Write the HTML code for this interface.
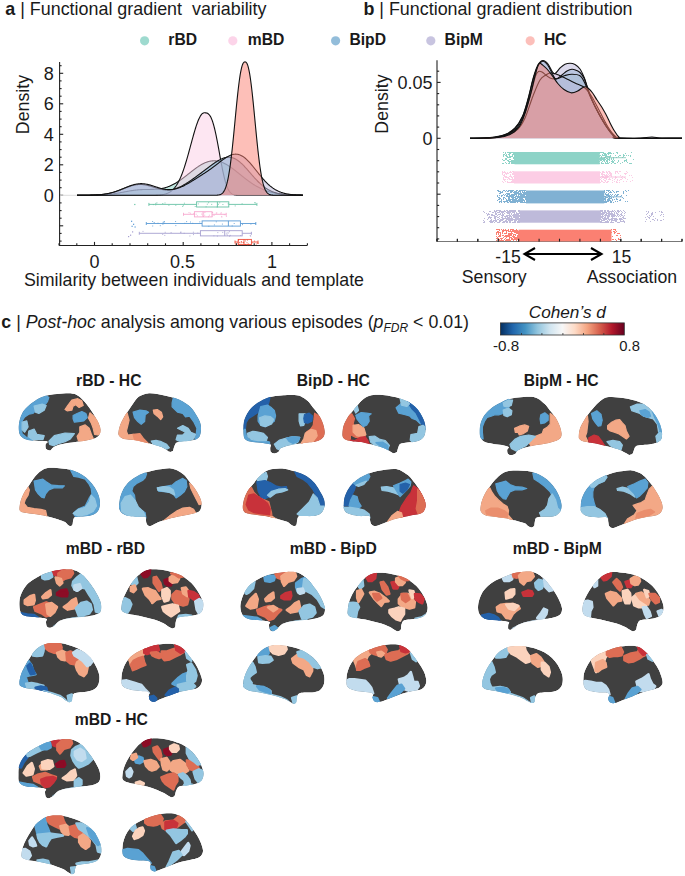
<!DOCTYPE html>
<html><head><meta charset="utf-8"><style>
html,body{margin:0;padding:0;background:#fff;}
body{width:685px;height:876px;overflow:hidden;}
svg{display:block;}
text{font-family:"Liberation Sans",sans-serif;}
</style></head><body>
<svg width="685" height="876" viewBox="0 0 685 876" font-family="Liberation Sans, sans-serif">
<rect width="685" height="876" fill="#fff"/>
<text x="5.3" y="15.3" font-size="17.9" fill="#1a1a1a"><tspan font-weight="bold">a</tspan> | Functional gradient&#160; variability</text>
<text x="363.4" y="15.3" font-size="17.9" fill="#1a1a1a"><tspan font-weight="bold">b</tspan> | Functional gradient distribution</text>
<circle cx="144.6" cy="40.8" r="4.6" fill="#8dd3c7" fill-opacity="0.85"/>
<text x="168.3" y="45.0" font-size="15.7" font-weight="bold" fill="#1a1a1a">rBD</text>
<circle cx="232.8" cy="40.8" r="4.6" fill="#fccde5" fill-opacity="0.85"/>
<text x="247.7" y="45.0" font-size="15.7" font-weight="bold" fill="#1a1a1a">mBD</text>
<circle cx="335.6" cy="40.8" r="4.6" fill="#80b1d3" fill-opacity="0.85"/>
<text x="349.4" y="45.0" font-size="15.7" font-weight="bold" fill="#1a1a1a">BipD</text>
<circle cx="430.8" cy="40.8" r="4.6" fill="#bebada" fill-opacity="0.85"/>
<text x="444.6" y="45.0" font-size="15.7" font-weight="bold" fill="#1a1a1a">BipM</text>
<circle cx="530.2" cy="40.8" r="4.6" fill="#fbb4ae" fill-opacity="0.85"/>
<text x="544.0" y="45.0" font-size="15.7" font-weight="bold" fill="#1a1a1a">HC</text>
<g stroke="#222" stroke-width="1.1" fill="none">
<path d="M59.6,62 V245.5 H307.2"/>
<path d="M59.6,241.1 h2.0"/>
<path d="M59.6,233.4 h2.0"/>
<path d="M59.6,225.8 h3.6"/>
<path d="M59.6,218.2 h2.0"/>
<path d="M59.6,210.6 h2.0"/>
<path d="M59.6,202.9 h2.0"/>
<path d="M59.6,195.3 h3.6"/>
<path d="M59.6,187.7 h2.0"/>
<path d="M59.6,180.1 h2.0"/>
<path d="M59.6,172.4 h2.0"/>
<path d="M59.6,164.8 h3.6"/>
<path d="M59.6,157.2 h2.0"/>
<path d="M59.6,149.6 h2.0"/>
<path d="M59.6,141.9 h2.0"/>
<path d="M59.6,134.3 h3.6"/>
<path d="M59.6,126.7 h2.0"/>
<path d="M59.6,119.1 h2.0"/>
<path d="M59.6,111.4 h2.0"/>
<path d="M59.6,103.8 h3.6"/>
<path d="M59.6,96.2 h2.0"/>
<path d="M59.6,88.6 h2.0"/>
<path d="M59.6,80.9 h2.0"/>
<path d="M59.6,73.3 h3.6"/>
<path d="M59.6,65.7 h2.0"/>
<path d="M59.0,245.5 v-2.2"/>
<path d="M76.8,245.5 v-2.2"/>
<path d="M94.5,245.5 v-3.6"/>
<path d="M112.2,245.5 v-2.2"/>
<path d="M130.0,245.5 v-2.2"/>
<path d="M147.7,245.5 v-2.2"/>
<path d="M165.5,245.5 v-2.2"/>
<path d="M183.2,245.5 v-3.6"/>
<path d="M200.9,245.5 v-2.2"/>
<path d="M218.7,245.5 v-2.2"/>
<path d="M236.4,245.5 v-2.2"/>
<path d="M254.2,245.5 v-2.2"/>
<path d="M271.9,245.5 v-3.6"/>
<path d="M289.6,245.5 v-2.2"/>
<path d="M307.4,245.5 v-2.2"/>
</g>
<text x="53.8" y="201.60000000000002" font-size="18" font-weight="normal" font-style="normal" text-anchor="end" fill="#1a1a1a" >0</text>
<text x="53.8" y="171.10000000000002" font-size="18" font-weight="normal" font-style="normal" text-anchor="end" fill="#1a1a1a" >2</text>
<text x="53.8" y="140.60000000000002" font-size="18" font-weight="normal" font-style="normal" text-anchor="end" fill="#1a1a1a" >4</text>
<text x="53.8" y="110.1" font-size="18" font-weight="normal" font-style="normal" text-anchor="end" fill="#1a1a1a" >6</text>
<text x="53.8" y="79.6" font-size="18" font-weight="normal" font-style="normal" text-anchor="end" fill="#1a1a1a" >8</text>
<text x="94.5" y="267.5" font-size="18" font-weight="normal" font-style="normal" text-anchor="middle" fill="#1a1a1a" >0</text>
<text x="182.6" y="267.5" font-size="18" font-weight="normal" font-style="normal" text-anchor="middle" fill="#1a1a1a" >0.5</text>
<text x="272" y="267.5" font-size="18" font-weight="normal" font-style="normal" text-anchor="middle" fill="#1a1a1a" >1</text>
<text x="194" y="285.6" font-size="17.8" font-weight="normal" font-style="normal" text-anchor="middle" fill="#1a1a1a" >Similarity between individuals and template</text>
<text transform="translate(28.9,104.5) rotate(-90)" font-size="17.8" text-anchor="middle" fill="#1a1a1a">Density</text>
<path d="M77.0,195.3 L77.0,195.29 L77.5,195.29 L78.0,195.29 L78.5,195.29 L79.0,195.29 L79.5,195.29 L80.0,195.29 L80.5,195.29 L81.0,195.29 L81.5,195.29 L82.0,195.29 L82.5,195.28 L83.0,195.28 L83.5,195.28 L84.0,195.28 L84.5,195.28 L85.0,195.27 L85.5,195.27 L86.0,195.27 L86.5,195.26 L87.0,195.26 L87.5,195.26 L88.0,195.25 L88.5,195.25 L89.0,195.24 L89.5,195.24 L90.0,195.23 L90.5,195.23 L91.0,195.22 L91.5,195.21 L92.0,195.21 L92.5,195.20 L93.0,195.19 L93.5,195.18 L94.0,195.17 L94.5,195.16 L95.0,195.15 L95.5,195.14 L96.0,195.12 L96.5,195.11 L97.0,195.09 L97.5,195.08 L98.0,195.06 L98.5,195.04 L99.0,195.03 L99.5,195.01 L100.0,194.98 L100.5,194.96 L101.0,194.94 L101.5,194.91 L102.0,194.89 L102.5,194.86 L103.0,194.83 L103.5,194.80 L104.0,194.76 L104.5,194.73 L105.0,194.69 L105.5,194.66 L106.0,194.62 L106.5,194.58 L107.0,194.53 L107.5,194.49 L108.0,194.44 L108.5,194.39 L109.0,194.34 L109.5,194.29 L110.0,194.23 L110.5,194.18 L111.0,194.12 L111.5,194.06 L112.0,194.00 L112.5,193.93 L113.0,193.87 L113.5,193.80 L114.0,193.73 L114.5,193.65 L115.0,193.58 L115.5,193.50 L116.0,193.43 L116.5,193.35 L117.0,193.27 L117.5,193.18 L118.0,193.10 L118.5,193.01 L119.0,192.93 L119.5,192.84 L120.0,192.75 L120.5,192.66 L121.0,192.57 L121.5,192.47 L122.0,192.38 L122.5,192.29 L123.0,192.19 L123.5,192.10 L124.0,192.00 L124.5,191.91 L125.0,191.81 L125.5,191.72 L126.0,191.63 L126.5,191.53 L127.0,191.44 L127.5,191.35 L128.0,191.26 L128.5,191.17 L129.0,191.08 L129.5,190.99 L130.0,190.91 L130.5,190.82 L131.0,190.74 L131.5,190.66 L132.0,190.59 L132.5,190.51 L133.0,190.44 L133.5,190.37 L134.0,190.30 L134.5,190.23 L135.0,190.17 L135.5,190.11 L136.0,190.05 L136.5,190.00 L137.0,189.95 L137.5,189.90 L138.0,189.85 L138.5,189.81 L139.0,189.77 L139.5,189.73 L140.0,189.70 L140.5,189.67 L141.0,189.64 L141.5,189.61 L142.0,189.59 L142.5,189.57 L143.0,189.55 L143.5,189.53 L144.0,189.52 L144.5,189.50 L145.0,189.49 L145.5,189.48 L146.0,189.47 L146.5,189.47 L147.0,189.46 L147.5,189.45 L148.0,189.45 L148.5,189.44 L149.0,189.44 L149.5,189.43 L150.0,189.43 L150.5,189.42 L151.0,189.41 L151.5,189.40 L152.0,189.39 L152.5,189.38 L153.0,189.37 L153.5,189.35 L154.0,189.33 L154.5,189.31 L155.0,189.28 L155.5,189.26 L156.0,189.22 L156.5,189.19 L157.0,189.15 L157.5,189.10 L158.0,189.05 L158.5,189.00 L159.0,188.94 L159.5,188.88 L160.0,188.81 L160.5,188.73 L161.0,188.65 L161.5,188.56 L162.0,188.47 L162.5,188.37 L163.0,188.26 L163.5,188.15 L164.0,188.02 L164.5,187.90 L165.0,187.76 L165.5,187.62 L166.0,187.47 L166.5,187.31 L167.0,187.15 L167.5,186.98 L168.0,186.80 L168.5,186.61 L169.0,186.42 L169.5,186.22 L170.0,186.01 L170.5,185.79 L171.0,185.56 L171.5,185.33 L172.0,185.09 L172.5,184.84 L173.0,184.59 L173.5,184.33 L174.0,184.06 L174.5,183.78 L175.0,183.50 L175.5,183.21 L176.0,182.91 L176.5,182.61 L177.0,182.30 L177.5,181.98 L178.0,181.66 L178.5,181.33 L179.0,181.00 L179.5,180.66 L180.0,180.31 L180.5,179.96 L181.0,179.61 L181.5,179.25 L182.0,178.89 L182.5,178.52 L183.0,178.15 L183.5,177.77 L184.0,177.39 L184.5,177.01 L185.0,176.63 L185.5,176.24 L186.0,175.85 L186.5,175.46 L187.0,175.07 L187.5,174.68 L188.0,174.28 L188.5,173.89 L189.0,173.49 L189.5,173.10 L190.0,172.70 L190.5,172.31 L191.0,171.92 L191.5,171.52 L192.0,171.14 L192.5,170.75 L193.0,170.36 L193.5,169.98 L194.0,169.60 L194.5,169.23 L195.0,168.86 L195.5,168.49 L196.0,168.13 L196.5,167.77 L197.0,167.42 L197.5,167.08 L198.0,166.74 L198.5,166.40 L199.0,166.08 L199.5,165.76 L200.0,165.45 L200.5,165.14 L201.0,164.85 L201.5,164.56 L202.0,164.28 L202.5,164.01 L203.0,163.75 L203.5,163.50 L204.0,163.26 L204.5,163.02 L205.0,162.80 L205.5,162.59 L206.0,162.39 L206.5,162.20 L207.0,162.03 L207.5,161.86 L208.0,161.70 L208.5,161.56 L209.0,161.43 L209.5,161.31 L210.0,161.20 L210.5,161.11 L211.0,161.03 L211.5,160.96 L212.0,160.90 L212.5,160.86 L213.0,160.83 L213.5,160.81 L214.0,160.80 L214.5,160.81 L215.0,160.83 L215.5,160.86 L216.0,160.90 L216.5,160.96 L217.0,161.03 L217.5,161.11 L218.0,161.21 L218.5,161.31 L219.0,161.43 L219.5,161.56 L220.0,161.71 L220.5,161.86 L221.0,162.03 L221.5,162.21 L222.0,162.40 L222.5,162.60 L223.0,162.81 L223.5,163.03 L224.0,163.26 L224.5,163.50 L225.0,163.75 L225.5,164.01 L226.0,164.29 L226.5,164.57 L227.0,164.85 L227.5,165.15 L228.0,165.46 L228.5,165.77 L229.0,166.09 L229.5,166.42 L230.0,166.75 L230.5,167.09 L231.0,167.44 L231.5,167.79 L232.0,168.15 L232.5,168.52 L233.0,168.88 L233.5,169.26 L234.0,169.64 L234.5,170.02 L235.0,170.40 L235.5,170.79 L236.0,171.18 L236.5,171.58 L237.0,171.97 L237.5,172.37 L238.0,172.77 L238.5,173.17 L239.0,173.57 L239.5,173.97 L240.0,174.37 L240.5,174.78 L241.0,175.18 L241.5,175.58 L242.0,175.98 L242.5,176.38 L243.0,176.78 L243.5,177.18 L244.0,177.57 L244.5,177.96 L245.0,178.35 L245.5,178.74 L246.0,179.12 L246.5,179.50 L247.0,179.88 L247.5,180.26 L248.0,180.63 L248.5,181.00 L249.0,181.36 L249.5,181.72 L250.0,182.07 L250.5,182.42 L251.0,182.77 L251.5,183.11 L252.0,183.44 L252.5,183.77 L253.0,184.10 L253.5,184.42 L254.0,184.74 L254.5,185.05 L255.0,185.35 L255.5,185.65 L256.0,185.94 L256.5,186.23 L257.0,186.51 L257.5,186.79 L258.0,187.06 L258.5,187.33 L259.0,187.59 L259.5,187.84 L260.0,188.09 L260.5,188.33 L261.0,188.57 L261.5,188.80 L262.0,189.02 L262.5,189.24 L263.0,189.46 L263.5,189.67 L264.0,189.87 L264.5,190.07 L265.0,190.26 L265.5,190.45 L266.0,190.63 L266.5,190.81 L267.0,190.98 L267.5,191.15 L268.0,191.31 L268.5,191.47 L269.0,191.62 L269.5,191.77 L270.0,191.91 L270.5,192.05 L271.0,192.18 L271.5,192.31 L272.0,192.43 L272.5,192.56 L273.0,192.67 L273.5,192.78 L274.0,192.89 L274.5,193.00 L275.0,193.10 L275.5,193.20 L276.0,193.29 L276.5,193.38 L277.0,193.47 L277.5,193.55 L278.0,193.63 L278.5,193.71 L279.0,193.78 L279.5,193.86 L280.0,193.92 L280.5,193.99 L281.0,194.05 L281.5,194.11 L282.0,194.17 L282.5,194.23 L283.0,194.28 L283.5,194.33 L284.0,194.38 L284.5,194.43 L285.0,194.47 L285.5,194.51 L286.0,194.55 L286.5,194.59 L287.0,194.63 L287.5,194.67 L288.0,194.70 L288.5,194.73 L289.0,194.76 L289.5,194.79 L290.0,194.82 L290.5,194.85 L291.0,194.87 L291.5,194.89 L292.0,194.92 L292.5,194.94 L293.0,194.96 L293.5,194.98 L294.0,195.00 L294.5,195.01 L295.0,195.03 L295.5,195.05 L296.0,195.06 L296.5,195.08 L297.0,195.09 L297.5,195.10 L298.0,195.11 L298.5,195.12 L299.0,195.14 L299.5,195.15 L300.0,195.15 L300.5,195.16 L301.0,195.17 L301.5,195.18 L302.0,195.19 L302.5,195.19 L303.0,195.20 L303.0,195.3Z" fill="#8dd3c7" fill-opacity="0.55" stroke="none"/>
<path d="M77.0,195.29 L77.5,195.29 L78.0,195.29 L78.5,195.29 L79.0,195.29 L79.5,195.29 L80.0,195.29 L80.5,195.29 L81.0,195.29 L81.5,195.29 L82.0,195.29 L82.5,195.28 L83.0,195.28 L83.5,195.28 L84.0,195.28 L84.5,195.28 L85.0,195.27 L85.5,195.27 L86.0,195.27 L86.5,195.26 L87.0,195.26 L87.5,195.26 L88.0,195.25 L88.5,195.25 L89.0,195.24 L89.5,195.24 L90.0,195.23 L90.5,195.23 L91.0,195.22 L91.5,195.21 L92.0,195.21 L92.5,195.20 L93.0,195.19 L93.5,195.18 L94.0,195.17 L94.5,195.16 L95.0,195.15 L95.5,195.14 L96.0,195.12 L96.5,195.11 L97.0,195.09 L97.5,195.08 L98.0,195.06 L98.5,195.04 L99.0,195.03 L99.5,195.01 L100.0,194.98 L100.5,194.96 L101.0,194.94 L101.5,194.91 L102.0,194.89 L102.5,194.86 L103.0,194.83 L103.5,194.80 L104.0,194.76 L104.5,194.73 L105.0,194.69 L105.5,194.66 L106.0,194.62 L106.5,194.58 L107.0,194.53 L107.5,194.49 L108.0,194.44 L108.5,194.39 L109.0,194.34 L109.5,194.29 L110.0,194.23 L110.5,194.18 L111.0,194.12 L111.5,194.06 L112.0,194.00 L112.5,193.93 L113.0,193.87 L113.5,193.80 L114.0,193.73 L114.5,193.65 L115.0,193.58 L115.5,193.50 L116.0,193.43 L116.5,193.35 L117.0,193.27 L117.5,193.18 L118.0,193.10 L118.5,193.01 L119.0,192.93 L119.5,192.84 L120.0,192.75 L120.5,192.66 L121.0,192.57 L121.5,192.47 L122.0,192.38 L122.5,192.29 L123.0,192.19 L123.5,192.10 L124.0,192.00 L124.5,191.91 L125.0,191.81 L125.5,191.72 L126.0,191.63 L126.5,191.53 L127.0,191.44 L127.5,191.35 L128.0,191.26 L128.5,191.17 L129.0,191.08 L129.5,190.99 L130.0,190.91 L130.5,190.82 L131.0,190.74 L131.5,190.66 L132.0,190.59 L132.5,190.51 L133.0,190.44 L133.5,190.37 L134.0,190.30 L134.5,190.23 L135.0,190.17 L135.5,190.11 L136.0,190.05 L136.5,190.00 L137.0,189.95 L137.5,189.90 L138.0,189.85 L138.5,189.81 L139.0,189.77 L139.5,189.73 L140.0,189.70 L140.5,189.67 L141.0,189.64 L141.5,189.61 L142.0,189.59 L142.5,189.57 L143.0,189.55 L143.5,189.53 L144.0,189.52 L144.5,189.50 L145.0,189.49 L145.5,189.48 L146.0,189.47 L146.5,189.47 L147.0,189.46 L147.5,189.45 L148.0,189.45 L148.5,189.44 L149.0,189.44 L149.5,189.43 L150.0,189.43 L150.5,189.42 L151.0,189.41 L151.5,189.40 L152.0,189.39 L152.5,189.38 L153.0,189.37 L153.5,189.35 L154.0,189.33 L154.5,189.31 L155.0,189.28 L155.5,189.26 L156.0,189.22 L156.5,189.19 L157.0,189.15 L157.5,189.10 L158.0,189.05 L158.5,189.00 L159.0,188.94 L159.5,188.88 L160.0,188.81 L160.5,188.73 L161.0,188.65 L161.5,188.56 L162.0,188.47 L162.5,188.37 L163.0,188.26 L163.5,188.15 L164.0,188.02 L164.5,187.90 L165.0,187.76 L165.5,187.62 L166.0,187.47 L166.5,187.31 L167.0,187.15 L167.5,186.98 L168.0,186.80 L168.5,186.61 L169.0,186.42 L169.5,186.22 L170.0,186.01 L170.5,185.79 L171.0,185.56 L171.5,185.33 L172.0,185.09 L172.5,184.84 L173.0,184.59 L173.5,184.33 L174.0,184.06 L174.5,183.78 L175.0,183.50 L175.5,183.21 L176.0,182.91 L176.5,182.61 L177.0,182.30 L177.5,181.98 L178.0,181.66 L178.5,181.33 L179.0,181.00 L179.5,180.66 L180.0,180.31 L180.5,179.96 L181.0,179.61 L181.5,179.25 L182.0,178.89 L182.5,178.52 L183.0,178.15 L183.5,177.77 L184.0,177.39 L184.5,177.01 L185.0,176.63 L185.5,176.24 L186.0,175.85 L186.5,175.46 L187.0,175.07 L187.5,174.68 L188.0,174.28 L188.5,173.89 L189.0,173.49 L189.5,173.10 L190.0,172.70 L190.5,172.31 L191.0,171.92 L191.5,171.52 L192.0,171.14 L192.5,170.75 L193.0,170.36 L193.5,169.98 L194.0,169.60 L194.5,169.23 L195.0,168.86 L195.5,168.49 L196.0,168.13 L196.5,167.77 L197.0,167.42 L197.5,167.08 L198.0,166.74 L198.5,166.40 L199.0,166.08 L199.5,165.76 L200.0,165.45 L200.5,165.14 L201.0,164.85 L201.5,164.56 L202.0,164.28 L202.5,164.01 L203.0,163.75 L203.5,163.50 L204.0,163.26 L204.5,163.02 L205.0,162.80 L205.5,162.59 L206.0,162.39 L206.5,162.20 L207.0,162.03 L207.5,161.86 L208.0,161.70 L208.5,161.56 L209.0,161.43 L209.5,161.31 L210.0,161.20 L210.5,161.11 L211.0,161.03 L211.5,160.96 L212.0,160.90 L212.5,160.86 L213.0,160.83 L213.5,160.81 L214.0,160.80 L214.5,160.81 L215.0,160.83 L215.5,160.86 L216.0,160.90 L216.5,160.96 L217.0,161.03 L217.5,161.11 L218.0,161.21 L218.5,161.31 L219.0,161.43 L219.5,161.56 L220.0,161.71 L220.5,161.86 L221.0,162.03 L221.5,162.21 L222.0,162.40 L222.5,162.60 L223.0,162.81 L223.5,163.03 L224.0,163.26 L224.5,163.50 L225.0,163.75 L225.5,164.01 L226.0,164.29 L226.5,164.57 L227.0,164.85 L227.5,165.15 L228.0,165.46 L228.5,165.77 L229.0,166.09 L229.5,166.42 L230.0,166.75 L230.5,167.09 L231.0,167.44 L231.5,167.79 L232.0,168.15 L232.5,168.52 L233.0,168.88 L233.5,169.26 L234.0,169.64 L234.5,170.02 L235.0,170.40 L235.5,170.79 L236.0,171.18 L236.5,171.58 L237.0,171.97 L237.5,172.37 L238.0,172.77 L238.5,173.17 L239.0,173.57 L239.5,173.97 L240.0,174.37 L240.5,174.78 L241.0,175.18 L241.5,175.58 L242.0,175.98 L242.5,176.38 L243.0,176.78 L243.5,177.18 L244.0,177.57 L244.5,177.96 L245.0,178.35 L245.5,178.74 L246.0,179.12 L246.5,179.50 L247.0,179.88 L247.5,180.26 L248.0,180.63 L248.5,181.00 L249.0,181.36 L249.5,181.72 L250.0,182.07 L250.5,182.42 L251.0,182.77 L251.5,183.11 L252.0,183.44 L252.5,183.77 L253.0,184.10 L253.5,184.42 L254.0,184.74 L254.5,185.05 L255.0,185.35 L255.5,185.65 L256.0,185.94 L256.5,186.23 L257.0,186.51 L257.5,186.79 L258.0,187.06 L258.5,187.33 L259.0,187.59 L259.5,187.84 L260.0,188.09 L260.5,188.33 L261.0,188.57 L261.5,188.80 L262.0,189.02 L262.5,189.24 L263.0,189.46 L263.5,189.67 L264.0,189.87 L264.5,190.07 L265.0,190.26 L265.5,190.45 L266.0,190.63 L266.5,190.81 L267.0,190.98 L267.5,191.15 L268.0,191.31 L268.5,191.47 L269.0,191.62 L269.5,191.77 L270.0,191.91 L270.5,192.05 L271.0,192.18 L271.5,192.31 L272.0,192.43 L272.5,192.56 L273.0,192.67 L273.5,192.78 L274.0,192.89 L274.5,193.00 L275.0,193.10 L275.5,193.20 L276.0,193.29 L276.5,193.38 L277.0,193.47 L277.5,193.55 L278.0,193.63 L278.5,193.71 L279.0,193.78 L279.5,193.86 L280.0,193.92 L280.5,193.99 L281.0,194.05 L281.5,194.11 L282.0,194.17 L282.5,194.23 L283.0,194.28 L283.5,194.33 L284.0,194.38 L284.5,194.43 L285.0,194.47 L285.5,194.51 L286.0,194.55 L286.5,194.59 L287.0,194.63 L287.5,194.67 L288.0,194.70 L288.5,194.73 L289.0,194.76 L289.5,194.79 L290.0,194.82 L290.5,194.85 L291.0,194.87 L291.5,194.89 L292.0,194.92 L292.5,194.94 L293.0,194.96 L293.5,194.98 L294.0,195.00 L294.5,195.01 L295.0,195.03 L295.5,195.05 L296.0,195.06 L296.5,195.08 L297.0,195.09 L297.5,195.10 L298.0,195.11 L298.5,195.12 L299.0,195.14 L299.5,195.15 L300.0,195.15 L300.5,195.16 L301.0,195.17 L301.5,195.18 L302.0,195.19 L302.5,195.19 L303.0,195.20" fill="none" stroke="#111" stroke-width="1.1"/>
<path d="M77.0,195.3 L77.0,195.30 L77.5,195.30 L78.0,195.30 L78.5,195.30 L79.0,195.30 L79.5,195.30 L80.0,195.30 L80.5,195.30 L81.0,195.30 L81.5,195.30 L82.0,195.30 L82.5,195.30 L83.0,195.30 L83.5,195.30 L84.0,195.30 L84.5,195.30 L85.0,195.30 L85.5,195.30 L86.0,195.30 L86.5,195.30 L87.0,195.30 L87.5,195.30 L88.0,195.30 L88.5,195.30 L89.0,195.30 L89.5,195.30 L90.0,195.30 L90.5,195.30 L91.0,195.30 L91.5,195.30 L92.0,195.30 L92.5,195.30 L93.0,195.30 L93.5,195.30 L94.0,195.30 L94.5,195.30 L95.0,195.30 L95.5,195.30 L96.0,195.30 L96.5,195.30 L97.0,195.30 L97.5,195.30 L98.0,195.30 L98.5,195.30 L99.0,195.30 L99.5,195.30 L100.0,195.30 L100.5,195.30 L101.0,195.30 L101.5,195.30 L102.0,195.30 L102.5,195.30 L103.0,195.30 L103.5,195.30 L104.0,195.30 L104.5,195.30 L105.0,195.30 L105.5,195.30 L106.0,195.30 L106.5,195.30 L107.0,195.30 L107.5,195.30 L108.0,195.30 L108.5,195.30 L109.0,195.30 L109.5,195.30 L110.0,195.30 L110.5,195.30 L111.0,195.30 L111.5,195.30 L112.0,195.30 L112.5,195.30 L113.0,195.30 L113.5,195.30 L114.0,195.30 L114.5,195.30 L115.0,195.30 L115.5,195.30 L116.0,195.30 L116.5,195.30 L117.0,195.30 L117.5,195.30 L118.0,195.30 L118.5,195.30 L119.0,195.30 L119.5,195.30 L120.0,195.30 L120.5,195.30 L121.0,195.30 L121.5,195.30 L122.0,195.30 L122.5,195.30 L123.0,195.30 L123.5,195.30 L124.0,195.30 L124.5,195.30 L125.0,195.30 L125.5,195.30 L126.0,195.30 L126.5,195.30 L127.0,195.30 L127.5,195.30 L128.0,195.30 L128.5,195.30 L129.0,195.30 L129.5,195.30 L130.0,195.30 L130.5,195.30 L131.0,195.30 L131.5,195.30 L132.0,195.30 L132.5,195.30 L133.0,195.30 L133.5,195.30 L134.0,195.30 L134.5,195.30 L135.0,195.30 L135.5,195.30 L136.0,195.30 L136.5,195.30 L137.0,195.30 L137.5,195.30 L138.0,195.30 L138.5,195.30 L139.0,195.30 L139.5,195.30 L140.0,195.30 L140.5,195.30 L141.0,195.30 L141.5,195.30 L142.0,195.30 L142.5,195.30 L143.0,195.30 L143.5,195.30 L144.0,195.30 L144.5,195.30 L145.0,195.29 L145.5,195.29 L146.0,195.29 L146.5,195.29 L147.0,195.29 L147.5,195.29 L148.0,195.29 L148.5,195.28 L149.0,195.28 L149.5,195.28 L150.0,195.27 L150.5,195.27 L151.0,195.26 L151.5,195.26 L152.0,195.25 L152.5,195.25 L153.0,195.24 L153.5,195.23 L154.0,195.22 L154.5,195.21 L155.0,195.19 L155.5,195.18 L156.0,195.16 L156.5,195.14 L157.0,195.12 L157.5,195.09 L158.0,195.06 L158.5,195.03 L159.0,195.00 L159.5,194.96 L160.0,194.91 L160.5,194.86 L161.0,194.80 L161.5,194.74 L162.0,194.67 L162.5,194.60 L163.0,194.51 L163.5,194.42 L164.0,194.32 L164.5,194.20 L165.0,194.08 L165.5,193.94 L166.0,193.79 L166.5,193.62 L167.0,193.44 L167.5,193.24 L168.0,193.03 L168.5,192.79 L169.0,192.54 L169.5,192.26 L170.0,191.96 L170.5,191.63 L171.0,191.28 L171.5,190.90 L172.0,190.49 L172.5,190.05 L173.0,189.58 L173.5,189.07 L174.0,188.53 L174.5,187.95 L175.0,187.33 L175.5,186.67 L176.0,185.97 L176.5,185.23 L177.0,184.44 L177.5,183.61 L178.0,182.73 L178.5,181.81 L179.0,180.83 L179.5,179.81 L180.0,178.73 L180.5,177.61 L181.0,176.43 L181.5,175.21 L182.0,173.93 L182.5,172.61 L183.0,171.23 L183.5,169.81 L184.0,168.34 L184.5,166.83 L185.0,165.27 L185.5,163.67 L186.0,162.02 L186.5,160.35 L187.0,158.63 L187.5,156.89 L188.0,155.12 L188.5,153.32 L189.0,151.51 L189.5,149.67 L190.0,147.83 L190.5,145.98 L191.0,144.13 L191.5,142.28 L192.0,140.44 L192.5,138.61 L193.0,136.80 L193.5,135.02 L194.0,133.27 L194.5,131.56 L195.0,129.88 L195.5,128.26 L196.0,126.69 L196.5,125.18 L197.0,123.73 L197.5,122.35 L198.0,121.05 L198.5,119.83 L199.0,118.69 L199.5,117.65 L200.0,116.69 L200.5,115.84 L201.0,115.08 L201.5,114.43 L202.0,113.89 L202.5,113.45 L203.0,113.13 L203.5,112.91 L204.0,112.81 L204.5,112.80 L205.0,112.81 L205.5,112.83 L206.0,112.89 L206.5,112.99 L207.0,113.14 L207.5,113.36 L208.0,113.65 L208.5,114.04 L209.0,114.51 L209.5,115.10 L210.0,115.80 L210.5,116.62 L211.0,117.58 L211.5,118.67 L212.0,119.91 L212.5,121.29 L213.0,122.81 L213.5,124.48 L214.0,126.30 L214.5,128.25 L215.0,130.35 L215.5,132.57 L216.0,134.90 L216.5,137.35 L217.0,139.89 L217.5,142.52 L218.0,145.20 L218.5,147.94 L219.0,150.71 L219.5,153.50 L220.0,156.28 L220.5,159.04 L221.0,161.76 L221.5,164.43 L222.0,167.02 L222.5,169.52 L223.0,171.93 L223.5,174.22 L224.0,176.40 L224.5,178.44 L225.0,180.35 L225.5,182.12 L226.0,183.76 L226.5,185.25 L227.0,186.60 L227.5,187.82 L228.0,188.92 L228.5,189.89 L229.0,190.74 L229.5,191.49 L230.0,192.13 L230.5,192.69 L231.0,193.16 L231.5,193.57 L232.0,193.90 L232.5,194.18 L233.0,194.41 L233.5,194.60 L234.0,194.76 L234.5,194.88 L235.0,194.98 L235.5,195.06 L236.0,195.12 L236.5,195.16 L237.0,195.20 L237.5,195.23 L238.0,195.25 L238.5,195.26 L239.0,195.27 L239.5,195.28 L240.0,195.29 L240.5,195.29 L241.0,195.29 L241.5,195.30 L242.0,195.30 L242.5,195.30 L243.0,195.30 L243.5,195.30 L244.0,195.30 L244.5,195.30 L245.0,195.30 L245.5,195.30 L246.0,195.30 L246.5,195.30 L247.0,195.30 L247.5,195.30 L248.0,195.30 L248.5,195.30 L249.0,195.30 L249.5,195.30 L250.0,195.30 L250.5,195.30 L251.0,195.30 L251.5,195.30 L252.0,195.30 L252.5,195.30 L253.0,195.30 L253.5,195.30 L254.0,195.30 L254.5,195.30 L255.0,195.30 L255.5,195.30 L256.0,195.30 L256.5,195.30 L257.0,195.30 L257.5,195.30 L258.0,195.30 L258.5,195.30 L259.0,195.30 L259.5,195.30 L260.0,195.30 L260.5,195.30 L261.0,195.30 L261.5,195.30 L262.0,195.30 L262.5,195.30 L263.0,195.30 L263.5,195.30 L264.0,195.30 L264.5,195.30 L265.0,195.30 L265.5,195.30 L266.0,195.30 L266.5,195.30 L267.0,195.30 L267.5,195.30 L268.0,195.30 L268.5,195.30 L269.0,195.30 L269.5,195.30 L270.0,195.30 L270.5,195.30 L271.0,195.30 L271.5,195.30 L272.0,195.30 L272.5,195.30 L273.0,195.30 L273.5,195.30 L274.0,195.30 L274.5,195.30 L275.0,195.30 L275.5,195.30 L276.0,195.30 L276.5,195.30 L277.0,195.30 L277.5,195.30 L278.0,195.30 L278.5,195.30 L279.0,195.30 L279.5,195.30 L280.0,195.30 L280.5,195.30 L281.0,195.30 L281.5,195.30 L282.0,195.30 L282.5,195.30 L283.0,195.30 L283.5,195.30 L284.0,195.30 L284.5,195.30 L285.0,195.30 L285.5,195.30 L286.0,195.30 L286.5,195.30 L287.0,195.30 L287.5,195.30 L288.0,195.30 L288.5,195.30 L289.0,195.30 L289.5,195.30 L290.0,195.30 L290.5,195.30 L291.0,195.30 L291.5,195.30 L292.0,195.30 L292.5,195.30 L293.0,195.30 L293.5,195.30 L294.0,195.30 L294.5,195.30 L295.0,195.30 L295.5,195.30 L296.0,195.30 L296.5,195.30 L297.0,195.30 L297.5,195.30 L298.0,195.30 L298.5,195.30 L299.0,195.30 L299.5,195.30 L300.0,195.30 L300.5,195.30 L301.0,195.30 L301.5,195.30 L302.0,195.30 L302.5,195.30 L303.0,195.30 L303.0,195.3Z" fill="#fccde5" fill-opacity="0.5" stroke="none"/>
<path d="M77.0,195.30 L77.5,195.30 L78.0,195.30 L78.5,195.30 L79.0,195.30 L79.5,195.30 L80.0,195.30 L80.5,195.30 L81.0,195.30 L81.5,195.30 L82.0,195.30 L82.5,195.30 L83.0,195.30 L83.5,195.30 L84.0,195.30 L84.5,195.30 L85.0,195.30 L85.5,195.30 L86.0,195.30 L86.5,195.30 L87.0,195.30 L87.5,195.30 L88.0,195.30 L88.5,195.30 L89.0,195.30 L89.5,195.30 L90.0,195.30 L90.5,195.30 L91.0,195.30 L91.5,195.30 L92.0,195.30 L92.5,195.30 L93.0,195.30 L93.5,195.30 L94.0,195.30 L94.5,195.30 L95.0,195.30 L95.5,195.30 L96.0,195.30 L96.5,195.30 L97.0,195.30 L97.5,195.30 L98.0,195.30 L98.5,195.30 L99.0,195.30 L99.5,195.30 L100.0,195.30 L100.5,195.30 L101.0,195.30 L101.5,195.30 L102.0,195.30 L102.5,195.30 L103.0,195.30 L103.5,195.30 L104.0,195.30 L104.5,195.30 L105.0,195.30 L105.5,195.30 L106.0,195.30 L106.5,195.30 L107.0,195.30 L107.5,195.30 L108.0,195.30 L108.5,195.30 L109.0,195.30 L109.5,195.30 L110.0,195.30 L110.5,195.30 L111.0,195.30 L111.5,195.30 L112.0,195.30 L112.5,195.30 L113.0,195.30 L113.5,195.30 L114.0,195.30 L114.5,195.30 L115.0,195.30 L115.5,195.30 L116.0,195.30 L116.5,195.30 L117.0,195.30 L117.5,195.30 L118.0,195.30 L118.5,195.30 L119.0,195.30 L119.5,195.30 L120.0,195.30 L120.5,195.30 L121.0,195.30 L121.5,195.30 L122.0,195.30 L122.5,195.30 L123.0,195.30 L123.5,195.30 L124.0,195.30 L124.5,195.30 L125.0,195.30 L125.5,195.30 L126.0,195.30 L126.5,195.30 L127.0,195.30 L127.5,195.30 L128.0,195.30 L128.5,195.30 L129.0,195.30 L129.5,195.30 L130.0,195.30 L130.5,195.30 L131.0,195.30 L131.5,195.30 L132.0,195.30 L132.5,195.30 L133.0,195.30 L133.5,195.30 L134.0,195.30 L134.5,195.30 L135.0,195.30 L135.5,195.30 L136.0,195.30 L136.5,195.30 L137.0,195.30 L137.5,195.30 L138.0,195.30 L138.5,195.30 L139.0,195.30 L139.5,195.30 L140.0,195.30 L140.5,195.30 L141.0,195.30 L141.5,195.30 L142.0,195.30 L142.5,195.30 L143.0,195.30 L143.5,195.30 L144.0,195.30 L144.5,195.30 L145.0,195.29 L145.5,195.29 L146.0,195.29 L146.5,195.29 L147.0,195.29 L147.5,195.29 L148.0,195.29 L148.5,195.28 L149.0,195.28 L149.5,195.28 L150.0,195.27 L150.5,195.27 L151.0,195.26 L151.5,195.26 L152.0,195.25 L152.5,195.25 L153.0,195.24 L153.5,195.23 L154.0,195.22 L154.5,195.21 L155.0,195.19 L155.5,195.18 L156.0,195.16 L156.5,195.14 L157.0,195.12 L157.5,195.09 L158.0,195.06 L158.5,195.03 L159.0,195.00 L159.5,194.96 L160.0,194.91 L160.5,194.86 L161.0,194.80 L161.5,194.74 L162.0,194.67 L162.5,194.60 L163.0,194.51 L163.5,194.42 L164.0,194.32 L164.5,194.20 L165.0,194.08 L165.5,193.94 L166.0,193.79 L166.5,193.62 L167.0,193.44 L167.5,193.24 L168.0,193.03 L168.5,192.79 L169.0,192.54 L169.5,192.26 L170.0,191.96 L170.5,191.63 L171.0,191.28 L171.5,190.90 L172.0,190.49 L172.5,190.05 L173.0,189.58 L173.5,189.07 L174.0,188.53 L174.5,187.95 L175.0,187.33 L175.5,186.67 L176.0,185.97 L176.5,185.23 L177.0,184.44 L177.5,183.61 L178.0,182.73 L178.5,181.81 L179.0,180.83 L179.5,179.81 L180.0,178.73 L180.5,177.61 L181.0,176.43 L181.5,175.21 L182.0,173.93 L182.5,172.61 L183.0,171.23 L183.5,169.81 L184.0,168.34 L184.5,166.83 L185.0,165.27 L185.5,163.67 L186.0,162.02 L186.5,160.35 L187.0,158.63 L187.5,156.89 L188.0,155.12 L188.5,153.32 L189.0,151.51 L189.5,149.67 L190.0,147.83 L190.5,145.98 L191.0,144.13 L191.5,142.28 L192.0,140.44 L192.5,138.61 L193.0,136.80 L193.5,135.02 L194.0,133.27 L194.5,131.56 L195.0,129.88 L195.5,128.26 L196.0,126.69 L196.5,125.18 L197.0,123.73 L197.5,122.35 L198.0,121.05 L198.5,119.83 L199.0,118.69 L199.5,117.65 L200.0,116.69 L200.5,115.84 L201.0,115.08 L201.5,114.43 L202.0,113.89 L202.5,113.45 L203.0,113.13 L203.5,112.91 L204.0,112.81 L204.5,112.80 L205.0,112.81 L205.5,112.83 L206.0,112.89 L206.5,112.99 L207.0,113.14 L207.5,113.36 L208.0,113.65 L208.5,114.04 L209.0,114.51 L209.5,115.10 L210.0,115.80 L210.5,116.62 L211.0,117.58 L211.5,118.67 L212.0,119.91 L212.5,121.29 L213.0,122.81 L213.5,124.48 L214.0,126.30 L214.5,128.25 L215.0,130.35 L215.5,132.57 L216.0,134.90 L216.5,137.35 L217.0,139.89 L217.5,142.52 L218.0,145.20 L218.5,147.94 L219.0,150.71 L219.5,153.50 L220.0,156.28 L220.5,159.04 L221.0,161.76 L221.5,164.43 L222.0,167.02 L222.5,169.52 L223.0,171.93 L223.5,174.22 L224.0,176.40 L224.5,178.44 L225.0,180.35 L225.5,182.12 L226.0,183.76 L226.5,185.25 L227.0,186.60 L227.5,187.82 L228.0,188.92 L228.5,189.89 L229.0,190.74 L229.5,191.49 L230.0,192.13 L230.5,192.69 L231.0,193.16 L231.5,193.57 L232.0,193.90 L232.5,194.18 L233.0,194.41 L233.5,194.60 L234.0,194.76 L234.5,194.88 L235.0,194.98 L235.5,195.06 L236.0,195.12 L236.5,195.16 L237.0,195.20 L237.5,195.23 L238.0,195.25 L238.5,195.26 L239.0,195.27 L239.5,195.28 L240.0,195.29 L240.5,195.29 L241.0,195.29 L241.5,195.30 L242.0,195.30 L242.5,195.30 L243.0,195.30 L243.5,195.30 L244.0,195.30 L244.5,195.30 L245.0,195.30 L245.5,195.30 L246.0,195.30 L246.5,195.30 L247.0,195.30 L247.5,195.30 L248.0,195.30 L248.5,195.30 L249.0,195.30 L249.5,195.30 L250.0,195.30 L250.5,195.30 L251.0,195.30 L251.5,195.30 L252.0,195.30 L252.5,195.30 L253.0,195.30 L253.5,195.30 L254.0,195.30 L254.5,195.30 L255.0,195.30 L255.5,195.30 L256.0,195.30 L256.5,195.30 L257.0,195.30 L257.5,195.30 L258.0,195.30 L258.5,195.30 L259.0,195.30 L259.5,195.30 L260.0,195.30 L260.5,195.30 L261.0,195.30 L261.5,195.30 L262.0,195.30 L262.5,195.30 L263.0,195.30 L263.5,195.30 L264.0,195.30 L264.5,195.30 L265.0,195.30 L265.5,195.30 L266.0,195.30 L266.5,195.30 L267.0,195.30 L267.5,195.30 L268.0,195.30 L268.5,195.30 L269.0,195.30 L269.5,195.30 L270.0,195.30 L270.5,195.30 L271.0,195.30 L271.5,195.30 L272.0,195.30 L272.5,195.30 L273.0,195.30 L273.5,195.30 L274.0,195.30 L274.5,195.30 L275.0,195.30 L275.5,195.30 L276.0,195.30 L276.5,195.30 L277.0,195.30 L277.5,195.30 L278.0,195.30 L278.5,195.30 L279.0,195.30 L279.5,195.30 L280.0,195.30 L280.5,195.30 L281.0,195.30 L281.5,195.30 L282.0,195.30 L282.5,195.30 L283.0,195.30 L283.5,195.30 L284.0,195.30 L284.5,195.30 L285.0,195.30 L285.5,195.30 L286.0,195.30 L286.5,195.30 L287.0,195.30 L287.5,195.30 L288.0,195.30 L288.5,195.30 L289.0,195.30 L289.5,195.30 L290.0,195.30 L290.5,195.30 L291.0,195.30 L291.5,195.30 L292.0,195.30 L292.5,195.30 L293.0,195.30 L293.5,195.30 L294.0,195.30 L294.5,195.30 L295.0,195.30 L295.5,195.30 L296.0,195.30 L296.5,195.30 L297.0,195.30 L297.5,195.30 L298.0,195.30 L298.5,195.30 L299.0,195.30 L299.5,195.30 L300.0,195.30 L300.5,195.30 L301.0,195.30 L301.5,195.30 L302.0,195.30 L302.5,195.30 L303.0,195.30" fill="none" stroke="#111" stroke-width="1.1"/>
<path d="M77.0,195.3 L77.0,195.29 L77.5,195.29 L78.0,195.29 L78.5,195.29 L79.0,195.29 L79.5,195.29 L80.0,195.29 L80.5,195.28 L81.0,195.28 L81.5,195.28 L82.0,195.28 L82.5,195.28 L83.0,195.27 L83.5,195.27 L84.0,195.27 L84.5,195.26 L85.0,195.26 L85.5,195.25 L86.0,195.25 L86.5,195.24 L87.0,195.24 L87.5,195.23 L88.0,195.22 L88.5,195.22 L89.0,195.21 L89.5,195.20 L90.0,195.19 L90.5,195.18 L91.0,195.17 L91.5,195.16 L92.0,195.14 L92.5,195.13 L93.0,195.11 L93.5,195.10 L94.0,195.08 L94.5,195.06 L95.0,195.04 L95.5,195.02 L96.0,194.99 L96.5,194.97 L97.0,194.94 L97.5,194.91 L98.0,194.88 L98.5,194.84 L99.0,194.81 L99.5,194.77 L100.0,194.73 L100.5,194.68 L101.0,194.64 L101.5,194.59 L102.0,194.54 L102.5,194.48 L103.0,194.43 L103.5,194.37 L104.0,194.30 L104.5,194.23 L105.0,194.16 L105.5,194.09 L106.0,194.01 L106.5,193.92 L107.0,193.84 L107.5,193.75 L108.0,193.65 L108.5,193.55 L109.0,193.45 L109.5,193.34 L110.0,193.23 L110.5,193.12 L111.0,193.00 L111.5,192.87 L112.0,192.74 L112.5,192.61 L113.0,192.47 L113.5,192.33 L114.0,192.18 L114.5,192.03 L115.0,191.87 L115.5,191.71 L116.0,191.55 L116.5,191.38 L117.0,191.21 L117.5,191.04 L118.0,190.86 L118.5,190.68 L119.0,190.49 L119.5,190.31 L120.0,190.12 L120.5,189.93 L121.0,189.73 L121.5,189.54 L122.0,189.34 L122.5,189.14 L123.0,188.95 L123.5,188.75 L124.0,188.55 L124.5,188.35 L125.0,188.15 L125.5,187.96 L126.0,187.76 L126.5,187.57 L127.0,187.38 L127.5,187.19 L128.0,187.01 L128.5,186.82 L129.0,186.65 L129.5,186.47 L130.0,186.31 L130.5,186.14 L131.0,185.98 L131.5,185.83 L132.0,185.69 L132.5,185.55 L133.0,185.42 L133.5,185.29 L134.0,185.18 L134.5,185.07 L135.0,184.97 L135.5,184.87 L136.0,184.79 L136.5,184.71 L137.0,184.65 L137.5,184.59 L138.0,184.54 L138.5,184.51 L139.0,184.48 L139.5,184.46 L140.0,184.45 L140.5,184.45 L141.0,184.46 L141.5,184.48 L142.0,184.51 L142.5,184.54 L143.0,184.59 L143.5,184.65 L144.0,184.71 L144.5,184.78 L145.0,184.86 L145.5,184.95 L146.0,185.05 L146.5,185.15 L147.0,185.26 L147.5,185.37 L148.0,185.50 L148.5,185.62 L149.0,185.76 L149.5,185.89 L150.0,186.03 L150.5,186.18 L151.0,186.33 L151.5,186.48 L152.0,186.63 L152.5,186.79 L153.0,186.95 L153.5,187.10 L154.0,187.26 L154.5,187.42 L155.0,187.58 L155.5,187.73 L156.0,187.88 L156.5,188.04 L157.0,188.18 L157.5,188.33 L158.0,188.47 L158.5,188.61 L159.0,188.74 L159.5,188.87 L160.0,188.99 L160.5,189.11 L161.0,189.22 L161.5,189.32 L162.0,189.42 L162.5,189.51 L163.0,189.59 L163.5,189.67 L164.0,189.73 L164.5,189.79 L165.0,189.84 L165.5,189.88 L166.0,189.91 L166.5,189.93 L167.0,189.95 L167.5,189.95 L168.0,189.94 L168.5,189.93 L169.0,189.90 L169.5,189.87 L170.0,189.82 L170.5,189.76 L171.0,189.70 L171.5,189.62 L172.0,189.54 L172.5,189.44 L173.0,189.34 L173.5,189.22 L174.0,189.10 L174.5,188.96 L175.0,188.82 L175.5,188.66 L176.0,188.50 L176.5,188.33 L177.0,188.15 L177.5,187.96 L178.0,187.76 L178.5,187.56 L179.0,187.34 L179.5,187.12 L180.0,186.89 L180.5,186.65 L181.0,186.41 L181.5,186.15 L182.0,185.89 L182.5,185.63 L183.0,185.36 L183.5,185.08 L184.0,184.79 L184.5,184.51 L185.0,184.21 L185.5,183.91 L186.0,183.60 L186.5,183.29 L187.0,182.98 L187.5,182.66 L188.0,182.34 L188.5,182.01 L189.0,181.68 L189.5,181.35 L190.0,181.01 L190.5,180.67 L191.0,180.33 L191.5,179.98 L192.0,179.63 L192.5,179.28 L193.0,178.93 L193.5,178.57 L194.0,178.21 L194.5,177.86 L195.0,177.50 L195.5,177.13 L196.0,176.77 L196.5,176.40 L197.0,176.04 L197.5,175.67 L198.0,175.30 L198.5,174.93 L199.0,174.56 L199.5,174.18 L200.0,173.81 L200.5,173.44 L201.0,173.06 L201.5,172.69 L202.0,172.31 L202.5,171.93 L203.0,171.55 L203.5,171.17 L204.0,170.80 L204.5,170.42 L205.0,170.04 L205.5,169.66 L206.0,169.28 L206.5,168.90 L207.0,168.52 L207.5,168.14 L208.0,167.76 L208.5,167.38 L209.0,167.00 L209.5,166.63 L210.0,166.25 L210.5,165.88 L211.0,165.51 L211.5,165.14 L212.0,164.78 L212.5,164.41 L213.0,164.06 L213.5,163.70 L214.0,163.35 L214.5,163.00 L215.0,162.66 L215.5,162.32 L216.0,161.99 L216.5,161.67 L217.0,161.35 L217.5,161.04 L218.0,160.74 L218.5,160.44 L219.0,160.16 L219.5,159.88 L220.0,159.62 L220.5,159.36 L221.0,159.12 L221.5,158.89 L222.0,158.67 L222.5,158.46 L223.0,158.27 L223.5,158.09 L224.0,157.92 L224.5,157.78 L225.0,157.64 L225.5,157.52 L226.0,157.42 L226.5,157.34 L227.0,157.27 L227.5,157.22 L228.0,157.19 L228.5,157.18 L229.0,157.18 L229.5,157.21 L230.0,157.25 L230.5,157.32 L231.0,157.40 L231.5,157.50 L232.0,157.62 L232.5,157.77 L233.0,157.93 L233.5,158.11 L234.0,158.31 L234.5,158.53 L235.0,158.77 L235.5,159.03 L236.0,159.31 L236.5,159.60 L237.0,159.92 L237.5,160.25 L238.0,160.60 L238.5,160.97 L239.0,161.35 L239.5,161.75 L240.0,162.17 L240.5,162.60 L241.0,163.04 L241.5,163.50 L242.0,163.97 L242.5,164.46 L243.0,164.95 L243.5,165.46 L244.0,165.97 L244.5,166.50 L245.0,167.03 L245.5,167.58 L246.0,168.12 L246.5,168.68 L247.0,169.24 L247.5,169.81 L248.0,170.38 L248.5,170.95 L249.0,171.53 L249.5,172.10 L250.0,172.68 L250.5,173.26 L251.0,173.84 L251.5,174.41 L252.0,174.99 L252.5,175.56 L253.0,176.13 L253.5,176.69 L254.0,177.25 L254.5,177.81 L255.0,178.36 L255.5,178.90 L256.0,179.44 L256.5,179.97 L257.0,180.49 L257.5,181.00 L258.0,181.51 L258.5,182.00 L259.0,182.49 L259.5,182.97 L260.0,183.43 L260.5,183.89 L261.0,184.34 L261.5,184.78 L262.0,185.20 L262.5,185.62 L263.0,186.02 L263.5,186.42 L264.0,186.80 L264.5,187.17 L265.0,187.54 L265.5,187.89 L266.0,188.23 L266.5,188.55 L267.0,188.87 L267.5,189.18 L268.0,189.48 L268.5,189.76 L269.0,190.04 L269.5,190.30 L270.0,190.56 L270.5,190.80 L271.0,191.04 L271.5,191.26 L272.0,191.48 L272.5,191.69 L273.0,191.89 L273.5,192.08 L274.0,192.26 L274.5,192.43 L275.0,192.59 L275.5,192.75 L276.0,192.90 L276.5,193.04 L277.0,193.18 L277.5,193.31 L278.0,193.43 L278.5,193.55 L279.0,193.66 L279.5,193.76 L280.0,193.86 L280.5,193.95 L281.0,194.04 L281.5,194.12 L282.0,194.20 L282.5,194.28 L283.0,194.35 L283.5,194.41 L284.0,194.47 L284.5,194.53 L285.0,194.58 L285.5,194.64 L286.0,194.68 L286.5,194.73 L287.0,194.77 L287.5,194.81 L288.0,194.85 L288.5,194.88 L289.0,194.91 L289.5,194.94 L290.0,194.97 L290.5,194.99 L291.0,195.02 L291.5,195.04 L292.0,195.06 L292.5,195.08 L293.0,195.10 L293.5,195.11 L294.0,195.13 L294.5,195.14 L295.0,195.16 L295.5,195.17 L296.0,195.18 L296.5,195.19 L297.0,195.20 L297.5,195.21 L298.0,195.22 L298.5,195.22 L299.0,195.23 L299.5,195.24 L300.0,195.24 L300.5,195.25 L301.0,195.25 L301.5,195.26 L302.0,195.26 L302.5,195.26 L303.0,195.27 L303.0,195.3Z" fill="#80b1d3" fill-opacity="0.55" stroke="none"/>
<path d="M77.0,195.29 L77.5,195.29 L78.0,195.29 L78.5,195.29 L79.0,195.29 L79.5,195.29 L80.0,195.29 L80.5,195.28 L81.0,195.28 L81.5,195.28 L82.0,195.28 L82.5,195.28 L83.0,195.27 L83.5,195.27 L84.0,195.27 L84.5,195.26 L85.0,195.26 L85.5,195.25 L86.0,195.25 L86.5,195.24 L87.0,195.24 L87.5,195.23 L88.0,195.22 L88.5,195.22 L89.0,195.21 L89.5,195.20 L90.0,195.19 L90.5,195.18 L91.0,195.17 L91.5,195.16 L92.0,195.14 L92.5,195.13 L93.0,195.11 L93.5,195.10 L94.0,195.08 L94.5,195.06 L95.0,195.04 L95.5,195.02 L96.0,194.99 L96.5,194.97 L97.0,194.94 L97.5,194.91 L98.0,194.88 L98.5,194.84 L99.0,194.81 L99.5,194.77 L100.0,194.73 L100.5,194.68 L101.0,194.64 L101.5,194.59 L102.0,194.54 L102.5,194.48 L103.0,194.43 L103.5,194.37 L104.0,194.30 L104.5,194.23 L105.0,194.16 L105.5,194.09 L106.0,194.01 L106.5,193.92 L107.0,193.84 L107.5,193.75 L108.0,193.65 L108.5,193.55 L109.0,193.45 L109.5,193.34 L110.0,193.23 L110.5,193.12 L111.0,193.00 L111.5,192.87 L112.0,192.74 L112.5,192.61 L113.0,192.47 L113.5,192.33 L114.0,192.18 L114.5,192.03 L115.0,191.87 L115.5,191.71 L116.0,191.55 L116.5,191.38 L117.0,191.21 L117.5,191.04 L118.0,190.86 L118.5,190.68 L119.0,190.49 L119.5,190.31 L120.0,190.12 L120.5,189.93 L121.0,189.73 L121.5,189.54 L122.0,189.34 L122.5,189.14 L123.0,188.95 L123.5,188.75 L124.0,188.55 L124.5,188.35 L125.0,188.15 L125.5,187.96 L126.0,187.76 L126.5,187.57 L127.0,187.38 L127.5,187.19 L128.0,187.01 L128.5,186.82 L129.0,186.65 L129.5,186.47 L130.0,186.31 L130.5,186.14 L131.0,185.98 L131.5,185.83 L132.0,185.69 L132.5,185.55 L133.0,185.42 L133.5,185.29 L134.0,185.18 L134.5,185.07 L135.0,184.97 L135.5,184.87 L136.0,184.79 L136.5,184.71 L137.0,184.65 L137.5,184.59 L138.0,184.54 L138.5,184.51 L139.0,184.48 L139.5,184.46 L140.0,184.45 L140.5,184.45 L141.0,184.46 L141.5,184.48 L142.0,184.51 L142.5,184.54 L143.0,184.59 L143.5,184.65 L144.0,184.71 L144.5,184.78 L145.0,184.86 L145.5,184.95 L146.0,185.05 L146.5,185.15 L147.0,185.26 L147.5,185.37 L148.0,185.50 L148.5,185.62 L149.0,185.76 L149.5,185.89 L150.0,186.03 L150.5,186.18 L151.0,186.33 L151.5,186.48 L152.0,186.63 L152.5,186.79 L153.0,186.95 L153.5,187.10 L154.0,187.26 L154.5,187.42 L155.0,187.58 L155.5,187.73 L156.0,187.88 L156.5,188.04 L157.0,188.18 L157.5,188.33 L158.0,188.47 L158.5,188.61 L159.0,188.74 L159.5,188.87 L160.0,188.99 L160.5,189.11 L161.0,189.22 L161.5,189.32 L162.0,189.42 L162.5,189.51 L163.0,189.59 L163.5,189.67 L164.0,189.73 L164.5,189.79 L165.0,189.84 L165.5,189.88 L166.0,189.91 L166.5,189.93 L167.0,189.95 L167.5,189.95 L168.0,189.94 L168.5,189.93 L169.0,189.90 L169.5,189.87 L170.0,189.82 L170.5,189.76 L171.0,189.70 L171.5,189.62 L172.0,189.54 L172.5,189.44 L173.0,189.34 L173.5,189.22 L174.0,189.10 L174.5,188.96 L175.0,188.82 L175.5,188.66 L176.0,188.50 L176.5,188.33 L177.0,188.15 L177.5,187.96 L178.0,187.76 L178.5,187.56 L179.0,187.34 L179.5,187.12 L180.0,186.89 L180.5,186.65 L181.0,186.41 L181.5,186.15 L182.0,185.89 L182.5,185.63 L183.0,185.36 L183.5,185.08 L184.0,184.79 L184.5,184.51 L185.0,184.21 L185.5,183.91 L186.0,183.60 L186.5,183.29 L187.0,182.98 L187.5,182.66 L188.0,182.34 L188.5,182.01 L189.0,181.68 L189.5,181.35 L190.0,181.01 L190.5,180.67 L191.0,180.33 L191.5,179.98 L192.0,179.63 L192.5,179.28 L193.0,178.93 L193.5,178.57 L194.0,178.21 L194.5,177.86 L195.0,177.50 L195.5,177.13 L196.0,176.77 L196.5,176.40 L197.0,176.04 L197.5,175.67 L198.0,175.30 L198.5,174.93 L199.0,174.56 L199.5,174.18 L200.0,173.81 L200.5,173.44 L201.0,173.06 L201.5,172.69 L202.0,172.31 L202.5,171.93 L203.0,171.55 L203.5,171.17 L204.0,170.80 L204.5,170.42 L205.0,170.04 L205.5,169.66 L206.0,169.28 L206.5,168.90 L207.0,168.52 L207.5,168.14 L208.0,167.76 L208.5,167.38 L209.0,167.00 L209.5,166.63 L210.0,166.25 L210.5,165.88 L211.0,165.51 L211.5,165.14 L212.0,164.78 L212.5,164.41 L213.0,164.06 L213.5,163.70 L214.0,163.35 L214.5,163.00 L215.0,162.66 L215.5,162.32 L216.0,161.99 L216.5,161.67 L217.0,161.35 L217.5,161.04 L218.0,160.74 L218.5,160.44 L219.0,160.16 L219.5,159.88 L220.0,159.62 L220.5,159.36 L221.0,159.12 L221.5,158.89 L222.0,158.67 L222.5,158.46 L223.0,158.27 L223.5,158.09 L224.0,157.92 L224.5,157.78 L225.0,157.64 L225.5,157.52 L226.0,157.42 L226.5,157.34 L227.0,157.27 L227.5,157.22 L228.0,157.19 L228.5,157.18 L229.0,157.18 L229.5,157.21 L230.0,157.25 L230.5,157.32 L231.0,157.40 L231.5,157.50 L232.0,157.62 L232.5,157.77 L233.0,157.93 L233.5,158.11 L234.0,158.31 L234.5,158.53 L235.0,158.77 L235.5,159.03 L236.0,159.31 L236.5,159.60 L237.0,159.92 L237.5,160.25 L238.0,160.60 L238.5,160.97 L239.0,161.35 L239.5,161.75 L240.0,162.17 L240.5,162.60 L241.0,163.04 L241.5,163.50 L242.0,163.97 L242.5,164.46 L243.0,164.95 L243.5,165.46 L244.0,165.97 L244.5,166.50 L245.0,167.03 L245.5,167.58 L246.0,168.12 L246.5,168.68 L247.0,169.24 L247.5,169.81 L248.0,170.38 L248.5,170.95 L249.0,171.53 L249.5,172.10 L250.0,172.68 L250.5,173.26 L251.0,173.84 L251.5,174.41 L252.0,174.99 L252.5,175.56 L253.0,176.13 L253.5,176.69 L254.0,177.25 L254.5,177.81 L255.0,178.36 L255.5,178.90 L256.0,179.44 L256.5,179.97 L257.0,180.49 L257.5,181.00 L258.0,181.51 L258.5,182.00 L259.0,182.49 L259.5,182.97 L260.0,183.43 L260.5,183.89 L261.0,184.34 L261.5,184.78 L262.0,185.20 L262.5,185.62 L263.0,186.02 L263.5,186.42 L264.0,186.80 L264.5,187.17 L265.0,187.54 L265.5,187.89 L266.0,188.23 L266.5,188.55 L267.0,188.87 L267.5,189.18 L268.0,189.48 L268.5,189.76 L269.0,190.04 L269.5,190.30 L270.0,190.56 L270.5,190.80 L271.0,191.04 L271.5,191.26 L272.0,191.48 L272.5,191.69 L273.0,191.89 L273.5,192.08 L274.0,192.26 L274.5,192.43 L275.0,192.59 L275.5,192.75 L276.0,192.90 L276.5,193.04 L277.0,193.18 L277.5,193.31 L278.0,193.43 L278.5,193.55 L279.0,193.66 L279.5,193.76 L280.0,193.86 L280.5,193.95 L281.0,194.04 L281.5,194.12 L282.0,194.20 L282.5,194.28 L283.0,194.35 L283.5,194.41 L284.0,194.47 L284.5,194.53 L285.0,194.58 L285.5,194.64 L286.0,194.68 L286.5,194.73 L287.0,194.77 L287.5,194.81 L288.0,194.85 L288.5,194.88 L289.0,194.91 L289.5,194.94 L290.0,194.97 L290.5,194.99 L291.0,195.02 L291.5,195.04 L292.0,195.06 L292.5,195.08 L293.0,195.10 L293.5,195.11 L294.0,195.13 L294.5,195.14 L295.0,195.16 L295.5,195.17 L296.0,195.18 L296.5,195.19 L297.0,195.20 L297.5,195.21 L298.0,195.22 L298.5,195.22 L299.0,195.23 L299.5,195.24 L300.0,195.24 L300.5,195.25 L301.0,195.25 L301.5,195.26 L302.0,195.26 L302.5,195.26 L303.0,195.27" fill="none" stroke="#111" stroke-width="1.1"/>
<path d="M77.0,195.3 L77.0,195.29 L77.5,195.29 L78.0,195.29 L78.5,195.29 L79.0,195.28 L79.5,195.28 L80.0,195.28 L80.5,195.28 L81.0,195.28 L81.5,195.27 L82.0,195.27 L82.5,195.27 L83.0,195.27 L83.5,195.26 L84.0,195.26 L84.5,195.25 L85.0,195.25 L85.5,195.24 L86.0,195.24 L86.5,195.23 L87.0,195.23 L87.5,195.22 L88.0,195.21 L88.5,195.20 L89.0,195.19 L89.5,195.18 L90.0,195.17 L90.5,195.16 L91.0,195.15 L91.5,195.13 L92.0,195.12 L92.5,195.10 L93.0,195.08 L93.5,195.07 L94.0,195.05 L94.5,195.02 L95.0,195.00 L95.5,194.98 L96.0,194.95 L96.5,194.92 L97.0,194.89 L97.5,194.86 L98.0,194.83 L98.5,194.79 L99.0,194.75 L99.5,194.71 L100.0,194.67 L100.5,194.62 L101.0,194.57 L101.5,194.52 L102.0,194.47 L102.5,194.41 L103.0,194.35 L103.5,194.28 L104.0,194.21 L104.5,194.14 L105.0,194.07 L105.5,193.99 L106.0,193.91 L106.5,193.82 L107.0,193.73 L107.5,193.64 L108.0,193.54 L108.5,193.43 L109.0,193.33 L109.5,193.22 L110.0,193.10 L110.5,192.98 L111.0,192.86 L111.5,192.73 L112.0,192.59 L112.5,192.45 L113.0,192.31 L113.5,192.17 L114.0,192.01 L114.5,191.86 L115.0,191.70 L115.5,191.53 L116.0,191.37 L116.5,191.19 L117.0,191.02 L117.5,190.84 L118.0,190.65 L118.5,190.47 L119.0,190.28 L119.5,190.09 L120.0,189.89 L120.5,189.69 L121.0,189.49 L121.5,189.29 L122.0,189.09 L122.5,188.88 L123.0,188.68 L123.5,188.47 L124.0,188.26 L124.5,188.06 L125.0,187.85 L125.5,187.64 L126.0,187.44 L126.5,187.24 L127.0,187.03 L127.5,186.83 L128.0,186.64 L128.5,186.44 L129.0,186.25 L129.5,186.07 L130.0,185.89 L130.5,185.71 L131.0,185.54 L131.5,185.37 L132.0,185.21 L132.5,185.05 L133.0,184.91 L133.5,184.77 L134.0,184.63 L134.5,184.51 L135.0,184.39 L135.5,184.28 L136.0,184.17 L136.5,184.08 L137.0,184.00 L137.5,183.92 L138.0,183.85 L138.5,183.80 L139.0,183.75 L139.5,183.71 L140.0,183.68 L140.5,183.66 L141.0,183.66 L141.5,183.66 L142.0,183.67 L142.5,183.69 L143.0,183.71 L143.5,183.75 L144.0,183.80 L144.5,183.86 L145.0,183.92 L145.5,184.00 L146.0,184.08 L146.5,184.17 L147.0,184.27 L147.5,184.37 L148.0,184.49 L148.5,184.61 L149.0,184.73 L149.5,184.86 L150.0,185.00 L150.5,185.14 L151.0,185.29 L151.5,185.44 L152.0,185.59 L152.5,185.75 L153.0,185.91 L153.5,186.07 L154.0,186.24 L154.5,186.40 L155.0,186.57 L155.5,186.74 L156.0,186.90 L156.5,187.07 L157.0,187.23 L157.5,187.39 L158.0,187.55 L158.5,187.71 L159.0,187.86 L159.5,188.01 L160.0,188.16 L160.5,188.30 L161.0,188.44 L161.5,188.57 L162.0,188.69 L162.5,188.81 L163.0,188.92 L163.5,189.03 L164.0,189.13 L164.5,189.22 L165.0,189.30 L165.5,189.38 L166.0,189.44 L166.5,189.50 L167.0,189.55 L167.5,189.59 L168.0,189.62 L168.5,189.64 L169.0,189.65 L169.5,189.65 L170.0,189.65 L170.5,189.63 L171.0,189.60 L171.5,189.56 L172.0,189.52 L172.5,189.46 L173.0,189.39 L173.5,189.31 L174.0,189.23 L174.5,189.13 L175.0,189.03 L175.5,188.91 L176.0,188.78 L176.5,188.65 L177.0,188.51 L177.5,188.35 L178.0,188.19 L178.5,188.02 L179.0,187.84 L179.5,187.66 L180.0,187.46 L180.5,187.26 L181.0,187.05 L181.5,186.83 L182.0,186.61 L182.5,186.38 L183.0,186.14 L183.5,185.90 L184.0,185.65 L184.5,185.39 L185.0,185.13 L185.5,184.87 L186.0,184.60 L186.5,184.32 L187.0,184.05 L187.5,183.76 L188.0,183.48 L188.5,183.19 L189.0,182.90 L189.5,182.60 L190.0,182.30 L190.5,182.00 L191.0,181.70 L191.5,181.40 L192.0,181.09 L192.5,180.79 L193.0,180.48 L193.5,180.17 L194.0,179.86 L194.5,179.55 L195.0,179.23 L195.5,178.92 L196.0,178.61 L196.5,178.29 L197.0,177.98 L197.5,177.66 L198.0,177.35 L198.5,177.03 L199.0,176.71 L199.5,176.40 L200.0,176.08 L200.5,175.76 L201.0,175.44 L201.5,175.12 L202.0,174.80 L202.5,174.48 L203.0,174.16 L203.5,173.83 L204.0,173.51 L204.5,173.18 L205.0,172.85 L205.5,172.52 L206.0,172.19 L206.5,171.86 L207.0,171.52 L207.5,171.18 L208.0,170.84 L208.5,170.50 L209.0,170.15 L209.5,169.80 L210.0,169.45 L210.5,169.09 L211.0,168.73 L211.5,168.37 L212.0,168.01 L212.5,167.64 L213.0,167.27 L213.5,166.90 L214.0,166.53 L214.5,166.15 L215.0,165.77 L215.5,165.39 L216.0,165.00 L216.5,164.62 L217.0,164.23 L217.5,163.85 L218.0,163.46 L218.5,163.07 L219.0,162.68 L219.5,162.30 L220.0,161.91 L220.5,161.53 L221.0,161.14 L221.5,160.77 L222.0,160.39 L222.5,160.02 L223.0,159.65 L223.5,159.29 L224.0,158.94 L224.5,158.59 L225.0,158.25 L225.5,157.92 L226.0,157.60 L226.5,157.28 L227.0,156.98 L227.5,156.69 L228.0,156.41 L228.5,156.15 L229.0,155.89 L229.5,155.66 L230.0,155.43 L230.5,155.23 L231.0,155.04 L231.5,154.86 L232.0,154.71 L232.5,154.57 L233.0,154.45 L233.5,154.35 L234.0,154.27 L234.5,154.21 L235.0,154.18 L235.5,154.16 L236.0,154.16 L236.5,154.19 L237.0,154.24 L237.5,154.31 L238.0,154.41 L238.5,154.52 L239.0,154.66 L239.5,154.82 L240.0,155.01 L240.5,155.21 L241.0,155.44 L241.5,155.70 L242.0,155.97 L242.5,156.26 L243.0,156.58 L243.5,156.92 L244.0,157.28 L244.5,157.65 L245.0,158.05 L245.5,158.47 L246.0,158.90 L246.5,159.35 L247.0,159.82 L247.5,160.31 L248.0,160.81 L248.5,161.33 L249.0,161.85 L249.5,162.40 L250.0,162.95 L250.5,163.52 L251.0,164.09 L251.5,164.68 L252.0,165.28 L252.5,165.88 L253.0,166.49 L253.5,167.11 L254.0,167.73 L254.5,168.35 L255.0,168.98 L255.5,169.61 L256.0,170.25 L256.5,170.88 L257.0,171.51 L257.5,172.15 L258.0,172.78 L258.5,173.41 L259.0,174.03 L259.5,174.66 L260.0,175.27 L260.5,175.89 L261.0,176.49 L261.5,177.09 L262.0,177.68 L262.5,178.27 L263.0,178.85 L263.5,179.41 L264.0,179.97 L264.5,180.52 L265.0,181.06 L265.5,181.59 L266.0,182.11 L266.5,182.62 L267.0,183.11 L267.5,183.60 L268.0,184.07 L268.5,184.53 L269.0,184.98 L269.5,185.42 L270.0,185.85 L270.5,186.26 L271.0,186.66 L271.5,187.05 L272.0,187.43 L272.5,187.79 L273.0,188.15 L273.5,188.49 L274.0,188.82 L274.5,189.13 L275.0,189.44 L275.5,189.74 L276.0,190.02 L276.5,190.29 L277.0,190.55 L277.5,190.80 L278.0,191.05 L278.5,191.28 L279.0,191.50 L279.5,191.71 L280.0,191.91 L280.5,192.10 L281.0,192.29 L281.5,192.46 L282.0,192.63 L282.5,192.79 L283.0,192.94 L283.5,193.08 L284.0,193.22 L284.5,193.35 L285.0,193.47 L285.5,193.59 L286.0,193.70 L286.5,193.80 L287.0,193.90 L287.5,193.99 L288.0,194.08 L288.5,194.16 L289.0,194.24 L289.5,194.31 L290.0,194.38 L290.5,194.44 L291.0,194.50 L291.5,194.56 L292.0,194.61 L292.5,194.66 L293.0,194.71 L293.5,194.75 L294.0,194.79 L294.5,194.83 L295.0,194.87 L295.5,194.90 L296.0,194.93 L296.5,194.96 L297.0,194.99 L297.5,195.01 L298.0,195.03 L298.5,195.05 L299.0,195.07 L299.5,195.09 L300.0,195.11 L300.5,195.13 L301.0,195.14 L301.5,195.15 L302.0,195.17 L302.5,195.18 L303.0,195.19 L303.0,195.3Z" fill="#bebada" fill-opacity="0.55" stroke="none"/>
<path d="M77.0,195.29 L77.5,195.29 L78.0,195.29 L78.5,195.29 L79.0,195.28 L79.5,195.28 L80.0,195.28 L80.5,195.28 L81.0,195.28 L81.5,195.27 L82.0,195.27 L82.5,195.27 L83.0,195.27 L83.5,195.26 L84.0,195.26 L84.5,195.25 L85.0,195.25 L85.5,195.24 L86.0,195.24 L86.5,195.23 L87.0,195.23 L87.5,195.22 L88.0,195.21 L88.5,195.20 L89.0,195.19 L89.5,195.18 L90.0,195.17 L90.5,195.16 L91.0,195.15 L91.5,195.13 L92.0,195.12 L92.5,195.10 L93.0,195.08 L93.5,195.07 L94.0,195.05 L94.5,195.02 L95.0,195.00 L95.5,194.98 L96.0,194.95 L96.5,194.92 L97.0,194.89 L97.5,194.86 L98.0,194.83 L98.5,194.79 L99.0,194.75 L99.5,194.71 L100.0,194.67 L100.5,194.62 L101.0,194.57 L101.5,194.52 L102.0,194.47 L102.5,194.41 L103.0,194.35 L103.5,194.28 L104.0,194.21 L104.5,194.14 L105.0,194.07 L105.5,193.99 L106.0,193.91 L106.5,193.82 L107.0,193.73 L107.5,193.64 L108.0,193.54 L108.5,193.43 L109.0,193.33 L109.5,193.22 L110.0,193.10 L110.5,192.98 L111.0,192.86 L111.5,192.73 L112.0,192.59 L112.5,192.45 L113.0,192.31 L113.5,192.17 L114.0,192.01 L114.5,191.86 L115.0,191.70 L115.5,191.53 L116.0,191.37 L116.5,191.19 L117.0,191.02 L117.5,190.84 L118.0,190.65 L118.5,190.47 L119.0,190.28 L119.5,190.09 L120.0,189.89 L120.5,189.69 L121.0,189.49 L121.5,189.29 L122.0,189.09 L122.5,188.88 L123.0,188.68 L123.5,188.47 L124.0,188.26 L124.5,188.06 L125.0,187.85 L125.5,187.64 L126.0,187.44 L126.5,187.24 L127.0,187.03 L127.5,186.83 L128.0,186.64 L128.5,186.44 L129.0,186.25 L129.5,186.07 L130.0,185.89 L130.5,185.71 L131.0,185.54 L131.5,185.37 L132.0,185.21 L132.5,185.05 L133.0,184.91 L133.5,184.77 L134.0,184.63 L134.5,184.51 L135.0,184.39 L135.5,184.28 L136.0,184.17 L136.5,184.08 L137.0,184.00 L137.5,183.92 L138.0,183.85 L138.5,183.80 L139.0,183.75 L139.5,183.71 L140.0,183.68 L140.5,183.66 L141.0,183.66 L141.5,183.66 L142.0,183.67 L142.5,183.69 L143.0,183.71 L143.5,183.75 L144.0,183.80 L144.5,183.86 L145.0,183.92 L145.5,184.00 L146.0,184.08 L146.5,184.17 L147.0,184.27 L147.5,184.37 L148.0,184.49 L148.5,184.61 L149.0,184.73 L149.5,184.86 L150.0,185.00 L150.5,185.14 L151.0,185.29 L151.5,185.44 L152.0,185.59 L152.5,185.75 L153.0,185.91 L153.5,186.07 L154.0,186.24 L154.5,186.40 L155.0,186.57 L155.5,186.74 L156.0,186.90 L156.5,187.07 L157.0,187.23 L157.5,187.39 L158.0,187.55 L158.5,187.71 L159.0,187.86 L159.5,188.01 L160.0,188.16 L160.5,188.30 L161.0,188.44 L161.5,188.57 L162.0,188.69 L162.5,188.81 L163.0,188.92 L163.5,189.03 L164.0,189.13 L164.5,189.22 L165.0,189.30 L165.5,189.38 L166.0,189.44 L166.5,189.50 L167.0,189.55 L167.5,189.59 L168.0,189.62 L168.5,189.64 L169.0,189.65 L169.5,189.65 L170.0,189.65 L170.5,189.63 L171.0,189.60 L171.5,189.56 L172.0,189.52 L172.5,189.46 L173.0,189.39 L173.5,189.31 L174.0,189.23 L174.5,189.13 L175.0,189.03 L175.5,188.91 L176.0,188.78 L176.5,188.65 L177.0,188.51 L177.5,188.35 L178.0,188.19 L178.5,188.02 L179.0,187.84 L179.5,187.66 L180.0,187.46 L180.5,187.26 L181.0,187.05 L181.5,186.83 L182.0,186.61 L182.5,186.38 L183.0,186.14 L183.5,185.90 L184.0,185.65 L184.5,185.39 L185.0,185.13 L185.5,184.87 L186.0,184.60 L186.5,184.32 L187.0,184.05 L187.5,183.76 L188.0,183.48 L188.5,183.19 L189.0,182.90 L189.5,182.60 L190.0,182.30 L190.5,182.00 L191.0,181.70 L191.5,181.40 L192.0,181.09 L192.5,180.79 L193.0,180.48 L193.5,180.17 L194.0,179.86 L194.5,179.55 L195.0,179.23 L195.5,178.92 L196.0,178.61 L196.5,178.29 L197.0,177.98 L197.5,177.66 L198.0,177.35 L198.5,177.03 L199.0,176.71 L199.5,176.40 L200.0,176.08 L200.5,175.76 L201.0,175.44 L201.5,175.12 L202.0,174.80 L202.5,174.48 L203.0,174.16 L203.5,173.83 L204.0,173.51 L204.5,173.18 L205.0,172.85 L205.5,172.52 L206.0,172.19 L206.5,171.86 L207.0,171.52 L207.5,171.18 L208.0,170.84 L208.5,170.50 L209.0,170.15 L209.5,169.80 L210.0,169.45 L210.5,169.09 L211.0,168.73 L211.5,168.37 L212.0,168.01 L212.5,167.64 L213.0,167.27 L213.5,166.90 L214.0,166.53 L214.5,166.15 L215.0,165.77 L215.5,165.39 L216.0,165.00 L216.5,164.62 L217.0,164.23 L217.5,163.85 L218.0,163.46 L218.5,163.07 L219.0,162.68 L219.5,162.30 L220.0,161.91 L220.5,161.53 L221.0,161.14 L221.5,160.77 L222.0,160.39 L222.5,160.02 L223.0,159.65 L223.5,159.29 L224.0,158.94 L224.5,158.59 L225.0,158.25 L225.5,157.92 L226.0,157.60 L226.5,157.28 L227.0,156.98 L227.5,156.69 L228.0,156.41 L228.5,156.15 L229.0,155.89 L229.5,155.66 L230.0,155.43 L230.5,155.23 L231.0,155.04 L231.5,154.86 L232.0,154.71 L232.5,154.57 L233.0,154.45 L233.5,154.35 L234.0,154.27 L234.5,154.21 L235.0,154.18 L235.5,154.16 L236.0,154.16 L236.5,154.19 L237.0,154.24 L237.5,154.31 L238.0,154.41 L238.5,154.52 L239.0,154.66 L239.5,154.82 L240.0,155.01 L240.5,155.21 L241.0,155.44 L241.5,155.70 L242.0,155.97 L242.5,156.26 L243.0,156.58 L243.5,156.92 L244.0,157.28 L244.5,157.65 L245.0,158.05 L245.5,158.47 L246.0,158.90 L246.5,159.35 L247.0,159.82 L247.5,160.31 L248.0,160.81 L248.5,161.33 L249.0,161.85 L249.5,162.40 L250.0,162.95 L250.5,163.52 L251.0,164.09 L251.5,164.68 L252.0,165.28 L252.5,165.88 L253.0,166.49 L253.5,167.11 L254.0,167.73 L254.5,168.35 L255.0,168.98 L255.5,169.61 L256.0,170.25 L256.5,170.88 L257.0,171.51 L257.5,172.15 L258.0,172.78 L258.5,173.41 L259.0,174.03 L259.5,174.66 L260.0,175.27 L260.5,175.89 L261.0,176.49 L261.5,177.09 L262.0,177.68 L262.5,178.27 L263.0,178.85 L263.5,179.41 L264.0,179.97 L264.5,180.52 L265.0,181.06 L265.5,181.59 L266.0,182.11 L266.5,182.62 L267.0,183.11 L267.5,183.60 L268.0,184.07 L268.5,184.53 L269.0,184.98 L269.5,185.42 L270.0,185.85 L270.5,186.26 L271.0,186.66 L271.5,187.05 L272.0,187.43 L272.5,187.79 L273.0,188.15 L273.5,188.49 L274.0,188.82 L274.5,189.13 L275.0,189.44 L275.5,189.74 L276.0,190.02 L276.5,190.29 L277.0,190.55 L277.5,190.80 L278.0,191.05 L278.5,191.28 L279.0,191.50 L279.5,191.71 L280.0,191.91 L280.5,192.10 L281.0,192.29 L281.5,192.46 L282.0,192.63 L282.5,192.79 L283.0,192.94 L283.5,193.08 L284.0,193.22 L284.5,193.35 L285.0,193.47 L285.5,193.59 L286.0,193.70 L286.5,193.80 L287.0,193.90 L287.5,193.99 L288.0,194.08 L288.5,194.16 L289.0,194.24 L289.5,194.31 L290.0,194.38 L290.5,194.44 L291.0,194.50 L291.5,194.56 L292.0,194.61 L292.5,194.66 L293.0,194.71 L293.5,194.75 L294.0,194.79 L294.5,194.83 L295.0,194.87 L295.5,194.90 L296.0,194.93 L296.5,194.96 L297.0,194.99 L297.5,195.01 L298.0,195.03 L298.5,195.05 L299.0,195.07 L299.5,195.09 L300.0,195.11 L300.5,195.13 L301.0,195.14 L301.5,195.15 L302.0,195.17 L302.5,195.18 L303.0,195.19" fill="none" stroke="#111" stroke-width="1.1"/>
<path d="M77.0,195.3 L77.0,195.30 L77.5,195.30 L78.0,195.30 L78.5,195.30 L79.0,195.30 L79.5,195.30 L80.0,195.30 L80.5,195.30 L81.0,195.30 L81.5,195.30 L82.0,195.30 L82.5,195.30 L83.0,195.30 L83.5,195.30 L84.0,195.30 L84.5,195.30 L85.0,195.30 L85.5,195.30 L86.0,195.30 L86.5,195.30 L87.0,195.30 L87.5,195.30 L88.0,195.30 L88.5,195.30 L89.0,195.30 L89.5,195.30 L90.0,195.30 L90.5,195.30 L91.0,195.30 L91.5,195.30 L92.0,195.30 L92.5,195.30 L93.0,195.30 L93.5,195.30 L94.0,195.30 L94.5,195.30 L95.0,195.30 L95.5,195.30 L96.0,195.30 L96.5,195.30 L97.0,195.30 L97.5,195.30 L98.0,195.30 L98.5,195.30 L99.0,195.30 L99.5,195.30 L100.0,195.30 L100.5,195.30 L101.0,195.30 L101.5,195.30 L102.0,195.30 L102.5,195.30 L103.0,195.30 L103.5,195.30 L104.0,195.30 L104.5,195.30 L105.0,195.30 L105.5,195.30 L106.0,195.30 L106.5,195.30 L107.0,195.30 L107.5,195.30 L108.0,195.30 L108.5,195.30 L109.0,195.30 L109.5,195.30 L110.0,195.30 L110.5,195.30 L111.0,195.30 L111.5,195.30 L112.0,195.30 L112.5,195.30 L113.0,195.30 L113.5,195.30 L114.0,195.30 L114.5,195.30 L115.0,195.30 L115.5,195.30 L116.0,195.30 L116.5,195.30 L117.0,195.30 L117.5,195.30 L118.0,195.30 L118.5,195.30 L119.0,195.30 L119.5,195.30 L120.0,195.30 L120.5,195.30 L121.0,195.30 L121.5,195.30 L122.0,195.30 L122.5,195.30 L123.0,195.30 L123.5,195.30 L124.0,195.30 L124.5,195.30 L125.0,195.30 L125.5,195.30 L126.0,195.30 L126.5,195.30 L127.0,195.30 L127.5,195.30 L128.0,195.30 L128.5,195.30 L129.0,195.30 L129.5,195.30 L130.0,195.30 L130.5,195.30 L131.0,195.30 L131.5,195.30 L132.0,195.30 L132.5,195.30 L133.0,195.30 L133.5,195.30 L134.0,195.30 L134.5,195.30 L135.0,195.30 L135.5,195.30 L136.0,195.30 L136.5,195.30 L137.0,195.30 L137.5,195.30 L138.0,195.30 L138.5,195.30 L139.0,195.30 L139.5,195.30 L140.0,195.30 L140.5,195.30 L141.0,195.30 L141.5,195.30 L142.0,195.30 L142.5,195.30 L143.0,195.30 L143.5,195.30 L144.0,195.30 L144.5,195.30 L145.0,195.30 L145.5,195.30 L146.0,195.30 L146.5,195.30 L147.0,195.30 L147.5,195.30 L148.0,195.30 L148.5,195.30 L149.0,195.30 L149.5,195.30 L150.0,195.30 L150.5,195.30 L151.0,195.30 L151.5,195.30 L152.0,195.30 L152.5,195.30 L153.0,195.30 L153.5,195.30 L154.0,195.30 L154.5,195.30 L155.0,195.30 L155.5,195.30 L156.0,195.30 L156.5,195.30 L157.0,195.30 L157.5,195.30 L158.0,195.30 L158.5,195.30 L159.0,195.30 L159.5,195.30 L160.0,195.30 L160.5,195.30 L161.0,195.30 L161.5,195.30 L162.0,195.30 L162.5,195.30 L163.0,195.30 L163.5,195.30 L164.0,195.30 L164.5,195.30 L165.0,195.30 L165.5,195.30 L166.0,195.30 L166.5,195.30 L167.0,195.30 L167.5,195.30 L168.0,195.30 L168.5,195.30 L169.0,195.30 L169.5,195.30 L170.0,195.30 L170.5,195.30 L171.0,195.30 L171.5,195.30 L172.0,195.30 L172.5,195.30 L173.0,195.30 L173.5,195.30 L174.0,195.30 L174.5,195.30 L175.0,195.30 L175.5,195.30 L176.0,195.30 L176.5,195.30 L177.0,195.30 L177.5,195.30 L178.0,195.30 L178.5,195.30 L179.0,195.30 L179.5,195.30 L180.0,195.30 L180.5,195.30 L181.0,195.30 L181.5,195.30 L182.0,195.30 L182.5,195.30 L183.0,195.30 L183.5,195.30 L184.0,195.30 L184.5,195.30 L185.0,195.30 L185.5,195.30 L186.0,195.30 L186.5,195.30 L187.0,195.30 L187.5,195.30 L188.0,195.30 L188.5,195.30 L189.0,195.30 L189.5,195.30 L190.0,195.30 L190.5,195.30 L191.0,195.30 L191.5,195.30 L192.0,195.30 L192.5,195.30 L193.0,195.30 L193.5,195.30 L194.0,195.30 L194.5,195.30 L195.0,195.30 L195.5,195.30 L196.0,195.30 L196.5,195.30 L197.0,195.30 L197.5,195.30 L198.0,195.30 L198.5,195.30 L199.0,195.30 L199.5,195.30 L200.0,195.30 L200.5,195.30 L201.0,195.30 L201.5,195.30 L202.0,195.30 L202.5,195.30 L203.0,195.30 L203.5,195.30 L204.0,195.30 L204.5,195.30 L205.0,195.30 L205.5,195.30 L206.0,195.30 L206.5,195.30 L207.0,195.30 L207.5,195.30 L208.0,195.30 L208.5,195.30 L209.0,195.30 L209.5,195.30 L210.0,195.30 L210.5,195.30 L211.0,195.30 L211.5,195.30 L212.0,195.30 L212.5,195.29 L213.0,195.29 L213.5,195.29 L214.0,195.28 L214.5,195.27 L215.0,195.26 L215.5,195.25 L216.0,195.23 L216.5,195.20 L217.0,195.17 L217.5,195.12 L218.0,195.07 L218.5,194.99 L219.0,194.90 L219.5,194.77 L220.0,194.62 L220.5,194.43 L221.0,194.19 L221.5,193.89 L222.0,193.53 L222.5,193.09 L223.0,192.55 L223.5,191.92 L224.0,191.16 L224.5,190.27 L225.0,189.23 L225.5,188.01 L226.0,186.61 L226.5,185.01 L227.0,183.19 L227.5,181.13 L228.0,178.83 L228.5,176.26 L229.0,173.43 L229.5,170.33 L230.0,166.96 L230.5,163.31 L231.0,159.40 L231.5,155.24 L232.0,150.84 L232.5,146.22 L233.0,141.42 L233.5,136.47 L234.0,131.38 L234.5,126.22 L235.0,121.01 L235.5,115.80 L236.0,110.63 L236.5,105.55 L237.0,100.60 L237.5,95.83 L238.0,91.27 L238.5,86.97 L239.0,82.96 L239.5,79.26 L240.0,75.90 L240.5,72.91 L241.0,70.28 L241.5,68.04 L242.0,66.17 L242.5,64.67 L243.0,63.53 L243.5,62.72 L244.0,62.21 L244.5,61.96 L245.0,61.90 L245.5,61.96 L246.0,62.21 L246.5,62.72 L247.0,63.53 L247.5,64.67 L248.0,66.17 L248.5,68.04 L249.0,70.28 L249.5,72.91 L250.0,75.90 L250.5,79.26 L251.0,82.96 L251.5,86.97 L252.0,91.27 L252.5,95.83 L253.0,100.60 L253.5,105.55 L254.0,110.63 L254.5,115.80 L255.0,121.01 L255.5,126.22 L256.0,131.38 L256.5,136.47 L257.0,141.42 L257.5,146.22 L258.0,150.84 L258.5,155.24 L259.0,159.40 L259.5,163.31 L260.0,166.96 L260.5,170.33 L261.0,173.43 L261.5,176.26 L262.0,178.83 L262.5,181.13 L263.0,183.19 L263.5,185.01 L264.0,186.61 L264.5,188.01 L265.0,189.23 L265.5,190.27 L266.0,191.16 L266.5,191.92 L267.0,192.55 L267.5,193.09 L268.0,193.53 L268.5,193.89 L269.0,194.19 L269.5,194.43 L270.0,194.62 L270.5,194.77 L271.0,194.90 L271.5,194.99 L272.0,195.07 L272.5,195.12 L273.0,195.17 L273.5,195.20 L274.0,195.23 L274.5,195.25 L275.0,195.26 L275.5,195.27 L276.0,195.28 L276.5,195.29 L277.0,195.29 L277.5,195.29 L278.0,195.30 L278.5,195.30 L279.0,195.30 L279.5,195.30 L280.0,195.30 L280.5,195.30 L281.0,195.30 L281.5,195.30 L282.0,195.30 L282.5,195.30 L283.0,195.30 L283.5,195.30 L284.0,195.30 L284.5,195.30 L285.0,195.30 L285.5,195.30 L286.0,195.30 L286.5,195.30 L287.0,195.30 L287.5,195.30 L288.0,195.30 L288.5,195.30 L289.0,195.30 L289.5,195.30 L290.0,195.30 L290.5,195.30 L291.0,195.30 L291.5,195.30 L292.0,195.30 L292.5,195.30 L293.0,195.30 L293.5,195.30 L294.0,195.30 L294.5,195.30 L295.0,195.30 L295.5,195.30 L296.0,195.30 L296.5,195.30 L297.0,195.30 L297.5,195.30 L298.0,195.30 L298.5,195.30 L299.0,195.30 L299.5,195.30 L300.0,195.30 L300.5,195.30 L301.0,195.30 L301.5,195.30 L302.0,195.30 L302.5,195.30 L303.0,195.30 L303.0,195.3Z" fill="#fb8072" fill-opacity="0.5" stroke="none"/>
<path d="M77.0,195.30 L77.5,195.30 L78.0,195.30 L78.5,195.30 L79.0,195.30 L79.5,195.30 L80.0,195.30 L80.5,195.30 L81.0,195.30 L81.5,195.30 L82.0,195.30 L82.5,195.30 L83.0,195.30 L83.5,195.30 L84.0,195.30 L84.5,195.30 L85.0,195.30 L85.5,195.30 L86.0,195.30 L86.5,195.30 L87.0,195.30 L87.5,195.30 L88.0,195.30 L88.5,195.30 L89.0,195.30 L89.5,195.30 L90.0,195.30 L90.5,195.30 L91.0,195.30 L91.5,195.30 L92.0,195.30 L92.5,195.30 L93.0,195.30 L93.5,195.30 L94.0,195.30 L94.5,195.30 L95.0,195.30 L95.5,195.30 L96.0,195.30 L96.5,195.30 L97.0,195.30 L97.5,195.30 L98.0,195.30 L98.5,195.30 L99.0,195.30 L99.5,195.30 L100.0,195.30 L100.5,195.30 L101.0,195.30 L101.5,195.30 L102.0,195.30 L102.5,195.30 L103.0,195.30 L103.5,195.30 L104.0,195.30 L104.5,195.30 L105.0,195.30 L105.5,195.30 L106.0,195.30 L106.5,195.30 L107.0,195.30 L107.5,195.30 L108.0,195.30 L108.5,195.30 L109.0,195.30 L109.5,195.30 L110.0,195.30 L110.5,195.30 L111.0,195.30 L111.5,195.30 L112.0,195.30 L112.5,195.30 L113.0,195.30 L113.5,195.30 L114.0,195.30 L114.5,195.30 L115.0,195.30 L115.5,195.30 L116.0,195.30 L116.5,195.30 L117.0,195.30 L117.5,195.30 L118.0,195.30 L118.5,195.30 L119.0,195.30 L119.5,195.30 L120.0,195.30 L120.5,195.30 L121.0,195.30 L121.5,195.30 L122.0,195.30 L122.5,195.30 L123.0,195.30 L123.5,195.30 L124.0,195.30 L124.5,195.30 L125.0,195.30 L125.5,195.30 L126.0,195.30 L126.5,195.30 L127.0,195.30 L127.5,195.30 L128.0,195.30 L128.5,195.30 L129.0,195.30 L129.5,195.30 L130.0,195.30 L130.5,195.30 L131.0,195.30 L131.5,195.30 L132.0,195.30 L132.5,195.30 L133.0,195.30 L133.5,195.30 L134.0,195.30 L134.5,195.30 L135.0,195.30 L135.5,195.30 L136.0,195.30 L136.5,195.30 L137.0,195.30 L137.5,195.30 L138.0,195.30 L138.5,195.30 L139.0,195.30 L139.5,195.30 L140.0,195.30 L140.5,195.30 L141.0,195.30 L141.5,195.30 L142.0,195.30 L142.5,195.30 L143.0,195.30 L143.5,195.30 L144.0,195.30 L144.5,195.30 L145.0,195.30 L145.5,195.30 L146.0,195.30 L146.5,195.30 L147.0,195.30 L147.5,195.30 L148.0,195.30 L148.5,195.30 L149.0,195.30 L149.5,195.30 L150.0,195.30 L150.5,195.30 L151.0,195.30 L151.5,195.30 L152.0,195.30 L152.5,195.30 L153.0,195.30 L153.5,195.30 L154.0,195.30 L154.5,195.30 L155.0,195.30 L155.5,195.30 L156.0,195.30 L156.5,195.30 L157.0,195.30 L157.5,195.30 L158.0,195.30 L158.5,195.30 L159.0,195.30 L159.5,195.30 L160.0,195.30 L160.5,195.30 L161.0,195.30 L161.5,195.30 L162.0,195.30 L162.5,195.30 L163.0,195.30 L163.5,195.30 L164.0,195.30 L164.5,195.30 L165.0,195.30 L165.5,195.30 L166.0,195.30 L166.5,195.30 L167.0,195.30 L167.5,195.30 L168.0,195.30 L168.5,195.30 L169.0,195.30 L169.5,195.30 L170.0,195.30 L170.5,195.30 L171.0,195.30 L171.5,195.30 L172.0,195.30 L172.5,195.30 L173.0,195.30 L173.5,195.30 L174.0,195.30 L174.5,195.30 L175.0,195.30 L175.5,195.30 L176.0,195.30 L176.5,195.30 L177.0,195.30 L177.5,195.30 L178.0,195.30 L178.5,195.30 L179.0,195.30 L179.5,195.30 L180.0,195.30 L180.5,195.30 L181.0,195.30 L181.5,195.30 L182.0,195.30 L182.5,195.30 L183.0,195.30 L183.5,195.30 L184.0,195.30 L184.5,195.30 L185.0,195.30 L185.5,195.30 L186.0,195.30 L186.5,195.30 L187.0,195.30 L187.5,195.30 L188.0,195.30 L188.5,195.30 L189.0,195.30 L189.5,195.30 L190.0,195.30 L190.5,195.30 L191.0,195.30 L191.5,195.30 L192.0,195.30 L192.5,195.30 L193.0,195.30 L193.5,195.30 L194.0,195.30 L194.5,195.30 L195.0,195.30 L195.5,195.30 L196.0,195.30 L196.5,195.30 L197.0,195.30 L197.5,195.30 L198.0,195.30 L198.5,195.30 L199.0,195.30 L199.5,195.30 L200.0,195.30 L200.5,195.30 L201.0,195.30 L201.5,195.30 L202.0,195.30 L202.5,195.30 L203.0,195.30 L203.5,195.30 L204.0,195.30 L204.5,195.30 L205.0,195.30 L205.5,195.30 L206.0,195.30 L206.5,195.30 L207.0,195.30 L207.5,195.30 L208.0,195.30 L208.5,195.30 L209.0,195.30 L209.5,195.30 L210.0,195.30 L210.5,195.30 L211.0,195.30 L211.5,195.30 L212.0,195.30 L212.5,195.29 L213.0,195.29 L213.5,195.29 L214.0,195.28 L214.5,195.27 L215.0,195.26 L215.5,195.25 L216.0,195.23 L216.5,195.20 L217.0,195.17 L217.5,195.12 L218.0,195.07 L218.5,194.99 L219.0,194.90 L219.5,194.77 L220.0,194.62 L220.5,194.43 L221.0,194.19 L221.5,193.89 L222.0,193.53 L222.5,193.09 L223.0,192.55 L223.5,191.92 L224.0,191.16 L224.5,190.27 L225.0,189.23 L225.5,188.01 L226.0,186.61 L226.5,185.01 L227.0,183.19 L227.5,181.13 L228.0,178.83 L228.5,176.26 L229.0,173.43 L229.5,170.33 L230.0,166.96 L230.5,163.31 L231.0,159.40 L231.5,155.24 L232.0,150.84 L232.5,146.22 L233.0,141.42 L233.5,136.47 L234.0,131.38 L234.5,126.22 L235.0,121.01 L235.5,115.80 L236.0,110.63 L236.5,105.55 L237.0,100.60 L237.5,95.83 L238.0,91.27 L238.5,86.97 L239.0,82.96 L239.5,79.26 L240.0,75.90 L240.5,72.91 L241.0,70.28 L241.5,68.04 L242.0,66.17 L242.5,64.67 L243.0,63.53 L243.5,62.72 L244.0,62.21 L244.5,61.96 L245.0,61.90 L245.5,61.96 L246.0,62.21 L246.5,62.72 L247.0,63.53 L247.5,64.67 L248.0,66.17 L248.5,68.04 L249.0,70.28 L249.5,72.91 L250.0,75.90 L250.5,79.26 L251.0,82.96 L251.5,86.97 L252.0,91.27 L252.5,95.83 L253.0,100.60 L253.5,105.55 L254.0,110.63 L254.5,115.80 L255.0,121.01 L255.5,126.22 L256.0,131.38 L256.5,136.47 L257.0,141.42 L257.5,146.22 L258.0,150.84 L258.5,155.24 L259.0,159.40 L259.5,163.31 L260.0,166.96 L260.5,170.33 L261.0,173.43 L261.5,176.26 L262.0,178.83 L262.5,181.13 L263.0,183.19 L263.5,185.01 L264.0,186.61 L264.5,188.01 L265.0,189.23 L265.5,190.27 L266.0,191.16 L266.5,191.92 L267.0,192.55 L267.5,193.09 L268.0,193.53 L268.5,193.89 L269.0,194.19 L269.5,194.43 L270.0,194.62 L270.5,194.77 L271.0,194.90 L271.5,194.99 L272.0,195.07 L272.5,195.12 L273.0,195.17 L273.5,195.20 L274.0,195.23 L274.5,195.25 L275.0,195.26 L275.5,195.27 L276.0,195.28 L276.5,195.29 L277.0,195.29 L277.5,195.29 L278.0,195.30 L278.5,195.30 L279.0,195.30 L279.5,195.30 L280.0,195.30 L280.5,195.30 L281.0,195.30 L281.5,195.30 L282.0,195.30 L282.5,195.30 L283.0,195.30 L283.5,195.30 L284.0,195.30 L284.5,195.30 L285.0,195.30 L285.5,195.30 L286.0,195.30 L286.5,195.30 L287.0,195.30 L287.5,195.30 L288.0,195.30 L288.5,195.30 L289.0,195.30 L289.5,195.30 L290.0,195.30 L290.5,195.30 L291.0,195.30 L291.5,195.30 L292.0,195.30 L292.5,195.30 L293.0,195.30 L293.5,195.30 L294.0,195.30 L294.5,195.30 L295.0,195.30 L295.5,195.30 L296.0,195.30 L296.5,195.30 L297.0,195.30 L297.5,195.30 L298.0,195.30 L298.5,195.30 L299.0,195.30 L299.5,195.30 L300.0,195.30 L300.5,195.30 L301.0,195.30 L301.5,195.30 L302.0,195.30 L302.5,195.30 L303.0,195.30" fill="none" stroke="#111" stroke-width="1.1"/>
<path d="M60,195.3 H77" stroke="#ddd" stroke-width="1"/>
<g stroke="#66c2a5" stroke-width="0.9" fill="none">
<path d="M148.9,204.4 H196.6 M228.8,204.4 H256.9 M148.9,202.9 v3 M256.9,202.9 v3"/>
<rect x="196.6" y="201.8" width="32.20000000000002" height="5.2" fill="#fff" fill-opacity="0.6"/>
<path d="M217.4,201.8 v5.2"/>
</g>
<rect x="183.9" y="202.7" width="1" height="1" fill="#66c2a5" opacity="0.8"/>
<rect x="219.2" y="202.3" width="1" height="1" fill="#66c2a5" opacity="0.8"/>
<rect x="206.8" y="203.7" width="1" height="1" fill="#66c2a5" opacity="0.8"/>
<rect x="155.2" y="204.4" width="1" height="1" fill="#66c2a5" opacity="0.8"/>
<rect x="152.9" y="204.1" width="1" height="1" fill="#66c2a5" opacity="0.8"/>
<rect x="156.4" y="202.4" width="1" height="1" fill="#66c2a5" opacity="0.8"/>
<rect x="194.7" y="206.0" width="1" height="1" fill="#66c2a5" opacity="0.8"/>
<rect x="162.3" y="203.0" width="1" height="1" fill="#66c2a5" opacity="0.8"/>
<rect x="216.7" y="206.6" width="1" height="1" fill="#66c2a5" opacity="0.8"/>
<rect x="211.2" y="203.9" width="1" height="1" fill="#66c2a5" opacity="0.8"/>
<rect x="254.3" y="202.1" width="1" height="1" fill="#66c2a5" opacity="0.8"/>
<rect x="241.6" y="203.3" width="1" height="1" fill="#66c2a5" opacity="0.8"/>
<rect x="164.5" y="202.5" width="1" height="1" fill="#66c2a5" opacity="0.8"/>
<rect x="182.2" y="206.0" width="1" height="1" fill="#66c2a5" opacity="0.8"/>
<rect x="168.4" y="204.8" width="1" height="1" fill="#66c2a5" opacity="0.8"/>
<rect x="217.9" y="203.8" width="1" height="1" fill="#66c2a5" opacity="0.8"/>
<rect x="208.1" y="202.2" width="1" height="1" fill="#66c2a5" opacity="0.8"/>
<rect x="155.3" y="202.9" width="1" height="1" fill="#66c2a5" opacity="0.8"/>
<rect x="222.4" y="204.0" width="1" height="1" fill="#66c2a5" opacity="0.8"/>
<rect x="182.8" y="204.8" width="1" height="1" fill="#66c2a5" opacity="0.8"/>
<rect x="197.8" y="203.4" width="1" height="1" fill="#66c2a5" opacity="0.8"/>
<rect x="234.7" y="205.4" width="1" height="1" fill="#66c2a5" opacity="0.8"/>
<rect x="175.3" y="204.8" width="1" height="1" fill="#66c2a5" opacity="0.8"/>
<rect x="205.6" y="206.3" width="1" height="1" fill="#66c2a5" opacity="0.8"/>
<rect x="227.7" y="203.3" width="1" height="1" fill="#66c2a5" opacity="0.8"/>
<rect x="254.8" y="202.5" width="1" height="1" fill="#66c2a5" opacity="0.8"/>
<rect x="134.2" y="203.9" width="1.2" height="1.2" fill="#66c2a5"/>
<g stroke="#f7a8cf" stroke-width="0.9" fill="none">
<path d="M183.5,214.3 H194.4 M212,214.3 H226.2 M183.5,212.8 v3 M226.2,212.8 v3"/>
<rect x="194.4" y="211.70000000000002" width="17.599999999999994" height="5.2" fill="#fff" fill-opacity="0.6"/>
<path d="M203,211.70000000000002 v5.2"/>
</g>
<rect x="215.8" y="212.6" width="1" height="1" fill="#f7a8cf" opacity="0.8"/>
<rect x="204.4" y="212.0" width="1" height="1" fill="#f7a8cf" opacity="0.8"/>
<rect x="212.0" y="215.6" width="1" height="1" fill="#f7a8cf" opacity="0.8"/>
<rect x="208.0" y="216.2" width="1" height="1" fill="#f7a8cf" opacity="0.8"/>
<rect x="196.9" y="215.3" width="1" height="1" fill="#f7a8cf" opacity="0.8"/>
<rect x="208.9" y="214.7" width="1" height="1" fill="#f7a8cf" opacity="0.8"/>
<rect x="203.0" y="216.0" width="1" height="1" fill="#f7a8cf" opacity="0.8"/>
<rect x="223.8" y="214.2" width="1" height="1" fill="#f7a8cf" opacity="0.8"/>
<rect x="211.9" y="212.1" width="1" height="1" fill="#f7a8cf" opacity="0.8"/>
<rect x="213.5" y="215.0" width="1" height="1" fill="#f7a8cf" opacity="0.8"/>
<rect x="225.9" y="215.9" width="1" height="1" fill="#f7a8cf" opacity="0.8"/>
<rect x="195.7" y="213.7" width="1" height="1" fill="#f7a8cf" opacity="0.8"/>
<rect x="212.1" y="211.9" width="1" height="1" fill="#f7a8cf" opacity="0.8"/>
<rect x="203.2" y="212.6" width="1" height="1" fill="#f7a8cf" opacity="0.8"/>
<rect x="188.5" y="212.1" width="1" height="1" fill="#f7a8cf" opacity="0.8"/>
<rect x="216.3" y="212.4" width="1" height="1" fill="#f7a8cf" opacity="0.8"/>
<rect x="194.1" y="213.8" width="1" height="1" fill="#f7a8cf" opacity="0.8"/>
<rect x="220.7" y="212.2" width="1" height="1" fill="#f7a8cf" opacity="0.8"/>
<rect x="202.7" y="214.5" width="1" height="1" fill="#f7a8cf" opacity="0.8"/>
<rect x="221.2" y="215.9" width="1" height="1" fill="#f7a8cf" opacity="0.8"/>
<rect x="220.4" y="213.2" width="1" height="1" fill="#f7a8cf" opacity="0.8"/>
<rect x="201.2" y="213.6" width="1" height="1" fill="#f7a8cf" opacity="0.8"/>
<rect x="221.3" y="216.6" width="1" height="1" fill="#f7a8cf" opacity="0.8"/>
<rect x="189.9" y="212.7" width="1" height="1" fill="#f7a8cf" opacity="0.8"/>
<rect x="193.4" y="213.0" width="1" height="1" fill="#f7a8cf" opacity="0.8"/>
<rect x="204.2" y="214.7" width="1" height="1" fill="#f7a8cf" opacity="0.8"/>
<g stroke="#5b9bd5" stroke-width="0.9" fill="none">
<path d="M146.3,223.5 H202.1 M240.4,223.5 H255.8 M146.3,222.0 v3 M255.8,222.0 v3"/>
<rect x="202.1" y="220.9" width="38.30000000000001" height="5.2" fill="#fff" fill-opacity="0.6"/>
<path d="M228.4,220.9 v5.2"/>
</g>
<rect x="175.1" y="221.0" width="1" height="1" fill="#5b9bd5" opacity="0.8"/>
<rect x="192.2" y="222.8" width="1" height="1" fill="#5b9bd5" opacity="0.8"/>
<rect x="208.3" y="225.8" width="1" height="1" fill="#5b9bd5" opacity="0.8"/>
<rect x="221.9" y="223.6" width="1" height="1" fill="#5b9bd5" opacity="0.8"/>
<rect x="213.9" y="224.4" width="1" height="1" fill="#5b9bd5" opacity="0.8"/>
<rect x="152.2" y="225.5" width="1" height="1" fill="#5b9bd5" opacity="0.8"/>
<rect x="231.7" y="225.4" width="1" height="1" fill="#5b9bd5" opacity="0.8"/>
<rect x="233.7" y="223.0" width="1" height="1" fill="#5b9bd5" opacity="0.8"/>
<rect x="190.0" y="221.5" width="1" height="1" fill="#5b9bd5" opacity="0.8"/>
<rect x="215.8" y="221.3" width="1" height="1" fill="#5b9bd5" opacity="0.8"/>
<rect x="153.7" y="222.0" width="1" height="1" fill="#5b9bd5" opacity="0.8"/>
<rect x="164.1" y="222.7" width="1" height="1" fill="#5b9bd5" opacity="0.8"/>
<rect x="152.1" y="221.0" width="1" height="1" fill="#5b9bd5" opacity="0.8"/>
<rect x="162.9" y="221.5" width="1" height="1" fill="#5b9bd5" opacity="0.8"/>
<rect x="186.1" y="221.1" width="1" height="1" fill="#5b9bd5" opacity="0.8"/>
<rect x="242.0" y="224.1" width="1" height="1" fill="#5b9bd5" opacity="0.8"/>
<rect x="162.6" y="222.3" width="1" height="1" fill="#5b9bd5" opacity="0.8"/>
<rect x="184.3" y="222.8" width="1" height="1" fill="#5b9bd5" opacity="0.8"/>
<rect x="159.8" y="225.2" width="1" height="1" fill="#5b9bd5" opacity="0.8"/>
<rect x="255.0" y="223.3" width="1" height="1" fill="#5b9bd5" opacity="0.8"/>
<rect x="199.3" y="221.4" width="1" height="1" fill="#5b9bd5" opacity="0.8"/>
<rect x="157.5" y="222.7" width="1" height="1" fill="#5b9bd5" opacity="0.8"/>
<rect x="175.3" y="225.1" width="1" height="1" fill="#5b9bd5" opacity="0.8"/>
<rect x="164.0" y="221.1" width="1" height="1" fill="#5b9bd5" opacity="0.8"/>
<rect x="250.4" y="223.6" width="1" height="1" fill="#5b9bd5" opacity="0.8"/>
<rect x="162.4" y="223.7" width="1" height="1" fill="#5b9bd5" opacity="0.8"/>
<rect x="131.0" y="220.7" width="1.2" height="1.2" fill="#5b9bd5"/>
<rect x="133.0" y="223.7" width="1.2" height="1.2" fill="#5b9bd5"/>
<rect x="134.5" y="226.4" width="1.2" height="1.2" fill="#5b9bd5"/>
<rect x="131.5" y="225.7" width="1.2" height="1.2" fill="#5b9bd5"/>
<g stroke="#a59fd0" stroke-width="0.9" fill="none">
<path d="M139.3,233.3 H200.4 M242.2,233.3 H251.4 M139.3,231.8 v3 M251.4,231.8 v3"/>
<rect x="200.4" y="230.70000000000002" width="41.79999999999998" height="5.2" fill="#fff" fill-opacity="0.6"/>
<path d="M224.7,230.70000000000002 v5.2"/>
</g>
<rect x="217.3" y="232.1" width="1" height="1" fill="#a59fd0" opacity="0.8"/>
<rect x="180.4" y="231.6" width="1" height="1" fill="#a59fd0" opacity="0.8"/>
<rect x="225.8" y="233.5" width="1" height="1" fill="#a59fd0" opacity="0.8"/>
<rect x="226.6" y="232.4" width="1" height="1" fill="#a59fd0" opacity="0.8"/>
<rect x="164.3" y="234.9" width="1" height="1" fill="#a59fd0" opacity="0.8"/>
<rect x="249.7" y="235.1" width="1" height="1" fill="#a59fd0" opacity="0.8"/>
<rect x="229.7" y="234.9" width="1" height="1" fill="#a59fd0" opacity="0.8"/>
<rect x="222.2" y="231.9" width="1" height="1" fill="#a59fd0" opacity="0.8"/>
<rect x="197.3" y="232.6" width="1" height="1" fill="#a59fd0" opacity="0.8"/>
<rect x="142.5" y="230.9" width="1" height="1" fill="#a59fd0" opacity="0.8"/>
<rect x="170.6" y="232.1" width="1" height="1" fill="#a59fd0" opacity="0.8"/>
<rect x="216.9" y="235.6" width="1" height="1" fill="#a59fd0" opacity="0.8"/>
<rect x="189.4" y="235.5" width="1" height="1" fill="#a59fd0" opacity="0.8"/>
<rect x="250.1" y="235.6" width="1" height="1" fill="#a59fd0" opacity="0.8"/>
<rect x="180.2" y="231.9" width="1" height="1" fill="#a59fd0" opacity="0.8"/>
<rect x="164.7" y="231.8" width="1" height="1" fill="#a59fd0" opacity="0.8"/>
<rect x="162.2" y="233.9" width="1" height="1" fill="#a59fd0" opacity="0.8"/>
<rect x="240.2" y="235.0" width="1" height="1" fill="#a59fd0" opacity="0.8"/>
<rect x="193.0" y="234.1" width="1" height="1" fill="#a59fd0" opacity="0.8"/>
<rect x="228.9" y="231.2" width="1" height="1" fill="#a59fd0" opacity="0.8"/>
<rect x="213.4" y="235.3" width="1" height="1" fill="#a59fd0" opacity="0.8"/>
<rect x="227.0" y="234.6" width="1" height="1" fill="#a59fd0" opacity="0.8"/>
<rect x="192.9" y="231.7" width="1" height="1" fill="#a59fd0" opacity="0.8"/>
<rect x="227.8" y="232.5" width="1" height="1" fill="#a59fd0" opacity="0.8"/>
<rect x="229.1" y="235.7" width="1" height="1" fill="#a59fd0" opacity="0.8"/>
<rect x="183.7" y="232.8" width="1" height="1" fill="#a59fd0" opacity="0.8"/>
<rect x="128.0" y="236.0" width="1.2" height="1.2" fill="#a59fd0"/>
<rect x="130.0" y="234.6" width="1.2" height="1.2" fill="#a59fd0"/>
<rect x="132.0" y="231.3" width="1.2" height="1.2" fill="#a59fd0"/>
<g stroke="#f0503c" stroke-width="0.9" fill="none">
<path d="M235,242.0 H238.2 M251.4,242.0 H258 M235,240.5 v3 M258,240.5 v3"/>
<rect x="238.2" y="239.4" width="13.200000000000017" height="5.2" fill="#fff" fill-opacity="0.6"/>
<path d="M244,239.4 v5.2"/>
</g>
<rect x="237.9" y="240.3" width="1" height="1" fill="#f0503c" opacity="0.8"/>
<rect x="255.8" y="243.5" width="1" height="1" fill="#f0503c" opacity="0.8"/>
<rect x="238.4" y="243.6" width="1" height="1" fill="#f0503c" opacity="0.8"/>
<rect x="257.5" y="242.8" width="1" height="1" fill="#f0503c" opacity="0.8"/>
<rect x="243.1" y="242.2" width="1" height="1" fill="#f0503c" opacity="0.8"/>
<rect x="238.0" y="239.6" width="1" height="1" fill="#f0503c" opacity="0.8"/>
<rect x="257.3" y="242.7" width="1" height="1" fill="#f0503c" opacity="0.8"/>
<rect x="247.1" y="244.2" width="1" height="1" fill="#f0503c" opacity="0.8"/>
<rect x="245.0" y="243.9" width="1" height="1" fill="#f0503c" opacity="0.8"/>
<rect x="254.0" y="240.6" width="1" height="1" fill="#f0503c" opacity="0.8"/>
<rect x="240.8" y="241.0" width="1" height="1" fill="#f0503c" opacity="0.8"/>
<rect x="240.5" y="242.4" width="1" height="1" fill="#f0503c" opacity="0.8"/>
<rect x="241.0" y="241.6" width="1" height="1" fill="#f0503c" opacity="0.8"/>
<rect x="238.0" y="244.1" width="1" height="1" fill="#f0503c" opacity="0.8"/>
<rect x="243.1" y="241.8" width="1" height="1" fill="#f0503c" opacity="0.8"/>
<rect x="248.4" y="244.0" width="1" height="1" fill="#f0503c" opacity="0.8"/>
<rect x="244.7" y="244.1" width="1" height="1" fill="#f0503c" opacity="0.8"/>
<rect x="246.5" y="242.2" width="1" height="1" fill="#f0503c" opacity="0.8"/>
<rect x="247.0" y="239.6" width="1" height="1" fill="#f0503c" opacity="0.8"/>
<rect x="245.1" y="240.4" width="1" height="1" fill="#f0503c" opacity="0.8"/>
<rect x="235.1" y="243.5" width="1" height="1" fill="#f0503c" opacity="0.8"/>
<rect x="239.0" y="241.9" width="1" height="1" fill="#f0503c" opacity="0.8"/>
<rect x="251.7" y="242.3" width="1" height="1" fill="#f0503c" opacity="0.8"/>
<rect x="242.5" y="242.1" width="1" height="1" fill="#f0503c" opacity="0.8"/>
<rect x="247.8" y="243.4" width="1" height="1" fill="#f0503c" opacity="0.8"/>
<rect x="237.4" y="242.3" width="1" height="1" fill="#f0503c" opacity="0.8"/>
<g stroke="#222" stroke-width="1.1" fill="none">
<path d="M437,60.2 V241.5"/>
</g>
<path d="M437,241.5 H682" stroke="#777" stroke-width="1.1"/>
<g stroke="#222" stroke-width="1.1" fill="none">
<path d="M437,238.9 h2.2"/>
<path d="M437,227.7 h2.2"/>
<path d="M437,216.6 h2.2"/>
<path d="M437,205.4 h2.2"/>
<path d="M437,194.2 h3.6"/>
<path d="M437,183.0 h2.2"/>
<path d="M437,171.8 h2.2"/>
<path d="M437,160.7 h2.2"/>
<path d="M437,149.5 h2.2"/>
<path d="M437,138.3 h3.6"/>
<path d="M437,127.1 h2.2"/>
<path d="M437,115.9 h2.2"/>
<path d="M437,104.8 h2.2"/>
<path d="M437,93.6 h2.2"/>
<path d="M437,82.4 h3.6"/>
<path d="M437,71.2 h2.2"/>
<path d="M437.0,241.5 v-2.6"/>
<path d="M457.4,241.5 v-2.6"/>
<path d="M477.8,241.5 v-2.6"/>
<path d="M498.3,241.5 v-2.6"/>
<path d="M518.7,241.5 v-2.6"/>
<path d="M539.1,241.5 v-2.6"/>
<path d="M559.5,241.5 v-2.6"/>
<path d="M579.9,241.5 v-2.6"/>
<path d="M600.4,241.5 v-2.6"/>
<path d="M620.8,241.5 v-2.6"/>
<path d="M641.2,241.5 v-2.6"/>
<path d="M661.6,241.5 v-2.6"/>
<path d="M682.0,241.5 v-2.6"/>
</g>
<text x="432.6" y="88.7" font-size="18" font-weight="normal" font-style="normal" text-anchor="end" fill="#1a1a1a" >0.05</text>
<text x="432.6" y="144.6" font-size="18" font-weight="normal" font-style="normal" text-anchor="end" fill="#1a1a1a" >0</text>
<text transform="translate(387.7,104) rotate(-90)" font-size="17.8" text-anchor="middle" fill="#1a1a1a">Density</text>
<path d="M470.0,138.3 C473.7,138.2 486.0,138.4 492.0,137.8 C498.0,137.2 502.0,136.5 506.0,135.0 C510.0,133.5 513.2,131.8 516.0,129.0 C518.8,126.2 520.5,124.0 523.0,118.0 C525.5,112.0 528.9,100.0 531.0,93.0 C533.1,86.0 534.2,79.6 535.5,76.0 C536.8,72.4 537.4,72.2 538.5,71.5 C539.6,70.8 540.1,70.9 542.0,72.0 C543.9,73.1 547.5,76.9 550.0,78.0 C552.5,79.1 554.5,79.1 557.0,78.7 C559.5,78.3 562.5,76.2 565.0,75.5 C567.5,74.8 569.5,74.2 572.0,74.2 C574.5,74.2 577.8,74.2 580.0,75.8 C582.2,77.3 583.3,80.1 585.0,83.5 C586.7,86.9 587.8,91.2 590.0,96.0 C592.2,100.8 595.3,107.0 598.0,112.0 C600.7,117.0 603.5,122.1 606.0,126.0 C608.5,129.9 610.7,133.4 613.0,135.5 C615.3,137.6 608.5,137.8 620.0,138.3 C631.5,138.8 671.7,138.3 682.0,138.3 L682,138.3 L470,138.3Z" fill="#8dd3c7" fill-opacity="0.5" stroke="none"/>
<path d="M470.0,138.3 C474.2,138.2 488.7,138.2 495.0,137.6 C501.3,137.0 504.2,136.4 508.0,135.0 C511.8,133.6 515.2,131.8 518.0,129.0 C520.8,126.2 522.5,123.5 525.0,118.0 C527.5,112.5 530.5,102.3 533.0,96.0 C535.5,89.7 537.8,83.5 540.0,80.0 C542.2,76.5 544.3,76.2 546.0,75.0 C547.7,73.8 548.3,73.2 550.0,73.0 C551.7,72.8 553.5,73.2 556.0,74.0 C558.5,74.8 561.8,76.5 565.0,78.0 C568.2,79.5 571.7,81.3 575.0,83.0 C578.3,84.7 582.2,85.7 585.0,88.0 C587.8,90.3 589.5,93.0 592.0,97.0 C594.5,101.0 597.3,107.0 600.0,112.0 C602.7,117.0 605.5,123.0 608.0,127.0 C610.5,131.0 612.8,134.1 615.0,136.0 C617.2,137.9 609.8,137.9 621.0,138.3 C632.2,138.7 671.8,138.3 682.0,138.3 L682,138.3 L470,138.3Z" fill="#fccde5" fill-opacity="0.5" stroke="none"/>
<path d="M470.0,138.3 C473.3,138.2 484.2,138.4 490.0,137.8 C495.8,137.2 500.8,136.4 505.0,134.8 C509.2,133.2 512.1,131.5 515.0,128.5 C517.9,125.5 520.3,121.8 522.5,117.0 C524.7,112.2 526.2,106.5 528.0,100.0 C529.8,93.5 531.8,83.7 533.5,78.0 C535.2,72.3 536.4,68.8 538.0,66.0 C539.6,63.2 541.3,61.4 543.0,61.3 C544.7,61.2 546.5,63.5 548.0,65.5 C549.5,67.5 550.7,70.8 552.0,73.0 C553.3,75.2 554.3,78.7 556.0,79.0 C557.7,79.3 560.2,76.3 562.0,75.0 C563.8,73.7 565.3,72.0 567.0,71.0 C568.7,70.0 570.5,69.3 572.0,69.2 C573.5,69.1 574.7,69.7 576.0,70.2 C577.3,70.8 578.7,71.2 580.0,72.5 C581.3,73.8 582.8,75.7 584.0,78.0 C585.2,80.3 585.8,83.0 587.0,86.5 C588.2,90.0 589.5,94.4 591.5,99.0 C593.5,103.6 596.4,109.5 599.0,114.3 C601.6,119.0 604.4,123.8 607.0,127.5 C609.6,131.2 612.2,134.4 614.5,136.2 C616.8,138.0 609.8,138.0 621.0,138.3 C632.2,138.7 671.8,138.3 682.0,138.3 L682,138.3 L470,138.3Z" fill="#80b1d3" fill-opacity="0.55" stroke="none"/>
<path d="M470.0,138.3 C473.3,138.2 484.2,138.2 490.0,137.6 C495.8,137.0 500.8,136.1 505.0,134.5 C509.2,132.9 512.1,131.0 515.0,128.0 C517.9,125.0 520.3,121.1 522.5,116.3 C524.7,111.5 526.2,105.5 528.0,99.0 C529.8,92.5 531.8,82.7 533.5,77.0 C535.2,71.3 536.4,67.5 538.0,64.8 C539.6,62.0 541.3,60.6 543.0,60.5 C544.7,60.4 546.2,61.8 548.0,64.0 C549.8,66.2 552.0,72.9 554.0,73.6 C556.0,74.3 558.2,69.6 560.0,68.0 C561.8,66.4 563.3,65.0 565.0,64.2 C566.7,63.4 568.3,63.2 570.0,63.2 C571.7,63.2 573.3,63.5 575.0,64.5 C576.7,65.5 578.5,66.9 580.0,69.0 C581.5,71.1 582.8,74.2 584.0,77.0 C585.2,79.8 585.8,82.4 587.0,86.0 C588.2,89.6 589.5,94.1 591.5,98.8 C593.5,103.5 596.4,109.2 599.0,114.0 C601.6,118.8 604.4,123.6 607.0,127.3 C609.6,131.0 612.2,134.2 614.5,136.0 C616.8,137.8 616.8,138.0 621.0,138.3 C625.2,138.6 634.8,138.2 640.0,138.0 C645.2,137.8 648.3,137.0 652.0,137.0 C655.7,137.0 657.0,138.0 662.0,138.2 C667.0,138.4 678.7,138.3 682.0,138.3 L682,138.3 L470,138.3Z" fill="#bebada" fill-opacity="0.55" stroke="none"/>
<path d="M470.0,138.3 C473.7,138.2 486.0,138.4 492.0,137.8 C498.0,137.2 502.0,136.5 506.0,135.0 C510.0,133.5 513.2,131.8 516.0,129.0 C518.8,126.2 520.5,124.0 523.0,118.0 C525.5,112.0 528.9,100.0 531.0,93.0 C533.1,86.0 534.2,79.6 535.5,76.0 C536.8,72.4 537.4,72.2 538.5,71.5 C539.6,70.8 540.1,70.9 542.0,72.0 C543.9,73.1 547.5,76.9 550.0,78.0 C552.5,79.1 554.5,79.1 557.0,78.7 C559.5,78.3 562.5,76.2 565.0,75.5 C567.5,74.8 569.5,74.2 572.0,74.2 C574.5,74.2 577.8,74.2 580.0,75.8 C582.2,77.3 583.3,80.1 585.0,83.5 C586.7,86.9 587.8,91.2 590.0,96.0 C592.2,100.8 595.3,107.0 598.0,112.0 C600.7,117.0 603.5,122.1 606.0,126.0 C608.5,129.9 610.7,133.4 613.0,135.5 C615.3,137.6 608.5,137.8 620.0,138.3 C631.5,138.8 671.7,138.3 682.0,138.3" fill="none" stroke="#111" stroke-width="1.1"/>
<path d="M470.0,138.3 C474.2,138.2 488.7,138.2 495.0,137.6 C501.3,137.0 504.2,136.4 508.0,135.0 C511.8,133.6 515.2,131.8 518.0,129.0 C520.8,126.2 522.5,123.5 525.0,118.0 C527.5,112.5 530.5,102.3 533.0,96.0 C535.5,89.7 537.8,83.5 540.0,80.0 C542.2,76.5 544.3,76.2 546.0,75.0 C547.7,73.8 548.3,73.2 550.0,73.0 C551.7,72.8 553.5,73.2 556.0,74.0 C558.5,74.8 561.8,76.5 565.0,78.0 C568.2,79.5 571.7,81.3 575.0,83.0 C578.3,84.7 582.2,85.7 585.0,88.0 C587.8,90.3 589.5,93.0 592.0,97.0 C594.5,101.0 597.3,107.0 600.0,112.0 C602.7,117.0 605.5,123.0 608.0,127.0 C610.5,131.0 612.8,134.1 615.0,136.0 C617.2,137.9 609.8,137.9 621.0,138.3 C632.2,138.7 671.8,138.3 682.0,138.3" fill="none" stroke="#111" stroke-width="1.1"/>
<path d="M470.0,138.3 C473.3,138.2 484.2,138.4 490.0,137.8 C495.8,137.2 500.8,136.4 505.0,134.8 C509.2,133.2 512.1,131.5 515.0,128.5 C517.9,125.5 520.3,121.8 522.5,117.0 C524.7,112.2 526.2,106.5 528.0,100.0 C529.8,93.5 531.8,83.7 533.5,78.0 C535.2,72.3 536.4,68.8 538.0,66.0 C539.6,63.2 541.3,61.4 543.0,61.3 C544.7,61.2 546.5,63.5 548.0,65.5 C549.5,67.5 550.7,70.8 552.0,73.0 C553.3,75.2 554.3,78.7 556.0,79.0 C557.7,79.3 560.2,76.3 562.0,75.0 C563.8,73.7 565.3,72.0 567.0,71.0 C568.7,70.0 570.5,69.3 572.0,69.2 C573.5,69.1 574.7,69.7 576.0,70.2 C577.3,70.8 578.7,71.2 580.0,72.5 C581.3,73.8 582.8,75.7 584.0,78.0 C585.2,80.3 585.8,83.0 587.0,86.5 C588.2,90.0 589.5,94.4 591.5,99.0 C593.5,103.6 596.4,109.5 599.0,114.3 C601.6,119.0 604.4,123.8 607.0,127.5 C609.6,131.2 612.2,134.4 614.5,136.2 C616.8,138.0 609.8,138.0 621.0,138.3 C632.2,138.7 671.8,138.3 682.0,138.3" fill="none" stroke="#111" stroke-width="1.1"/>
<path d="M470.0,138.3 C473.3,138.2 484.2,138.2 490.0,137.6 C495.8,137.0 500.8,136.1 505.0,134.5 C509.2,132.9 512.1,131.0 515.0,128.0 C517.9,125.0 520.3,121.1 522.5,116.3 C524.7,111.5 526.2,105.5 528.0,99.0 C529.8,92.5 531.8,82.7 533.5,77.0 C535.2,71.3 536.4,67.5 538.0,64.8 C539.6,62.0 541.3,60.6 543.0,60.5 C544.7,60.4 546.2,61.8 548.0,64.0 C549.8,66.2 552.0,72.9 554.0,73.6 C556.0,74.3 558.2,69.6 560.0,68.0 C561.8,66.4 563.3,65.0 565.0,64.2 C566.7,63.4 568.3,63.2 570.0,63.2 C571.7,63.2 573.3,63.5 575.0,64.5 C576.7,65.5 578.5,66.9 580.0,69.0 C581.5,71.1 582.8,74.2 584.0,77.0 C585.2,79.8 585.8,82.4 587.0,86.0 C588.2,89.6 589.5,94.1 591.5,98.8 C593.5,103.5 596.4,109.2 599.0,114.0 C601.6,118.8 604.4,123.6 607.0,127.3 C609.6,131.0 612.2,134.2 614.5,136.0 C616.8,137.8 616.8,138.0 621.0,138.3 C625.2,138.6 634.8,138.2 640.0,138.0 C645.2,137.8 648.3,137.0 652.0,137.0 C655.7,137.0 657.0,138.0 662.0,138.2 C667.0,138.4 678.7,138.3 682.0,138.3" fill="none" stroke="#111" stroke-width="1.1"/>
<path d="M470.0,138.3 C474.7,138.2 491.3,138.1 498.0,137.5 C504.7,136.9 506.5,136.2 510.0,134.5 C513.5,132.8 516.5,130.5 519.0,127.0 C521.5,123.5 523.2,118.6 525.0,113.5 C526.8,108.4 528.4,102.4 530.0,96.5 C531.6,90.6 533.2,82.9 534.5,78.0 C535.8,73.1 536.7,69.5 537.5,67.0 C538.3,64.5 538.8,63.7 539.5,63.3 C540.2,62.9 540.8,63.5 542.0,64.5 C543.2,65.5 545.3,67.1 547.0,69.0 C548.7,70.9 550.6,73.4 552.4,75.8 C554.2,78.2 555.9,81.2 557.8,83.5 C559.7,85.8 561.8,88.0 564.0,89.5 C566.2,91.0 568.7,92.5 571.0,92.8 C573.3,93.1 575.8,91.9 577.6,91.1 C579.4,90.3 580.7,88.7 582.0,88.0 C583.3,87.3 584.2,86.8 585.2,86.8 C586.2,86.8 586.8,87.0 588.0,88.0 C589.2,89.0 591.1,91.0 592.6,93.0 C594.1,95.0 595.5,97.8 597.0,100.0 C598.5,102.2 599.9,104.1 601.4,106.5 C602.9,108.9 604.5,111.8 606.0,114.5 C607.5,117.2 608.7,120.2 610.1,122.9 C611.5,125.7 613.0,128.7 614.5,131.0 C616.0,133.3 617.1,135.8 618.9,137.0 C620.6,138.2 614.5,138.1 625.0,138.3 C635.5,138.5 672.5,138.3 682.0,138.3 L682,138.3 L470,138.3Z" fill="#fb8072" fill-opacity="0.5" stroke="none"/>
<path d="M470.0,138.3 C474.7,138.2 491.3,138.1 498.0,137.5 C504.7,136.9 506.5,136.2 510.0,134.5 C513.5,132.8 516.5,130.5 519.0,127.0 C521.5,123.5 523.2,118.6 525.0,113.5 C526.8,108.4 528.4,102.4 530.0,96.5 C531.6,90.6 533.2,82.9 534.5,78.0 C535.8,73.1 536.7,69.5 537.5,67.0 C538.3,64.5 538.8,63.7 539.5,63.3 C540.2,62.9 540.8,63.5 542.0,64.5 C543.2,65.5 545.3,67.1 547.0,69.0 C548.7,70.9 550.6,73.4 552.4,75.8 C554.2,78.2 555.9,81.2 557.8,83.5 C559.7,85.8 561.8,88.0 564.0,89.5 C566.2,91.0 568.7,92.5 571.0,92.8 C573.3,93.1 575.8,91.9 577.6,91.1 C579.4,90.3 580.7,88.7 582.0,88.0 C583.3,87.3 584.2,86.8 585.2,86.8 C586.2,86.8 586.8,87.0 588.0,88.0 C589.2,89.0 591.1,91.0 592.6,93.0 C594.1,95.0 595.5,97.8 597.0,100.0 C598.5,102.2 599.9,104.1 601.4,106.5 C602.9,108.9 604.5,111.8 606.0,114.5 C607.5,117.2 608.7,120.2 610.1,122.9 C611.5,125.7 613.0,128.7 614.5,131.0 C616.0,133.3 617.1,135.8 618.9,137.0 C620.6,138.2 614.5,138.1 625.0,138.3 C635.5,138.5 672.5,138.3 682.0,138.3" fill="none" stroke="#111" stroke-width="1.1"/>
<rect x="514.5" y="152" width="85.20000000000005" height="12.300000000000011" fill="#8dd3c7"/>
<path d="M502 159h1v1h-1zM502 163h1v1h-1zM503 152h1v1h-1zM503 154h1v1h-1zM503 155h1v1h-1zM503 156h1v1h-1zM503 160h1v1h-1zM503 163h1v1h-1zM504 154h1v1h-1zM504 160h1v1h-1zM505 152h1v1h-1zM505 153h1v1h-1zM505 155h1v1h-1zM505 158h1v1h-1zM505 159h1v1h-1zM505 162h1v1h-1zM506 154h1v1h-1zM506 155h1v1h-1zM506 156h1v1h-1zM506 158h1v1h-1zM506 159h1v1h-1zM506 163h1v1h-1zM507 152h1v1h-1zM507 156h1v1h-1zM507 157h1v1h-1zM507 160h1v1h-1zM508 152h1v1h-1zM508 154h1v1h-1zM508 157h1v1h-1zM508 160h1v1h-1zM508 161h1v1h-1zM508 163h1v1h-1zM509 152h1v1h-1zM509 153h1v1h-1zM509 154h1v1h-1zM509 155h1v1h-1zM509 156h1v1h-1zM509 157h1v1h-1zM509 159h1v1h-1zM509 161h1v1h-1zM509 162h1v1h-1zM509 163h1v1h-1zM510 152h1v1h-1zM510 153h1v1h-1zM510 156h1v1h-1zM510 157h1v1h-1zM510 159h1v1h-1zM510 161h1v1h-1zM511 152h1v1h-1zM511 156h1v1h-1zM511 160h1v1h-1zM511 161h1v1h-1zM511 162h1v1h-1zM511 163h1v1h-1zM512 152h1v1h-1zM512 154h1v1h-1zM512 155h1v1h-1zM512 156h1v1h-1zM512 160h1v1h-1zM512 161h1v1h-1zM512 162h1v1h-1zM512 163h1v1h-1zM513 152h1v1h-1zM513 153h1v1h-1zM513 154h1v1h-1zM513 157h1v1h-1zM513 158h1v1h-1zM513 160h1v1h-1zM513 161h1v1h-1zM513 162h1v1h-1zM513 163h1v1h-1zM514 152h1v1h-1zM514 153h1v1h-1zM514 154h1v1h-1zM514 155h1v1h-1zM514 156h1v1h-1zM514 157h1v1h-1zM514 158h1v1h-1zM514 159h1v1h-1zM514 160h1v1h-1zM514 161h1v1h-1zM514 162h1v1h-1zM514 163h1v1h-1zM599 152h1v1h-1zM599 153h1v1h-1zM599 155h1v1h-1zM599 156h1v1h-1zM599 158h1v1h-1zM599 159h1v1h-1zM599 161h1v1h-1zM599 163h1v1h-1zM600 152h1v1h-1zM600 155h1v1h-1zM600 158h1v1h-1zM600 159h1v1h-1zM600 160h1v1h-1zM601 152h1v1h-1zM601 156h1v1h-1zM601 157h1v1h-1zM601 158h1v1h-1zM601 159h1v1h-1zM601 160h1v1h-1zM601 162h1v1h-1zM601 163h1v1h-1zM602 152h1v1h-1zM602 154h1v1h-1zM602 155h1v1h-1zM602 158h1v1h-1zM602 159h1v1h-1zM602 161h1v1h-1zM602 163h1v1h-1zM603 152h1v1h-1zM603 153h1v1h-1zM603 155h1v1h-1zM603 158h1v1h-1zM603 159h1v1h-1zM603 160h1v1h-1zM603 163h1v1h-1zM604 153h1v1h-1zM604 154h1v1h-1zM604 155h1v1h-1zM604 157h1v1h-1zM604 158h1v1h-1zM604 159h1v1h-1zM604 160h1v1h-1zM604 161h1v1h-1zM605 153h1v1h-1zM605 154h1v1h-1zM605 155h1v1h-1zM605 156h1v1h-1zM605 157h1v1h-1zM605 159h1v1h-1zM605 162h1v1h-1zM605 163h1v1h-1zM606 154h1v1h-1zM606 155h1v1h-1zM606 156h1v1h-1zM606 158h1v1h-1zM606 160h1v1h-1zM606 161h1v1h-1zM606 163h1v1h-1zM607 153h1v1h-1zM607 156h1v1h-1zM607 158h1v1h-1zM607 159h1v1h-1zM607 160h1v1h-1zM607 161h1v1h-1zM607 162h1v1h-1zM607 163h1v1h-1zM608 152h1v1h-1zM608 153h1v1h-1zM608 154h1v1h-1zM608 156h1v1h-1zM608 159h1v1h-1zM608 163h1v1h-1zM609 152h1v1h-1zM609 153h1v1h-1zM609 156h1v1h-1zM609 157h1v1h-1zM609 158h1v1h-1zM609 159h1v1h-1zM609 160h1v1h-1zM609 162h1v1h-1zM610 152h1v1h-1zM610 153h1v1h-1zM610 155h1v1h-1zM610 156h1v1h-1zM611 153h1v1h-1zM611 158h1v1h-1zM611 159h1v1h-1zM611 161h1v1h-1zM611 163h1v1h-1zM612 160h1v1h-1zM612 161h1v1h-1zM612 162h1v1h-1zM613 153h1v1h-1zM613 157h1v1h-1zM613 158h1v1h-1zM613 159h1v1h-1zM613 161h1v1h-1zM613 162h1v1h-1zM614 160h1v1h-1zM614 163h1v1h-1zM615 155h1v1h-1zM615 163h1v1h-1zM616 152h1v1h-1zM616 157h1v1h-1zM617 152h1v1h-1zM617 153h1v1h-1zM617 162h1v1h-1zM618 156h1v1h-1zM618 160h1v1h-1zM618 161h1v1h-1zM619 155h1v1h-1zM620 155h1v1h-1zM620 163h1v1h-1zM622 157h1v1h-1zM622 162h1v1h-1zM623 154h1v1h-1zM623 155h1v1h-1zM623 156h1v1h-1zM624 155h1v1h-1zM624 160h1v1h-1zM624 161h1v1h-1zM625 153h1v1h-1zM625 160h1v1h-1zM626 155h1v1h-1zM626 159h1v1h-1zM626 160h1v1h-1zM626 161h1v1h-1zM627 162h1v1h-1zM628 155h1v1h-1zM629 163h1v1h-1zM630 155h1v1h-1zM630 156h1v1h-1zM630 163h1v1h-1zM631 152h1v1h-1zM631 163h1v1h-1zM633 159h1v1h-1z" fill="#8dd3c7"/>
<rect x="514" y="171.3" width="86" height="12.199999999999989" fill="#fccde5"/>
<path d="M502 171h1v1h-1zM502 172h1v1h-1zM502 173h1v1h-1zM502 174h1v1h-1zM502 181h1v1h-1zM503 172h1v1h-1zM503 175h1v1h-1zM503 177h1v1h-1zM503 178h1v1h-1zM503 179h1v1h-1zM503 182h1v1h-1zM504 171h1v1h-1zM504 172h1v1h-1zM504 174h1v1h-1zM504 175h1v1h-1zM504 176h1v1h-1zM504 179h1v1h-1zM504 180h1v1h-1zM505 172h1v1h-1zM505 173h1v1h-1zM505 176h1v1h-1zM505 177h1v1h-1zM505 179h1v1h-1zM505 181h1v1h-1zM506 173h1v1h-1zM506 174h1v1h-1zM506 176h1v1h-1zM506 177h1v1h-1zM507 172h1v1h-1zM507 173h1v1h-1zM507 177h1v1h-1zM507 179h1v1h-1zM507 181h1v1h-1zM507 182h1v1h-1zM508 173h1v1h-1zM508 177h1v1h-1zM508 178h1v1h-1zM508 182h1v1h-1zM509 172h1v1h-1zM509 176h1v1h-1zM509 178h1v1h-1zM509 179h1v1h-1zM509 182h1v1h-1zM510 171h1v1h-1zM510 172h1v1h-1zM510 174h1v1h-1zM510 175h1v1h-1zM510 176h1v1h-1zM510 179h1v1h-1zM510 182h1v1h-1zM511 172h1v1h-1zM511 176h1v1h-1zM511 177h1v1h-1zM511 179h1v1h-1zM511 181h1v1h-1zM511 182h1v1h-1zM512 171h1v1h-1zM512 173h1v1h-1zM512 174h1v1h-1zM512 177h1v1h-1zM512 178h1v1h-1zM512 179h1v1h-1zM512 180h1v1h-1zM512 181h1v1h-1zM512 182h1v1h-1zM513 171h1v1h-1zM513 172h1v1h-1zM513 173h1v1h-1zM513 174h1v1h-1zM513 176h1v1h-1zM513 179h1v1h-1zM513 180h1v1h-1zM513 181h1v1h-1zM513 182h1v1h-1zM600 172h1v1h-1zM600 177h1v1h-1zM600 179h1v1h-1zM600 182h1v1h-1zM601 173h1v1h-1zM601 174h1v1h-1zM601 176h1v1h-1zM601 178h1v1h-1zM601 180h1v1h-1zM601 181h1v1h-1zM602 171h1v1h-1zM602 172h1v1h-1zM602 173h1v1h-1zM602 174h1v1h-1zM602 175h1v1h-1zM602 176h1v1h-1zM602 177h1v1h-1zM602 181h1v1h-1zM603 171h1v1h-1zM603 172h1v1h-1zM603 174h1v1h-1zM603 176h1v1h-1zM603 177h1v1h-1zM603 179h1v1h-1zM603 182h1v1h-1zM604 172h1v1h-1zM604 174h1v1h-1zM604 175h1v1h-1zM604 177h1v1h-1zM604 178h1v1h-1zM604 180h1v1h-1zM604 182h1v1h-1zM605 175h1v1h-1zM605 176h1v1h-1zM605 177h1v1h-1zM605 178h1v1h-1zM605 180h1v1h-1zM605 181h1v1h-1zM606 171h1v1h-1zM606 172h1v1h-1zM606 174h1v1h-1zM606 175h1v1h-1zM606 176h1v1h-1zM606 177h1v1h-1zM606 178h1v1h-1zM606 179h1v1h-1zM606 182h1v1h-1zM607 172h1v1h-1zM607 173h1v1h-1zM607 175h1v1h-1zM607 176h1v1h-1zM607 177h1v1h-1zM607 181h1v1h-1zM607 182h1v1h-1zM608 171h1v1h-1zM608 174h1v1h-1zM608 176h1v1h-1zM608 179h1v1h-1zM608 181h1v1h-1zM609 171h1v1h-1zM609 172h1v1h-1zM609 173h1v1h-1zM609 175h1v1h-1zM609 178h1v1h-1zM609 179h1v1h-1zM610 172h1v1h-1zM610 173h1v1h-1zM610 174h1v1h-1zM610 175h1v1h-1zM610 179h1v1h-1zM611 173h1v1h-1zM611 174h1v1h-1zM611 175h1v1h-1zM611 176h1v1h-1zM612 178h1v1h-1zM612 180h1v1h-1zM612 182h1v1h-1zM614 179h1v1h-1zM614 181h1v1h-1zM615 171h1v1h-1zM615 172h1v1h-1zM615 173h1v1h-1zM615 176h1v1h-1zM615 177h1v1h-1zM615 178h1v1h-1zM616 171h1v1h-1zM616 177h1v1h-1zM616 181h1v1h-1zM616 182h1v1h-1zM617 171h1v1h-1zM617 172h1v1h-1zM617 179h1v1h-1zM617 180h1v1h-1zM617 182h1v1h-1zM618 173h1v1h-1zM619 171h1v1h-1zM619 180h1v1h-1zM619 182h1v1h-1zM620 171h1v1h-1zM620 175h1v1h-1zM620 179h1v1h-1zM621 177h1v1h-1zM621 179h1v1h-1zM622 176h1v1h-1zM622 178h1v1h-1zM623 181h1v1h-1zM624 173h1v1h-1zM624 177h1v1h-1zM625 173h1v1h-1zM625 174h1v1h-1zM625 178h1v1h-1zM626 171h1v1h-1zM626 173h1v1h-1zM626 181h1v1h-1zM627 172h1v1h-1zM627 179h1v1h-1zM629 175h1v1h-1zM630 181h1v1h-1zM631 175h1v1h-1zM632 177h1v1h-1zM632 180h1v1h-1z" fill="#fccde5"/>
<rect x="526" y="190.5" width="78.29999999999995" height="12.900000000000006" fill="#80b1d3"/>
<path d="M497 190h1v1h-1zM497 195h1v1h-1zM497 196h1v1h-1zM497 200h1v1h-1zM498 190h1v1h-1zM498 191h1v1h-1zM498 197h1v1h-1zM498 199h1v1h-1zM499 191h1v1h-1zM499 193h1v1h-1zM499 195h1v1h-1zM499 197h1v1h-1zM499 198h1v1h-1zM499 199h1v1h-1zM499 201h1v1h-1zM499 202h1v1h-1zM500 191h1v1h-1zM500 192h1v1h-1zM500 193h1v1h-1zM500 198h1v1h-1zM500 201h1v1h-1zM501 192h1v1h-1zM501 195h1v1h-1zM501 196h1v1h-1zM501 199h1v1h-1zM501 200h1v1h-1zM501 201h1v1h-1zM501 202h1v1h-1zM502 191h1v1h-1zM502 192h1v1h-1zM502 195h1v1h-1zM503 190h1v1h-1zM503 194h1v1h-1zM503 197h1v1h-1zM503 198h1v1h-1zM503 199h1v1h-1zM503 201h1v1h-1zM504 190h1v1h-1zM504 195h1v1h-1zM504 197h1v1h-1zM504 201h1v1h-1zM504 202h1v1h-1zM505 191h1v1h-1zM505 194h1v1h-1zM505 198h1v1h-1zM505 201h1v1h-1zM506 190h1v1h-1zM506 193h1v1h-1zM506 195h1v1h-1zM506 196h1v1h-1zM506 199h1v1h-1zM506 200h1v1h-1zM506 201h1v1h-1zM507 191h1v1h-1zM507 193h1v1h-1zM507 194h1v1h-1zM507 195h1v1h-1zM507 196h1v1h-1zM507 200h1v1h-1zM507 201h1v1h-1zM507 202h1v1h-1zM508 190h1v1h-1zM508 191h1v1h-1zM508 193h1v1h-1zM508 194h1v1h-1zM508 196h1v1h-1zM508 197h1v1h-1zM508 198h1v1h-1zM508 199h1v1h-1zM508 200h1v1h-1zM508 202h1v1h-1zM509 190h1v1h-1zM509 193h1v1h-1zM509 194h1v1h-1zM509 195h1v1h-1zM509 196h1v1h-1zM509 197h1v1h-1zM509 198h1v1h-1zM509 199h1v1h-1zM509 200h1v1h-1zM509 201h1v1h-1zM510 190h1v1h-1zM510 191h1v1h-1zM510 192h1v1h-1zM510 195h1v1h-1zM510 196h1v1h-1zM510 199h1v1h-1zM510 200h1v1h-1zM510 201h1v1h-1zM510 202h1v1h-1zM511 190h1v1h-1zM511 191h1v1h-1zM511 192h1v1h-1zM511 194h1v1h-1zM511 195h1v1h-1zM511 196h1v1h-1zM511 197h1v1h-1zM511 199h1v1h-1zM511 201h1v1h-1zM511 202h1v1h-1zM512 190h1v1h-1zM512 191h1v1h-1zM512 194h1v1h-1zM512 195h1v1h-1zM512 196h1v1h-1zM512 197h1v1h-1zM512 198h1v1h-1zM512 199h1v1h-1zM512 200h1v1h-1zM512 201h1v1h-1zM512 202h1v1h-1zM513 190h1v1h-1zM513 192h1v1h-1zM513 194h1v1h-1zM513 195h1v1h-1zM513 196h1v1h-1zM513 197h1v1h-1zM513 198h1v1h-1zM513 199h1v1h-1zM513 200h1v1h-1zM513 201h1v1h-1zM513 202h1v1h-1zM514 191h1v1h-1zM514 192h1v1h-1zM514 193h1v1h-1zM514 194h1v1h-1zM514 195h1v1h-1zM514 197h1v1h-1zM514 199h1v1h-1zM514 200h1v1h-1zM514 201h1v1h-1zM514 202h1v1h-1zM515 191h1v1h-1zM515 192h1v1h-1zM515 193h1v1h-1zM515 194h1v1h-1zM515 196h1v1h-1zM515 197h1v1h-1zM515 198h1v1h-1zM515 199h1v1h-1zM515 200h1v1h-1zM515 201h1v1h-1zM515 202h1v1h-1zM516 190h1v1h-1zM516 191h1v1h-1zM516 192h1v1h-1zM516 193h1v1h-1zM516 194h1v1h-1zM516 195h1v1h-1zM516 196h1v1h-1zM516 198h1v1h-1zM516 199h1v1h-1zM516 200h1v1h-1zM516 201h1v1h-1zM517 190h1v1h-1zM517 192h1v1h-1zM517 193h1v1h-1zM517 196h1v1h-1zM517 197h1v1h-1zM517 198h1v1h-1zM517 200h1v1h-1zM517 201h1v1h-1zM517 202h1v1h-1zM518 191h1v1h-1zM518 192h1v1h-1zM518 193h1v1h-1zM518 194h1v1h-1zM518 195h1v1h-1zM518 196h1v1h-1zM518 197h1v1h-1zM518 199h1v1h-1zM518 200h1v1h-1zM518 201h1v1h-1zM519 190h1v1h-1zM519 191h1v1h-1zM519 193h1v1h-1zM519 194h1v1h-1zM519 196h1v1h-1zM519 197h1v1h-1zM519 198h1v1h-1zM519 199h1v1h-1zM519 200h1v1h-1zM519 201h1v1h-1zM520 190h1v1h-1zM520 191h1v1h-1zM520 192h1v1h-1zM520 193h1v1h-1zM520 194h1v1h-1zM520 195h1v1h-1zM520 196h1v1h-1zM520 197h1v1h-1zM520 198h1v1h-1zM520 199h1v1h-1zM520 200h1v1h-1zM520 201h1v1h-1zM520 202h1v1h-1zM521 190h1v1h-1zM521 193h1v1h-1zM521 194h1v1h-1zM521 195h1v1h-1zM521 196h1v1h-1zM521 197h1v1h-1zM521 198h1v1h-1zM521 199h1v1h-1zM521 200h1v1h-1zM521 201h1v1h-1zM521 202h1v1h-1zM522 190h1v1h-1zM522 191h1v1h-1zM522 192h1v1h-1zM522 194h1v1h-1zM522 195h1v1h-1zM522 196h1v1h-1zM522 197h1v1h-1zM522 198h1v1h-1zM522 199h1v1h-1zM522 200h1v1h-1zM522 201h1v1h-1zM522 202h1v1h-1zM523 190h1v1h-1zM523 192h1v1h-1zM523 193h1v1h-1zM523 194h1v1h-1zM523 195h1v1h-1zM523 196h1v1h-1zM523 197h1v1h-1zM523 199h1v1h-1zM523 200h1v1h-1zM523 202h1v1h-1zM524 190h1v1h-1zM524 191h1v1h-1zM524 192h1v1h-1zM524 193h1v1h-1zM524 194h1v1h-1zM524 195h1v1h-1zM524 196h1v1h-1zM524 197h1v1h-1zM524 200h1v1h-1zM524 201h1v1h-1zM524 202h1v1h-1zM525 190h1v1h-1zM525 192h1v1h-1zM525 193h1v1h-1zM525 194h1v1h-1zM525 196h1v1h-1zM525 197h1v1h-1zM525 198h1v1h-1zM525 199h1v1h-1zM525 202h1v1h-1zM604 190h1v1h-1zM604 191h1v1h-1zM604 192h1v1h-1zM604 196h1v1h-1zM604 198h1v1h-1zM604 199h1v1h-1zM604 201h1v1h-1zM604 202h1v1h-1zM605 193h1v1h-1zM605 194h1v1h-1zM605 196h1v1h-1zM605 197h1v1h-1zM605 198h1v1h-1zM605 199h1v1h-1zM605 200h1v1h-1zM605 201h1v1h-1zM605 202h1v1h-1zM606 190h1v1h-1zM606 192h1v1h-1zM606 194h1v1h-1zM606 195h1v1h-1zM606 197h1v1h-1zM606 201h1v1h-1zM606 202h1v1h-1zM607 190h1v1h-1zM607 194h1v1h-1zM607 195h1v1h-1zM607 197h1v1h-1zM607 199h1v1h-1zM607 200h1v1h-1zM607 201h1v1h-1zM608 190h1v1h-1zM608 191h1v1h-1zM608 193h1v1h-1zM608 194h1v1h-1zM608 195h1v1h-1zM608 196h1v1h-1zM608 198h1v1h-1zM608 199h1v1h-1zM608 200h1v1h-1zM608 201h1v1h-1zM609 190h1v1h-1zM609 192h1v1h-1zM609 195h1v1h-1zM609 196h1v1h-1zM609 197h1v1h-1zM609 198h1v1h-1zM609 199h1v1h-1zM609 200h1v1h-1zM610 191h1v1h-1zM610 192h1v1h-1zM610 194h1v1h-1zM610 196h1v1h-1zM610 198h1v1h-1zM610 200h1v1h-1zM610 201h1v1h-1zM610 202h1v1h-1zM611 192h1v1h-1zM611 195h1v1h-1zM611 197h1v1h-1zM611 198h1v1h-1zM611 201h1v1h-1zM611 202h1v1h-1zM612 190h1v1h-1zM612 194h1v1h-1zM612 199h1v1h-1zM612 200h1v1h-1zM613 191h1v1h-1zM613 197h1v1h-1zM613 202h1v1h-1zM614 192h1v1h-1zM614 195h1v1h-1zM614 199h1v1h-1zM615 194h1v1h-1zM615 201h1v1h-1zM616 191h1v1h-1zM616 192h1v1h-1zM616 195h1v1h-1zM616 196h1v1h-1zM616 198h1v1h-1zM616 199h1v1h-1zM617 191h1v1h-1zM617 194h1v1h-1zM617 195h1v1h-1zM617 199h1v1h-1zM617 201h1v1h-1zM618 191h1v1h-1zM618 194h1v1h-1zM619 200h1v1h-1zM620 196h1v1h-1zM620 199h1v1h-1zM620 200h1v1h-1zM621 195h1v1h-1zM622 197h1v1h-1zM623 191h1v1h-1zM623 192h1v1h-1zM623 193h1v1h-1zM623 198h1v1h-1zM625 190h1v1h-1zM625 201h1v1h-1zM626 191h1v1h-1zM626 195h1v1h-1zM627 201h1v1h-1zM628 190h1v1h-1z" fill="#80b1d3"/>
<rect x="520" y="210.4" width="80" height="12.299999999999983" fill="#bebada"/>
<path d="M483 211h1v1h-1zM483 220h1v1h-1zM483 222h1v1h-1zM484 212h1v1h-1zM484 218h1v1h-1zM484 221h1v1h-1zM484 222h1v1h-1zM486 213h1v1h-1zM487 214h1v1h-1zM487 215h1v1h-1zM487 219h1v1h-1zM488 213h1v1h-1zM488 214h1v1h-1zM488 217h1v1h-1zM488 218h1v1h-1zM489 211h1v1h-1zM489 214h1v1h-1zM489 216h1v1h-1zM489 217h1v1h-1zM489 221h1v1h-1zM490 211h1v1h-1zM490 217h1v1h-1zM490 218h1v1h-1zM490 220h1v1h-1zM490 221h1v1h-1zM490 222h1v1h-1zM491 214h1v1h-1zM491 215h1v1h-1zM491 217h1v1h-1zM491 219h1v1h-1zM491 220h1v1h-1zM491 221h1v1h-1zM491 222h1v1h-1zM492 212h1v1h-1zM492 214h1v1h-1zM492 215h1v1h-1zM492 221h1v1h-1zM492 222h1v1h-1zM493 212h1v1h-1zM493 215h1v1h-1zM493 220h1v1h-1zM493 221h1v1h-1zM494 210h1v1h-1zM494 211h1v1h-1zM494 215h1v1h-1zM494 216h1v1h-1zM494 217h1v1h-1zM494 218h1v1h-1zM494 220h1v1h-1zM494 222h1v1h-1zM495 211h1v1h-1zM495 212h1v1h-1zM495 213h1v1h-1zM495 214h1v1h-1zM495 216h1v1h-1zM495 217h1v1h-1zM495 218h1v1h-1zM495 219h1v1h-1zM495 220h1v1h-1zM495 221h1v1h-1zM496 210h1v1h-1zM496 211h1v1h-1zM496 213h1v1h-1zM496 214h1v1h-1zM496 216h1v1h-1zM496 220h1v1h-1zM496 221h1v1h-1zM497 210h1v1h-1zM497 212h1v1h-1zM497 215h1v1h-1zM497 217h1v1h-1zM497 219h1v1h-1zM497 222h1v1h-1zM498 210h1v1h-1zM498 212h1v1h-1zM498 214h1v1h-1zM498 217h1v1h-1zM498 219h1v1h-1zM498 222h1v1h-1zM499 210h1v1h-1zM499 211h1v1h-1zM499 212h1v1h-1zM499 214h1v1h-1zM499 216h1v1h-1zM499 218h1v1h-1zM499 220h1v1h-1zM499 221h1v1h-1zM499 222h1v1h-1zM500 210h1v1h-1zM500 211h1v1h-1zM500 213h1v1h-1zM500 214h1v1h-1zM500 219h1v1h-1zM500 220h1v1h-1zM500 221h1v1h-1zM501 211h1v1h-1zM501 212h1v1h-1zM501 215h1v1h-1zM501 217h1v1h-1zM501 219h1v1h-1zM501 220h1v1h-1zM502 211h1v1h-1zM502 212h1v1h-1zM502 213h1v1h-1zM502 214h1v1h-1zM502 215h1v1h-1zM502 216h1v1h-1zM502 217h1v1h-1zM502 218h1v1h-1zM502 219h1v1h-1zM502 220h1v1h-1zM502 222h1v1h-1zM503 211h1v1h-1zM503 212h1v1h-1zM503 214h1v1h-1zM503 215h1v1h-1zM503 218h1v1h-1zM503 219h1v1h-1zM503 221h1v1h-1zM503 222h1v1h-1zM504 210h1v1h-1zM504 211h1v1h-1zM504 213h1v1h-1zM504 216h1v1h-1zM504 218h1v1h-1zM504 221h1v1h-1zM504 222h1v1h-1zM505 211h1v1h-1zM505 216h1v1h-1zM505 217h1v1h-1zM505 218h1v1h-1zM505 220h1v1h-1zM505 221h1v1h-1zM506 210h1v1h-1zM506 212h1v1h-1zM506 215h1v1h-1zM506 216h1v1h-1zM506 218h1v1h-1zM506 219h1v1h-1zM506 220h1v1h-1zM506 221h1v1h-1zM506 222h1v1h-1zM507 210h1v1h-1zM507 211h1v1h-1zM507 212h1v1h-1zM507 213h1v1h-1zM507 215h1v1h-1zM507 216h1v1h-1zM507 217h1v1h-1zM507 218h1v1h-1zM507 219h1v1h-1zM507 221h1v1h-1zM507 222h1v1h-1zM508 211h1v1h-1zM508 212h1v1h-1zM508 213h1v1h-1zM508 215h1v1h-1zM508 217h1v1h-1zM508 218h1v1h-1zM508 219h1v1h-1zM508 220h1v1h-1zM509 210h1v1h-1zM509 211h1v1h-1zM509 212h1v1h-1zM509 213h1v1h-1zM509 214h1v1h-1zM509 215h1v1h-1zM509 216h1v1h-1zM509 217h1v1h-1zM509 218h1v1h-1zM509 219h1v1h-1zM509 220h1v1h-1zM509 221h1v1h-1zM509 222h1v1h-1zM510 210h1v1h-1zM510 211h1v1h-1zM510 212h1v1h-1zM510 215h1v1h-1zM510 216h1v1h-1zM510 218h1v1h-1zM510 219h1v1h-1zM510 220h1v1h-1zM510 221h1v1h-1zM510 222h1v1h-1zM511 210h1v1h-1zM511 211h1v1h-1zM511 213h1v1h-1zM511 214h1v1h-1zM511 216h1v1h-1zM511 217h1v1h-1zM511 218h1v1h-1zM511 219h1v1h-1zM511 220h1v1h-1zM512 210h1v1h-1zM512 211h1v1h-1zM512 212h1v1h-1zM512 215h1v1h-1zM512 218h1v1h-1zM512 219h1v1h-1zM512 220h1v1h-1zM512 222h1v1h-1zM513 210h1v1h-1zM513 211h1v1h-1zM513 212h1v1h-1zM513 214h1v1h-1zM513 215h1v1h-1zM513 216h1v1h-1zM513 217h1v1h-1zM513 219h1v1h-1zM513 222h1v1h-1zM514 210h1v1h-1zM514 211h1v1h-1zM514 212h1v1h-1zM514 213h1v1h-1zM514 214h1v1h-1zM514 215h1v1h-1zM514 216h1v1h-1zM514 217h1v1h-1zM514 219h1v1h-1zM514 220h1v1h-1zM514 221h1v1h-1zM514 222h1v1h-1zM515 210h1v1h-1zM515 211h1v1h-1zM515 214h1v1h-1zM515 215h1v1h-1zM515 216h1v1h-1zM515 217h1v1h-1zM515 218h1v1h-1zM515 219h1v1h-1zM515 220h1v1h-1zM515 221h1v1h-1zM515 222h1v1h-1zM516 212h1v1h-1zM516 213h1v1h-1zM516 214h1v1h-1zM516 215h1v1h-1zM516 216h1v1h-1zM516 217h1v1h-1zM516 218h1v1h-1zM516 219h1v1h-1zM516 220h1v1h-1zM517 213h1v1h-1zM517 214h1v1h-1zM517 215h1v1h-1zM517 216h1v1h-1zM517 217h1v1h-1zM517 218h1v1h-1zM517 219h1v1h-1zM517 221h1v1h-1zM517 222h1v1h-1zM518 210h1v1h-1zM518 211h1v1h-1zM518 213h1v1h-1zM518 214h1v1h-1zM518 215h1v1h-1zM518 216h1v1h-1zM518 217h1v1h-1zM518 218h1v1h-1zM518 219h1v1h-1zM518 220h1v1h-1zM518 221h1v1h-1zM518 222h1v1h-1zM519 210h1v1h-1zM519 211h1v1h-1zM519 212h1v1h-1zM519 213h1v1h-1zM519 215h1v1h-1zM519 216h1v1h-1zM519 218h1v1h-1zM519 219h1v1h-1zM519 220h1v1h-1zM519 221h1v1h-1zM519 222h1v1h-1zM600 210h1v1h-1zM600 211h1v1h-1zM600 212h1v1h-1zM600 213h1v1h-1zM600 214h1v1h-1zM600 215h1v1h-1zM600 216h1v1h-1zM600 217h1v1h-1zM600 218h1v1h-1zM600 219h1v1h-1zM600 221h1v1h-1zM600 222h1v1h-1zM601 210h1v1h-1zM601 211h1v1h-1zM601 213h1v1h-1zM601 214h1v1h-1zM601 216h1v1h-1zM601 217h1v1h-1zM601 219h1v1h-1zM601 220h1v1h-1zM601 221h1v1h-1zM601 222h1v1h-1zM602 210h1v1h-1zM602 211h1v1h-1zM602 212h1v1h-1zM602 213h1v1h-1zM602 214h1v1h-1zM602 215h1v1h-1zM602 216h1v1h-1zM602 217h1v1h-1zM602 218h1v1h-1zM602 220h1v1h-1zM602 222h1v1h-1zM603 212h1v1h-1zM603 213h1v1h-1zM603 214h1v1h-1zM603 216h1v1h-1zM603 218h1v1h-1zM603 219h1v1h-1zM603 220h1v1h-1zM603 222h1v1h-1zM604 210h1v1h-1zM604 211h1v1h-1zM604 212h1v1h-1zM604 213h1v1h-1zM604 215h1v1h-1zM604 217h1v1h-1zM604 218h1v1h-1zM604 219h1v1h-1zM604 220h1v1h-1zM604 222h1v1h-1zM605 210h1v1h-1zM605 211h1v1h-1zM605 212h1v1h-1zM605 214h1v1h-1zM605 215h1v1h-1zM605 216h1v1h-1zM605 217h1v1h-1zM605 218h1v1h-1zM605 219h1v1h-1zM605 221h1v1h-1zM605 222h1v1h-1zM606 212h1v1h-1zM606 213h1v1h-1zM606 214h1v1h-1zM606 215h1v1h-1zM606 218h1v1h-1zM606 219h1v1h-1zM606 221h1v1h-1zM606 222h1v1h-1zM607 210h1v1h-1zM607 211h1v1h-1zM607 213h1v1h-1zM607 215h1v1h-1zM607 216h1v1h-1zM607 217h1v1h-1zM607 218h1v1h-1zM607 220h1v1h-1zM607 221h1v1h-1zM607 222h1v1h-1zM608 210h1v1h-1zM608 211h1v1h-1zM608 212h1v1h-1zM608 213h1v1h-1zM608 214h1v1h-1zM608 215h1v1h-1zM608 216h1v1h-1zM608 217h1v1h-1zM608 218h1v1h-1zM608 219h1v1h-1zM608 221h1v1h-1zM608 222h1v1h-1zM609 211h1v1h-1zM609 212h1v1h-1zM609 213h1v1h-1zM609 214h1v1h-1zM609 215h1v1h-1zM609 216h1v1h-1zM609 219h1v1h-1zM609 220h1v1h-1zM610 211h1v1h-1zM610 213h1v1h-1zM610 214h1v1h-1zM610 219h1v1h-1zM610 222h1v1h-1zM611 211h1v1h-1zM611 212h1v1h-1zM611 213h1v1h-1zM611 214h1v1h-1zM611 215h1v1h-1zM611 216h1v1h-1zM611 218h1v1h-1zM611 219h1v1h-1zM611 220h1v1h-1zM611 221h1v1h-1zM611 222h1v1h-1zM612 210h1v1h-1zM612 211h1v1h-1zM612 213h1v1h-1zM612 214h1v1h-1zM612 215h1v1h-1zM612 216h1v1h-1zM612 217h1v1h-1zM612 218h1v1h-1zM612 219h1v1h-1zM612 220h1v1h-1zM612 222h1v1h-1zM613 211h1v1h-1zM613 214h1v1h-1zM613 215h1v1h-1zM613 216h1v1h-1zM613 218h1v1h-1zM613 220h1v1h-1zM613 222h1v1h-1zM614 210h1v1h-1zM614 212h1v1h-1zM614 213h1v1h-1zM614 214h1v1h-1zM614 215h1v1h-1zM614 216h1v1h-1zM614 218h1v1h-1zM614 219h1v1h-1zM614 220h1v1h-1zM615 211h1v1h-1zM615 215h1v1h-1zM615 218h1v1h-1zM615 219h1v1h-1zM615 220h1v1h-1zM615 221h1v1h-1zM616 212h1v1h-1zM616 213h1v1h-1zM616 216h1v1h-1zM616 218h1v1h-1zM616 219h1v1h-1zM616 220h1v1h-1zM616 221h1v1h-1zM617 210h1v1h-1zM617 211h1v1h-1zM617 213h1v1h-1zM617 214h1v1h-1zM617 215h1v1h-1zM617 219h1v1h-1zM617 222h1v1h-1zM618 210h1v1h-1zM618 211h1v1h-1zM618 212h1v1h-1zM618 214h1v1h-1zM618 216h1v1h-1zM618 222h1v1h-1zM619 211h1v1h-1zM619 215h1v1h-1zM619 218h1v1h-1zM619 219h1v1h-1zM619 222h1v1h-1zM620 210h1v1h-1zM620 214h1v1h-1zM620 216h1v1h-1zM620 218h1v1h-1zM620 219h1v1h-1zM620 220h1v1h-1zM620 221h1v1h-1zM621 211h1v1h-1zM621 213h1v1h-1zM621 214h1v1h-1zM621 215h1v1h-1zM621 218h1v1h-1zM621 219h1v1h-1zM621 221h1v1h-1zM622 212h1v1h-1zM622 215h1v1h-1zM622 217h1v1h-1zM622 219h1v1h-1zM622 221h1v1h-1zM623 210h1v1h-1zM623 216h1v1h-1zM623 217h1v1h-1zM623 218h1v1h-1zM623 220h1v1h-1zM623 221h1v1h-1zM624 211h1v1h-1zM624 213h1v1h-1zM624 215h1v1h-1zM624 218h1v1h-1zM624 221h1v1h-1zM624 222h1v1h-1zM625 212h1v1h-1zM625 218h1v1h-1z" fill="#bebada"/>
<rect x="518.5" y="229.7" width="93.0" height="11.700000000000017" fill="#fb8072"/>
<path d="M496 229h1v1h-1zM496 232h1v1h-1zM496 233h1v1h-1zM496 234h1v1h-1zM496 236h1v1h-1zM496 238h1v1h-1zM496 240h1v1h-1zM497 229h1v1h-1zM497 231h1v1h-1zM497 232h1v1h-1zM497 237h1v1h-1zM497 238h1v1h-1zM498 229h1v1h-1zM498 231h1v1h-1zM498 232h1v1h-1zM498 233h1v1h-1zM498 234h1v1h-1zM498 236h1v1h-1zM498 238h1v1h-1zM498 240h1v1h-1zM499 229h1v1h-1zM499 230h1v1h-1zM499 232h1v1h-1zM499 235h1v1h-1zM499 236h1v1h-1zM499 239h1v1h-1zM499 240h1v1h-1zM500 232h1v1h-1zM500 233h1v1h-1zM500 234h1v1h-1zM500 235h1v1h-1zM500 236h1v1h-1zM500 238h1v1h-1zM500 240h1v1h-1zM501 229h1v1h-1zM501 238h1v1h-1zM501 239h1v1h-1zM501 240h1v1h-1zM502 230h1v1h-1zM502 231h1v1h-1zM502 232h1v1h-1zM502 233h1v1h-1zM502 235h1v1h-1zM502 238h1v1h-1zM502 240h1v1h-1zM503 229h1v1h-1zM503 230h1v1h-1zM503 231h1v1h-1zM503 235h1v1h-1zM503 237h1v1h-1zM503 240h1v1h-1zM504 230h1v1h-1zM504 233h1v1h-1zM504 236h1v1h-1zM504 239h1v1h-1zM505 229h1v1h-1zM505 230h1v1h-1zM505 233h1v1h-1zM505 235h1v1h-1zM505 236h1v1h-1zM505 238h1v1h-1zM505 240h1v1h-1zM506 230h1v1h-1zM506 231h1v1h-1zM506 232h1v1h-1zM506 233h1v1h-1zM506 235h1v1h-1zM506 236h1v1h-1zM506 237h1v1h-1zM506 239h1v1h-1zM506 240h1v1h-1zM507 230h1v1h-1zM507 235h1v1h-1zM507 236h1v1h-1zM507 239h1v1h-1zM507 240h1v1h-1zM508 229h1v1h-1zM508 230h1v1h-1zM508 231h1v1h-1zM508 233h1v1h-1zM508 234h1v1h-1zM508 235h1v1h-1zM508 236h1v1h-1zM508 239h1v1h-1zM508 240h1v1h-1zM509 231h1v1h-1zM509 233h1v1h-1zM509 234h1v1h-1zM509 235h1v1h-1zM509 236h1v1h-1zM509 237h1v1h-1zM509 238h1v1h-1zM509 239h1v1h-1zM509 240h1v1h-1zM510 229h1v1h-1zM510 230h1v1h-1zM510 231h1v1h-1zM510 233h1v1h-1zM510 234h1v1h-1zM510 235h1v1h-1zM510 237h1v1h-1zM510 240h1v1h-1zM511 229h1v1h-1zM511 231h1v1h-1zM511 232h1v1h-1zM511 233h1v1h-1zM511 234h1v1h-1zM511 235h1v1h-1zM511 237h1v1h-1zM511 238h1v1h-1zM511 239h1v1h-1zM512 229h1v1h-1zM512 230h1v1h-1zM512 231h1v1h-1zM512 233h1v1h-1zM512 236h1v1h-1zM512 238h1v1h-1zM512 239h1v1h-1zM513 229h1v1h-1zM513 230h1v1h-1zM513 231h1v1h-1zM513 234h1v1h-1zM513 235h1v1h-1zM513 236h1v1h-1zM513 237h1v1h-1zM513 239h1v1h-1zM513 240h1v1h-1zM514 230h1v1h-1zM514 231h1v1h-1zM514 232h1v1h-1zM514 234h1v1h-1zM514 236h1v1h-1zM514 237h1v1h-1zM514 238h1v1h-1zM514 239h1v1h-1zM515 230h1v1h-1zM515 231h1v1h-1zM515 232h1v1h-1zM515 234h1v1h-1zM515 235h1v1h-1zM515 237h1v1h-1zM515 238h1v1h-1zM515 239h1v1h-1zM516 229h1v1h-1zM516 230h1v1h-1zM516 231h1v1h-1zM516 232h1v1h-1zM516 233h1v1h-1zM516 237h1v1h-1zM516 238h1v1h-1zM516 239h1v1h-1zM516 240h1v1h-1zM517 230h1v1h-1zM517 231h1v1h-1zM517 232h1v1h-1zM517 233h1v1h-1zM517 235h1v1h-1zM517 236h1v1h-1zM517 237h1v1h-1zM517 238h1v1h-1zM517 239h1v1h-1zM518 231h1v1h-1zM518 232h1v1h-1zM518 233h1v1h-1zM518 234h1v1h-1zM518 235h1v1h-1zM518 236h1v1h-1zM518 237h1v1h-1zM518 238h1v1h-1zM518 239h1v1h-1zM611 229h1v1h-1zM611 232h1v1h-1zM612 236h1v1h-1zM612 239h1v1h-1zM613 229h1v1h-1zM613 231h1v1h-1zM613 239h1v1h-1zM614 229h1v1h-1zM614 231h1v1h-1zM614 232h1v1h-1zM614 233h1v1h-1zM615 229h1v1h-1zM615 230h1v1h-1zM615 232h1v1h-1zM615 239h1v1h-1zM616 231h1v1h-1zM616 235h1v1h-1zM616 240h1v1h-1zM617 233h1v1h-1zM617 235h1v1h-1zM618 233h1v1h-1zM618 238h1v1h-1zM618 239h1v1h-1zM619 233h1v1h-1zM619 239h1v1h-1zM620 235h1v1h-1zM620 237h1v1h-1z" fill="#fb8072"/>
<path d="M600,157.7 H626" stroke-width="0.8" fill="none" stroke="#7fc4b6"/>
<path d="M600,177 H626" stroke-width="0.8" fill="none" stroke="#f5b8d8"/>
<path d="M604,196.8 H622" stroke-width="0.8" fill="none" stroke="#6fa5cc"/>
<path d="M659 211h1v1h-1zM646 211h1v1h-1zM661 220h1v1h-1zM648 217h1v1h-1zM649 217h1v1h-1zM663 216h1v1h-1zM647 216h1v1h-1zM650 216h1v1h-1zM650 221h1v1h-1zM647 216h1v1h-1zM645 221h1v1h-1zM660 215h1v1h-1zM649 215h1v1h-1zM648 212h1v1h-1zM652 212h1v1h-1zM649 218h1v1h-1zM653 219h1v1h-1zM662 212h1v1h-1zM655 218h1v1h-1zM652 213h1v1h-1zM663 219h1v1h-1zM646 219h1v1h-1zM653 216h1v1h-1zM651 215h1v1h-1zM657 219h1v1h-1zM651 213h1v1h-1zM652 219h1v1h-1zM661 214h1v1h-1zM648 211h1v1h-1zM648 211h1v1h-1zM660 220h1v1h-1zM651 214h1v1h-1zM647 213h1v1h-1zM649 215h1v1h-1zM645 217h1v1h-1zM657 220h1v1h-1zM661 212h1v1h-1zM654 220h1v1h-1zM648 212h1v1h-1zM663 214h1v1h-1zM652 214h1v1h-1zM661 211h1v1h-1zM652 212h1v1h-1zM655 212h1v1h-1zM646 214h1v1h-1z" fill="#bebada"/>
<g stroke="#222" stroke-width="1.1" fill="none">
<path d="M437.0,241.5 v-2.8"/>
<path d="M457.4,241.5 v-2.8"/>
<path d="M477.8,241.5 v-2.8"/>
<path d="M498.3,241.5 v-2.8"/>
<path d="M518.7,241.5 v-2.8"/>
<path d="M539.1,241.5 v-2.8"/>
<path d="M559.5,241.5 v-2.8"/>
<path d="M579.9,241.5 v-2.8"/>
<path d="M600.4,241.5 v-2.8"/>
<path d="M620.8,241.5 v-2.8"/>
<path d="M641.2,241.5 v-2.8"/>
<path d="M661.6,241.5 v-2.8"/>
<path d="M682.0,241.5 v-2.8"/>
</g>
<text x="508" y="262.8" font-size="17.6" font-weight="normal" font-style="normal" text-anchor="middle" fill="#1a1a1a" >-15</text>
<text x="621.6" y="262.8" font-size="17.6" font-weight="normal" font-style="normal" text-anchor="middle" fill="#1a1a1a" >15</text>
<path d="M526,254 H600" stroke="#000" stroke-width="2"/>
<path d="M535,248 L524.5,254 L535,260 M591,248 L601.5,254 L591,260" stroke="#000" stroke-width="2.1" fill="none" stroke-linejoin="miter"/>
<text x="494.2" y="283.3" font-size="17.7" font-weight="normal" font-style="normal" text-anchor="middle" fill="#1a1a1a" >Sensory</text>
<text x="631.9" y="283.3" font-size="17.7" font-weight="normal" font-style="normal" text-anchor="middle" fill="#1a1a1a" >Association</text>
<text x="1.3" y="328.4" font-size="17.8" fill="#1a1a1a"><tspan font-weight="bold">c</tspan> | <tspan font-style="italic">Post-hoc</tspan> analysis among various episodes (<tspan font-style="italic">p</tspan><tspan font-style="italic" font-size="12" dy="3.5">FDR</tspan><tspan dy="-3.5"> &lt; 0.01)</tspan></text>
<defs><linearGradient id="rdbu" x1="0" x2="1" y1="0" y2="0"><stop offset="0.0" stop-color="#053061"/><stop offset="0.1" stop-color="#2166ac"/><stop offset="0.2" stop-color="#4393c3"/><stop offset="0.3" stop-color="#92c5de"/><stop offset="0.4" stop-color="#d1e5f0"/><stop offset="0.5" stop-color="#f7f7f7"/><stop offset="0.6" stop-color="#fddbc7"/><stop offset="0.7" stop-color="#f4a582"/><stop offset="0.8" stop-color="#d6604d"/><stop offset="0.9" stop-color="#b2182b"/><stop offset="1.0" stop-color="#67001f"/></linearGradient></defs>
<rect x="500.5" y="322.9" width="123.8" height="12.1" fill="url(#rdbu)" stroke="#333" stroke-width="0.8"/>
<path d="M521.5,335 v-2" stroke="#333" stroke-width="0.8"/>
<path d="M541.9,335 v-2" stroke="#333" stroke-width="0.8"/>
<path d="M562.9,335 v-2" stroke="#333" stroke-width="0.8"/>
<path d="M583.5,335 v-2" stroke="#333" stroke-width="0.8"/>
<path d="M603.8,335 v-2" stroke="#333" stroke-width="0.8"/>
<text x="567.3" y="317.5" font-size="17.2" font-weight="normal" font-style="italic" text-anchor="middle" fill="#1a1a1a" >Cohen’s d</text>
<text x="506" y="351.2" font-size="15.2" font-weight="normal" font-style="normal" text-anchor="middle" fill="#1a1a1a" >-0.8</text>
<text x="629.6" y="351.2" font-size="14.8" font-weight="normal" font-style="normal" text-anchor="middle" fill="#1a1a1a" >0.8</text>
<defs>
<clipPath id="bc0"><path d="M18.7,428.3 C18.6,425.8 19.1,422.7 19.6,420.2 C20.2,417.8 21.0,415.5 22.1,413.5 C23.1,411.5 24.1,410.2 26.1,408.1 C28.1,406.1 31.0,403.4 34.1,401.4 C37.3,399.4 41.1,397.3 44.9,396.1 C48.7,394.8 52.5,394.5 57.0,394.0 C61.5,393.6 68.2,393.0 71.8,393.4 C75.3,393.7 76.0,394.3 78.5,396.1 C80.9,397.8 84.1,401.2 86.5,404.1 C89.0,407.0 91.2,410.4 93.2,413.5 C95.3,416.7 97.4,420.2 98.6,422.9 C99.8,425.6 100.5,427.6 100.6,429.6 C100.7,431.6 100.3,433.6 99.3,435.0 C98.3,436.5 96.7,437.5 94.6,438.4 C92.5,439.3 89.4,439.8 86.5,440.4 C83.6,440.9 80.3,441.3 77.1,441.7 C74.0,442.2 70.9,442.5 67.7,443.1 C64.6,443.6 60.8,444.3 58.3,445.1 C55.9,445.9 54.3,446.9 52.9,447.8 C51.6,448.7 51.4,450.2 50.3,450.5 C49.1,450.7 47.0,450.1 46.2,449.1 C45.5,448.1 45.3,445.6 45.6,444.4 C45.8,443.2 48.4,442.3 47.6,441.7 C46.8,441.2 43.5,441.3 40.9,441.1 C38.2,440.8 34.1,440.7 31.5,440.4 C28.8,440.0 26.6,439.9 24.7,439.0 C22.8,438.1 21.1,436.8 20.0,435.0 C19.0,433.2 18.8,430.8 18.7,428.3Z"/></clipPath>
<clipPath id="bc1"><path d="M118.4,432.3 C118.6,430.4 119.4,426.9 120.4,424.3 C121.4,421.6 123.0,418.7 124.4,416.2 C125.9,413.7 127.4,412.0 129.1,409.5 C130.8,407.0 132.7,403.7 134.5,401.4 C136.3,399.2 137.6,397.4 139.9,396.1 C142.1,394.7 145.0,393.7 147.9,393.4 C150.8,393.0 154.2,393.6 157.3,394.0 C160.5,394.5 163.8,395.4 166.7,396.1 C169.6,396.7 172.1,397.2 174.8,398.1 C177.5,399.0 180.3,400.0 182.8,401.4 C185.4,402.9 188.0,404.6 190.2,406.8 C192.5,409.0 194.6,412.2 196.3,414.9 C197.9,417.5 199.5,420.5 200.3,422.9 C201.1,425.4 201.1,427.4 201.0,429.6 C200.9,431.9 200.6,434.7 199.6,436.4 C198.6,438.0 196.8,438.9 194.9,439.7 C193.0,440.5 190.7,440.7 188.2,441.1 C185.7,441.4 182.2,441.4 180.2,441.7 C178.1,442.1 177.1,442.2 176.1,443.1 C175.1,444.0 174.7,445.8 174.1,447.1 C173.5,448.4 173.5,450.3 172.8,451.1 C172.0,451.9 170.5,452.0 169.4,451.8 C168.3,451.6 167.4,450.6 166.1,449.8 C164.7,449.0 163.5,448.0 161.4,447.1 C159.2,446.2 156.0,445.2 153.3,444.4 C150.6,443.6 147.9,443.1 145.2,442.4 C142.5,441.7 139.9,440.8 137.2,440.4 C134.5,439.9 131.6,440.0 129.1,439.7 C126.7,439.4 124.1,439.0 122.4,438.4 C120.7,437.7 119.7,436.7 119.0,435.7 C118.4,434.7 118.1,434.2 118.4,432.3Z"/></clipPath>
<clipPath id="bc2"><path d="M19.4,508.7 C19.4,506.9 19.9,503.3 20.7,500.6 C21.5,497.9 22.7,495.0 24.1,492.5 C25.4,490.1 27.1,488.3 28.8,485.8 C30.5,483.4 32.1,480.2 34.1,477.8 C36.2,475.3 38.6,472.7 40.9,471.1 C43.1,469.4 44.9,468.6 47.6,468.1 C50.3,467.6 53.8,467.9 57.0,468.1 C60.1,468.3 63.5,468.6 66.4,469.0 C69.3,469.5 71.8,470.1 74.4,471.1 C77.1,472.1 80.0,473.5 82.5,475.1 C85.0,476.7 87.2,478.4 89.2,480.5 C91.2,482.5 93.0,484.7 94.6,487.2 C96.2,489.6 97.7,492.5 98.6,495.2 C99.5,497.9 100.0,500.8 100.0,503.3 C100.0,505.8 99.5,508.2 98.6,510.0 C97.7,511.8 96.4,513.0 94.6,514.0 C92.8,515.0 90.6,515.6 87.9,516.1 C85.2,516.5 80.7,516.5 78.5,516.7 C76.2,516.9 75.3,516.7 74.4,517.4 C73.5,518.1 73.4,519.5 73.1,520.8 C72.8,522.0 72.9,523.9 72.4,524.8 C72.0,525.7 71.2,526.1 70.4,526.1 C69.6,526.1 68.6,525.5 67.7,524.8 C66.8,524.1 66.6,523.0 65.0,522.1 C63.5,521.2 60.6,520.2 58.3,519.4 C56.1,518.6 54.1,518.1 51.6,517.4 C49.1,516.7 46.5,515.9 43.5,515.4 C40.6,514.8 37.3,514.5 34.1,514.0 C31.0,513.6 27.0,513.1 24.7,512.7 C22.5,512.2 21.6,512.0 20.7,511.4 C19.8,510.7 19.4,510.5 19.4,508.7Z"/></clipPath>
<clipPath id="bc3"><path d="M119.0,506.0 C119.2,503.7 119.6,499.5 120.4,496.6 C121.2,493.7 122.3,491.0 123.7,488.5 C125.2,486.1 127.1,483.7 129.1,481.8 C131.1,479.9 133.4,478.6 135.8,477.1 C138.3,475.6 141.0,474.2 143.9,473.1 C146.8,472.0 150.2,471.1 153.3,470.4 C156.4,469.7 159.8,469.4 162.7,469.0 C165.6,468.7 168.3,468.1 170.8,468.4 C173.2,468.6 175.2,469.3 177.5,470.4 C179.7,471.5 182.2,473.2 184.2,475.1 C186.2,477.0 187.8,479.6 189.6,481.8 C191.3,484.0 193.2,486.1 194.9,488.5 C196.6,491.0 198.5,494.1 199.6,496.6 C200.7,499.0 201.5,501.1 201.6,503.3 C201.8,505.5 201.2,508.4 200.3,510.0 C199.4,511.6 198.3,511.9 196.3,512.7 C194.3,513.5 191.3,514.0 188.2,514.7 C185.1,515.4 181.0,515.9 177.5,516.7 C173.9,517.5 169.9,518.5 166.7,519.4 C163.6,520.3 160.9,521.2 158.7,522.1 C156.4,523.0 154.9,524.1 153.3,524.8 C151.7,525.5 150.4,526.3 149.3,526.1 C148.1,525.9 147.1,524.6 146.6,523.4 C146.0,522.3 146.1,520.5 145.9,519.4 C145.7,518.3 146.7,517.2 145.2,516.7 C143.8,516.3 139.9,516.8 137.2,516.7 C134.5,516.6 131.6,516.6 129.1,516.1 C126.7,515.5 124.0,514.4 122.4,513.4 C120.8,512.4 120.3,511.2 119.7,510.0 C119.2,508.8 118.9,508.2 119.0,506.0Z"/></clipPath>
<clipPath id="bc4"><path d="M243.4,429.3 C243.4,426.6 243.4,423.9 244.0,421.2 C244.7,418.5 245.9,415.6 247.4,413.2 C248.9,410.7 250.5,408.5 252.8,406.5 C255.0,404.4 257.9,402.7 260.8,401.1 C263.7,399.5 266.9,398.0 270.2,397.1 C273.6,396.1 276.9,395.8 281.0,395.4 C285.0,395.1 291.1,394.9 294.4,395.0 C297.8,395.2 298.9,395.4 301.1,396.4 C303.4,397.4 305.8,399.2 307.8,401.1 C309.9,403.0 311.4,405.6 313.2,407.8 C315.0,410.0 317.0,412.1 318.6,414.5 C320.2,417.0 321.6,419.9 322.6,422.6 C323.6,425.3 324.4,428.4 324.6,430.6 C324.9,432.9 324.7,434.4 324.0,436.0 C323.2,437.6 321.7,439.0 319.9,440.0 C318.1,441.0 315.7,441.6 313.2,442.1 C310.7,442.5 307.8,442.4 305.2,442.7 C302.5,443.1 299.8,443.6 297.1,444.1 C294.4,444.5 291.7,444.7 289.0,445.4 C286.4,446.1 282.8,447.0 281.0,448.1 C279.2,449.2 279.4,451.2 278.3,452.1 C277.2,453.0 275.5,453.5 274.3,453.5 C273.0,453.5 271.6,453.0 270.9,452.1 C270.2,451.2 270.2,449.2 270.2,448.1 C270.2,447.0 271.1,446.1 270.9,445.4 C270.7,444.7 270.6,444.5 268.9,444.1 C267.2,443.6 263.5,443.1 260.8,442.7 C258.1,442.4 255.0,442.4 252.8,442.1 C250.5,441.7 248.9,441.5 247.4,440.7 C245.9,439.9 244.7,439.3 244.0,437.4 C243.4,435.4 243.4,432.0 243.4,429.3Z"/></clipPath>
<clipPath id="bc5"><path d="M342.4,433.3 C342.5,431.3 342.8,427.9 343.7,425.3 C344.6,422.6 346.2,419.7 347.7,417.2 C349.3,414.7 351.1,413.0 353.1,410.5 C355.1,408.0 357.6,404.7 359.8,402.4 C362.1,400.2 364.3,398.3 366.5,397.1 C368.8,395.8 370.6,395.4 373.3,395.0 C375.9,394.7 379.5,394.8 382.7,395.0 C385.8,395.3 389.2,395.8 392.1,396.4 C395.0,396.9 397.4,397.5 400.1,398.4 C402.8,399.3 405.7,400.4 408.2,401.8 C410.6,403.1 412.9,404.6 414.9,406.5 C416.9,408.4 418.7,410.7 420.3,413.2 C421.8,415.6 423.4,418.5 424.3,421.2 C425.2,423.9 425.6,426.8 425.6,429.3 C425.6,431.8 425.2,434.2 424.3,436.0 C423.4,437.8 422.1,439.0 420.3,440.0 C418.5,441.0 416.0,441.6 413.6,442.1 C411.1,442.5 407.7,442.4 405.5,442.7 C403.3,443.1 401.4,443.2 400.1,444.1 C398.9,445.0 398.7,446.8 398.1,448.1 C397.5,449.4 397.5,451.3 396.8,452.1 C396.0,453.0 394.5,453.3 393.4,453.2 C392.3,453.1 391.4,452.2 390.1,451.5 C388.7,450.7 387.5,449.7 385.4,448.8 C383.2,447.9 380.0,446.9 377.3,446.1 C374.6,445.3 371.9,444.7 369.2,444.1 C366.5,443.4 363.9,442.5 361.2,442.1 C358.5,441.6 355.6,441.7 353.1,441.4 C350.7,441.0 348.1,440.7 346.4,440.0 C344.7,439.4 343.7,438.5 343.0,437.4 C342.4,436.2 342.3,435.3 342.4,433.3Z"/></clipPath>
<clipPath id="bc6"><path d="M242.7,507.3 C242.7,505.3 243.3,501.9 244.0,499.3 C244.8,496.6 245.9,493.7 247.4,491.2 C248.9,488.7 251.0,486.7 252.8,484.5 C254.6,482.3 255.9,480.0 258.1,477.8 C260.4,475.5 263.7,472.5 266.2,471.1 C268.7,469.6 270.2,469.4 272.9,469.0 C275.6,468.6 279.2,468.4 282.3,468.6 C285.5,468.9 288.8,469.6 291.7,470.4 C294.6,471.1 297.1,472.0 299.8,473.1 C302.5,474.2 305.4,475.4 307.8,477.1 C310.3,478.8 312.5,480.8 314.6,483.1 C316.6,485.5 318.4,488.5 319.9,491.2 C321.5,493.9 323.2,496.8 324.0,499.3 C324.7,501.7 324.9,504.0 324.6,506.0 C324.4,508.0 323.6,509.9 322.6,511.4 C321.6,512.8 320.4,513.9 318.6,514.7 C316.8,515.5 314.6,515.8 311.9,516.1 C309.2,516.3 304.7,515.9 302.5,516.1 C300.2,516.2 299.3,515.9 298.4,516.7 C297.5,517.5 297.4,519.4 297.1,520.8 C296.8,522.1 296.9,523.9 296.4,524.8 C296.0,525.7 295.3,526.1 294.4,526.1 C293.5,526.1 292.2,525.5 291.1,524.8 C289.9,524.1 289.4,522.9 287.7,522.1 C286.0,521.3 283.2,520.8 281.0,520.1 C278.7,519.4 276.9,518.7 274.3,518.1 C271.6,517.4 268.0,516.6 264.9,516.1 C261.7,515.5 258.4,515.2 255.5,514.7 C252.5,514.3 249.3,513.9 247.4,513.4 C245.5,512.8 244.8,512.4 244.0,511.4 C243.3,510.3 242.7,509.3 242.7,507.3Z"/></clipPath>
<clipPath id="bc7"><path d="M343.7,506.0 C343.8,504.1 343.7,500.6 344.4,497.9 C345.1,495.2 346.3,492.3 347.7,489.9 C349.2,487.4 351.1,485.2 353.1,483.1 C355.1,481.1 357.4,479.3 359.8,477.8 C362.3,476.2 365.0,474.9 367.9,473.7 C370.8,472.6 374.2,471.8 377.3,471.1 C380.4,470.3 383.6,469.8 386.7,469.4 C389.8,469.1 393.4,468.7 396.1,469.0 C398.8,469.4 400.6,470.5 402.8,471.7 C405.0,473.0 407.5,474.5 409.5,476.4 C411.5,478.3 413.1,480.7 414.9,483.1 C416.7,485.6 418.7,488.5 420.3,491.2 C421.8,493.9 423.4,496.8 424.3,499.3 C425.2,501.7 425.8,504.0 425.6,506.0 C425.5,508.0 424.7,510.0 423.6,511.4 C422.5,512.7 421.1,513.4 418.9,514.0 C416.8,514.7 413.8,514.8 410.9,515.4 C408.0,515.9 404.4,516.7 401.5,517.4 C398.6,518.1 395.9,518.6 393.4,519.4 C390.9,520.2 388.9,521.2 386.7,522.1 C384.5,523.0 382.0,524.1 380.0,524.8 C378.0,525.5 376.1,526.2 374.6,526.1 C373.2,526.0 372.0,525.2 371.2,524.1 C370.5,523.0 370.2,520.8 369.9,519.4 C369.6,518.1 370.9,516.6 369.2,516.1 C367.6,515.5 362.7,516.3 359.8,516.1 C356.9,515.8 354.0,515.3 351.8,514.7 C349.5,514.1 347.7,513.6 346.4,512.7 C345.1,511.8 344.4,510.5 344.0,509.3 C343.5,508.2 343.6,507.9 343.7,506.0Z"/></clipPath>
<clipPath id="bc8"><path d="M479.7,432.3 C479.7,430.1 479.7,426.9 480.4,424.2 C481.0,421.5 482.2,418.6 483.7,416.2 C485.3,413.7 487.4,411.5 489.8,409.5 C492.1,407.4 494.9,405.8 497.8,404.1 C500.7,402.4 503.9,400.5 507.2,399.4 C510.6,398.3 513.9,397.8 518.0,397.4 C522.0,396.9 528.1,396.5 531.4,396.7 C534.8,396.9 535.9,397.5 538.1,398.7 C540.4,399.9 542.8,402.1 544.8,404.1 C546.9,406.1 548.4,408.6 550.2,410.8 C552.0,413.0 554.0,415.1 555.6,417.5 C557.2,420.0 558.6,422.9 559.6,425.6 C560.6,428.3 561.5,431.5 561.6,433.6 C561.7,435.8 561.3,437.1 560.3,438.3 C559.3,439.6 557.5,440.2 555.6,441.0 C553.7,441.8 551.3,442.5 548.9,443.0 C546.4,443.6 543.5,443.9 540.8,444.4 C538.1,444.8 535.4,445.2 532.8,445.7 C530.1,446.3 527.2,447.0 524.7,447.7 C522.2,448.5 519.5,449.4 518.0,450.4 C516.4,451.4 516.4,453.0 515.3,453.8 C514.2,454.6 512.5,455.1 511.3,455.1 C510.0,455.1 508.6,454.7 507.9,453.8 C507.2,452.9 507.1,450.9 507.2,449.8 C507.3,448.6 509.5,447.8 508.6,447.1 C507.7,446.3 504.5,445.6 501.9,445.1 C499.2,444.5 495.4,444.3 492.5,443.7 C489.5,443.1 486.4,442.7 484.4,441.7 C482.4,440.7 481.4,439.2 480.6,437.7 C479.9,436.1 479.7,434.5 479.7,432.3Z"/></clipPath>
<clipPath id="bc9"><path d="M578.7,436.3 C578.8,434.5 579.1,430.9 580.0,428.3 C580.9,425.6 582.6,422.7 584.1,420.2 C585.5,417.7 586.9,416.0 588.8,413.5 C590.7,411.0 593.3,407.8 595.5,405.4 C597.7,403.1 600.0,400.8 602.2,399.4 C604.4,398.0 606.2,397.4 608.9,397.1 C611.6,396.8 615.2,397.1 618.3,397.4 C621.5,397.6 624.8,398.2 627.7,398.7 C630.6,399.3 633.1,399.8 635.8,400.7 C638.5,401.6 641.4,402.6 643.8,404.1 C646.3,405.5 648.5,407.4 650.6,409.5 C652.6,411.5 654.4,413.7 655.9,416.2 C657.5,418.6 658.9,421.5 660.0,424.2 C661.0,426.9 661.7,429.8 662.0,432.3 C662.2,434.8 662.1,437.3 661.3,439.0 C660.5,440.7 659.3,441.5 657.3,442.4 C655.3,443.3 651.9,443.9 649.2,444.4 C646.5,444.8 643.4,444.7 641.2,445.1 C638.9,445.4 637.0,445.5 635.8,446.4 C634.5,447.3 634.3,449.2 633.8,450.4 C633.2,451.7 633.2,453.0 632.4,453.8 C631.6,454.5 630.2,455.0 629.1,454.9 C627.9,454.7 627.1,453.8 625.7,453.1 C624.4,452.4 623.1,451.3 621.0,450.4 C618.9,449.5 615.6,448.5 612.9,447.7 C610.3,447.0 607.6,446.4 604.9,445.7 C602.2,445.1 599.5,444.3 596.8,443.7 C594.1,443.1 591.2,442.8 588.8,442.4 C586.3,441.9 583.6,441.6 582.1,441.0 C580.5,440.5 579.9,439.8 579.4,439.0 C578.8,438.2 578.6,438.1 578.7,436.3Z"/></clipPath>
<clipPath id="bc10"><path d="M480.4,509.3 C480.4,507.4 480.9,503.9 481.7,501.3 C482.5,498.6 483.7,495.7 485.1,493.2 C486.4,490.7 488.1,488.7 489.8,486.5 C491.5,484.3 493.1,481.9 495.1,479.8 C497.2,477.6 499.6,475.2 501.9,473.7 C504.1,472.3 505.9,471.6 508.6,471.0 C511.3,470.5 514.8,470.4 518.0,470.4 C521.1,470.4 524.5,470.6 527.4,471.0 C530.3,471.5 532.8,472.1 535.4,473.1 C538.1,474.1 541.0,475.5 543.5,477.1 C546.0,478.7 548.2,480.4 550.2,482.5 C552.2,484.5 554.0,486.7 555.6,489.2 C557.2,491.6 558.6,494.5 559.6,497.2 C560.6,499.9 561.5,502.9 561.6,505.3 C561.7,507.6 561.2,509.7 560.3,511.3 C559.4,513.0 558.0,514.5 556.3,515.4 C554.5,516.3 552.1,516.5 549.5,516.7 C547.0,516.9 543.0,516.5 540.8,516.7 C538.6,516.9 537.1,517.2 536.1,518.1 C535.1,518.9 535.1,520.7 534.8,522.1 C534.4,523.4 534.7,525.2 534.1,526.1 C533.5,527.0 532.4,527.5 531.4,527.5 C530.4,527.5 529.1,526.8 528.1,526.1 C527.0,525.4 526.9,524.2 525.4,523.4 C523.8,522.6 520.9,522.0 518.6,521.4 C516.4,520.8 514.5,520.4 511.9,519.8 C509.4,519.2 506.2,518.6 503.2,518.1 C500.2,517.5 496.7,517.2 493.8,516.7 C490.9,516.3 487.8,516.0 485.7,515.4 C483.7,514.7 482.6,513.7 481.7,512.7 C480.8,511.7 480.4,511.2 480.4,509.3Z"/></clipPath>
<clipPath id="bc11"><path d="M580.7,508.0 C580.8,506.1 580.7,502.6 581.4,499.9 C582.1,497.2 583.3,494.3 584.7,491.9 C586.2,489.4 588.1,487.2 590.1,485.1 C592.1,483.1 594.4,481.3 596.8,479.8 C599.3,478.2 602.0,477.0 604.9,475.7 C607.8,474.5 611.2,473.2 614.3,472.4 C617.4,471.6 620.8,471.4 623.7,471.0 C626.6,470.7 629.1,470.0 631.8,470.4 C634.4,470.7 637.3,471.7 639.8,473.1 C642.3,474.4 644.5,476.4 646.5,478.4 C648.5,480.4 650.1,482.7 651.9,485.1 C653.7,487.6 655.7,490.5 657.3,493.2 C658.8,495.9 660.4,498.8 661.3,501.3 C662.2,503.7 662.8,506.1 662.6,508.0 C662.5,509.9 661.7,511.4 660.6,512.7 C659.5,513.9 658.1,514.7 655.9,515.4 C653.8,516.0 650.8,516.1 647.9,516.7 C645.0,517.3 641.4,517.9 638.5,518.7 C635.6,519.5 632.9,520.5 630.4,521.4 C627.9,522.3 625.9,523.2 623.7,524.1 C621.5,525.0 618.9,526.1 617.0,526.8 C615.1,527.5 613.6,528.2 612.3,528.1 C611.0,528.0 609.9,527.2 609.2,526.1 C608.5,525.0 608.6,522.9 608.2,521.4 C607.9,520.0 608.6,518.1 606.9,517.4 C605.2,516.7 601.0,517.5 598.2,517.4 C595.4,517.3 592.5,517.2 590.1,516.7 C587.8,516.3 585.6,515.6 584.1,514.7 C582.6,513.8 581.5,512.5 581.0,511.3 C580.4,510.2 580.6,509.9 580.7,508.0Z"/></clipPath>
<clipPath id="bc12"><path d="M19.4,605.6 C19.3,603.2 19.4,600.3 20.0,597.6 C20.7,594.9 21.9,592.0 23.4,589.5 C24.9,587.1 26.5,584.8 28.8,582.8 C31.0,580.8 34.1,579.0 36.8,577.4 C39.5,575.9 42.0,574.5 44.9,573.4 C47.8,572.3 51.2,571.3 54.3,570.7 C57.4,570.1 60.8,569.8 63.7,569.6 C66.6,569.5 69.3,569.2 71.8,569.6 C74.2,570.0 76.2,570.8 78.5,572.1 C80.7,573.4 83.2,575.4 85.2,577.4 C87.2,579.4 88.8,581.7 90.6,584.1 C92.3,586.6 94.4,589.5 95.9,592.2 C97.5,594.9 99.1,597.8 100.0,600.3 C100.9,602.7 101.3,605.0 101.3,607.0 C101.3,609.0 101.1,611.0 100.0,612.4 C98.8,613.7 96.6,614.4 94.6,615.0 C92.6,615.7 90.1,616.0 87.9,616.4 C85.6,616.7 83.6,616.8 81.2,617.1 C78.7,617.3 75.8,617.4 73.1,617.7 C70.4,618.1 67.5,618.4 65.0,619.1 C62.6,619.7 60.1,620.6 58.3,621.8 C56.5,622.9 55.6,624.8 54.3,625.8 C52.9,626.8 51.5,627.7 50.3,627.8 C49.0,627.9 47.6,627.5 46.9,626.5 C46.2,625.4 46.0,623.0 46.0,621.8 C46.0,620.5 47.8,619.7 46.9,619.1 C46.1,618.4 43.2,618.1 40.9,617.7 C38.5,617.4 35.5,617.4 32.8,617.1 C30.1,616.7 26.8,616.5 24.7,615.7 C22.7,614.9 21.6,614.0 20.7,612.4 C19.8,610.7 19.5,608.1 19.4,605.6Z"/></clipPath>
<clipPath id="bc13"><path d="M121.4,607.0 C121.6,605.3 121.9,602.7 122.7,600.3 C123.5,597.8 124.7,594.9 126.1,592.2 C127.4,589.5 129.1,586.6 130.8,584.1 C132.5,581.7 134.1,579.4 136.1,577.4 C138.2,575.4 140.6,573.4 142.9,572.1 C145.1,570.8 146.9,570.0 149.6,569.6 C152.3,569.2 155.6,569.3 159.0,569.6 C162.3,569.9 166.6,570.6 169.7,571.4 C172.9,572.1 175.3,573.1 177.8,574.1 C180.2,575.1 182.3,576.0 184.5,577.4 C186.7,578.9 189.2,580.8 191.2,582.8 C193.2,584.8 195.0,587.3 196.6,589.5 C198.2,591.8 199.5,594.0 200.6,596.2 C201.7,598.5 203.0,600.7 203.3,602.9 C203.6,605.2 203.3,607.9 202.6,609.7 C202.0,611.5 201.2,612.7 199.3,613.7 C197.4,614.7 193.9,615.3 191.2,615.7 C188.5,616.2 185.4,616.0 183.2,616.4 C180.9,616.7 179.0,616.8 177.8,617.7 C176.5,618.6 176.2,620.2 175.8,621.8 C175.3,623.3 175.7,626.0 175.1,627.1 C174.5,628.2 173.4,628.5 172.4,628.5 C171.4,628.5 170.6,628.0 169.1,627.1 C167.5,626.2 165.4,624.3 163.0,623.1 C160.7,621.9 157.6,620.6 154.9,619.7 C152.3,618.8 149.6,618.4 146.9,617.7 C144.2,617.1 141.5,616.3 138.8,615.7 C136.1,615.1 133.2,614.9 130.8,614.4 C128.3,613.8 125.6,613.0 124.1,612.4 C122.5,611.7 122.1,611.2 121.6,610.3 C121.2,609.4 121.2,608.7 121.4,607.0Z"/></clipPath>
<clipPath id="bc14"><path d="M19.4,683.7 C19.3,681.9 19.9,678.3 20.7,675.6 C21.5,672.9 22.7,670.2 24.1,667.5 C25.4,664.9 27.1,662.2 28.8,659.5 C30.5,656.8 32.1,653.7 34.1,651.4 C36.2,649.2 38.6,647.4 40.9,646.1 C43.1,644.7 44.7,643.9 47.6,643.4 C50.5,642.9 55.0,642.9 58.3,643.1 C61.7,643.3 64.6,643.9 67.7,644.7 C70.9,645.5 74.2,646.7 77.1,648.1 C80.0,649.4 82.7,650.9 85.2,652.8 C87.6,654.7 90.0,657.0 91.9,659.5 C93.8,662.0 95.4,664.9 96.6,667.5 C97.8,670.2 98.9,672.9 99.3,675.6 C99.6,678.3 99.4,681.4 98.6,683.7 C97.8,685.9 96.6,687.7 94.6,689.0 C92.6,690.4 89.2,691.2 86.5,691.7 C83.8,692.3 80.6,692.1 78.5,692.4 C76.3,692.7 74.8,693.0 73.8,693.7 C72.8,694.5 72.8,695.9 72.4,697.1 C72.1,698.3 72.3,700.3 71.8,701.1 C71.2,702.0 70.1,702.3 69.1,702.2 C68.1,702.1 67.1,701.3 65.7,700.5 C64.4,699.6 62.9,698.1 61.0,697.1 C59.1,696.1 56.8,695.3 54.3,694.4 C51.8,693.5 49.1,692.5 46.2,691.7 C43.3,690.9 40.0,690.3 36.8,689.7 C33.7,689.1 30.0,688.9 27.4,688.4 C24.9,687.8 22.7,687.1 21.4,686.4 C20.0,685.6 19.5,685.5 19.4,683.7Z"/></clipPath>
<clipPath id="bc15"><path d="M121.4,681.0 C121.4,679.0 121.5,675.6 122.0,672.9 C122.6,670.2 123.5,667.3 124.7,664.9 C126.0,662.4 127.5,660.2 129.4,658.1 C131.3,656.1 133.7,654.3 136.1,652.8 C138.6,651.2 141.3,650.0 144.2,648.7 C147.1,647.5 150.5,646.2 153.6,645.4 C156.7,644.6 159.9,644.3 163.0,644.0 C166.1,643.8 169.7,643.7 172.4,644.0 C175.1,644.4 177.1,645.1 179.1,646.1 C181.1,647.1 182.7,648.3 184.5,650.1 C186.3,651.9 188.1,654.6 189.9,656.8 C191.7,659.0 193.7,661.1 195.2,663.5 C196.8,666.0 198.2,668.9 199.3,671.6 C200.4,674.3 201.7,677.4 202.0,679.6 C202.2,681.9 201.5,683.6 200.6,685.0 C199.7,686.5 198.4,687.6 196.6,688.4 C194.8,689.1 192.6,689.1 189.9,689.7 C187.2,690.3 183.4,690.9 180.5,691.7 C177.6,692.5 174.9,693.5 172.4,694.4 C169.9,695.3 167.9,696.2 165.7,697.1 C163.5,698.0 160.9,699.0 159.0,699.8 C157.1,700.6 155.7,701.7 154.3,701.8 C152.8,701.9 151.1,701.2 150.2,700.5 C149.4,699.7 149.2,698.5 148.9,697.1 C148.6,695.6 149.7,692.7 148.2,691.7 C146.8,690.7 143.1,691.4 140.2,691.1 C137.3,690.7 133.3,690.3 130.8,689.7 C128.2,689.1 126.2,688.5 124.7,687.7 C123.3,686.9 122.6,686.1 122.0,685.0 C121.5,683.9 121.4,683.0 121.4,681.0Z"/></clipPath>
<clipPath id="bc16"><path d="M240.4,607.3 C240.2,604.7 240.9,601.9 241.7,599.2 C242.5,596.5 243.6,593.6 245.1,591.2 C246.5,588.7 248.2,586.5 250.4,584.5 C252.7,582.4 255.6,580.7 258.5,579.1 C261.4,577.5 264.8,576.1 267.9,575.1 C271.0,574.1 274.2,573.5 277.3,573.0 C280.4,572.6 283.8,572.3 286.7,572.1 C289.6,571.9 292.3,571.7 294.8,572.1 C297.2,572.5 299.2,573.1 301.5,574.4 C303.7,575.7 306.2,577.7 308.2,579.8 C310.2,581.8 311.8,584.1 313.6,586.5 C315.3,588.8 317.4,591.3 318.9,593.9 C320.5,596.4 321.9,599.5 323.0,601.9 C324.0,604.4 324.9,606.5 325.0,608.6 C325.1,610.8 324.7,613.2 323.6,614.7 C322.5,616.2 320.4,617.0 318.3,617.8 C316.1,618.6 313.2,619.0 310.9,619.4 C308.5,619.8 306.6,619.8 304.2,620.1 C301.7,620.3 298.8,620.4 296.1,620.7 C293.4,621.1 290.5,621.4 288.0,622.1 C285.6,622.7 283.1,623.6 281.3,624.8 C279.5,625.9 278.6,627.7 277.3,628.8 C275.9,629.9 274.5,631.0 273.3,631.2 C272.0,631.4 270.6,630.9 269.9,629.9 C269.2,628.8 269.0,626.1 269.0,624.8 C269.0,623.5 270.8,622.7 269.9,622.1 C269.1,621.4 266.2,621.1 263.9,620.7 C261.5,620.4 258.5,620.4 255.8,620.1 C253.1,619.7 250.0,619.6 247.7,618.7 C245.5,617.8 243.6,616.6 242.4,614.7 C241.1,612.8 240.5,609.9 240.4,607.3Z"/></clipPath>
<clipPath id="bc17"><path d="M347.7,610.0 C347.9,608.0 348.3,604.6 349.1,601.9 C349.8,599.2 351.1,596.3 352.4,593.9 C353.8,591.4 355.4,589.4 357.1,587.1 C358.8,584.9 360.5,582.4 362.5,580.4 C364.5,578.4 367.0,576.3 369.2,575.1 C371.4,573.8 373.2,573.4 375.9,573.0 C378.6,572.7 382.2,572.8 385.3,573.0 C388.5,573.3 391.8,574.1 394.7,574.8 C397.6,575.5 400.3,576.1 402.8,577.1 C405.2,578.0 407.3,579.0 409.5,580.4 C411.7,581.9 414.2,583.8 416.2,585.8 C418.2,587.8 420.0,590.2 421.6,592.5 C423.2,594.9 424.6,597.4 425.6,599.9 C426.6,602.4 427.5,605.1 427.6,607.3 C427.7,609.5 427.2,611.7 426.3,613.3 C425.4,614.9 424.0,616.1 422.3,617.0 C420.5,617.9 417.9,618.3 415.5,618.7 C413.2,619.2 410.2,619.3 408.2,619.6 C406.1,620.0 404.6,619.9 403.5,620.7 C402.3,621.6 401.9,623.3 401.4,624.8 C401.0,626.2 401.3,628.4 400.8,629.5 C400.2,630.5 399.1,631.1 398.1,631.2 C397.1,631.3 396.2,630.6 394.7,629.9 C393.3,629.1 391.6,627.8 389.4,626.8 C387.1,625.7 384.0,624.3 381.3,623.4 C378.6,622.5 375.9,622.0 373.2,621.4 C370.5,620.8 367.9,620.2 365.2,619.6 C362.5,619.1 359.6,618.8 357.1,618.3 C354.7,617.8 352.0,617.4 350.4,616.7 C348.8,616.0 348.2,615.1 347.7,614.0 C347.3,612.9 347.5,612.0 347.7,610.0Z"/></clipPath>
<clipPath id="bc18"><path d="M243.0,685.0 C242.9,683.0 243.6,679.6 244.4,676.9 C245.2,674.2 246.4,671.5 247.7,668.9 C249.1,666.3 250.7,664.1 252.4,661.5 C254.2,658.9 256.4,655.7 258.5,653.4 C260.6,651.2 263.0,649.4 265.2,648.1 C267.4,646.7 269.0,645.8 271.9,645.4 C274.8,644.9 279.3,645.1 282.7,645.4 C286.0,645.6 288.9,646.2 292.1,647.0 C295.2,647.8 298.6,648.8 301.5,650.1 C304.4,651.4 307.1,653.0 309.5,654.8 C312.0,656.6 314.2,658.5 316.2,660.8 C318.3,663.2 320.3,666.2 321.6,668.9 C323.0,671.6 324.0,674.2 324.3,676.9 C324.6,679.6 324.4,682.8 323.6,685.0 C322.8,687.2 321.5,689.1 319.6,690.4 C317.7,691.6 314.8,692.0 312.2,692.4 C309.6,692.8 306.4,692.4 304.2,692.6 C301.9,692.9 300.0,692.9 298.8,693.7 C297.5,694.6 297.2,696.3 296.8,697.8 C296.3,699.2 296.7,701.4 296.1,702.5 C295.5,703.5 294.4,703.9 293.4,703.8 C292.4,703.7 291.5,702.8 290.1,702.0 C288.6,701.3 286.8,700.0 284.7,699.1 C282.6,698.2 279.9,697.2 277.3,696.4 C274.7,695.6 272.1,695.1 269.2,694.4 C266.3,693.7 263.0,692.9 259.8,692.4 C256.7,691.8 252.9,691.7 250.4,691.0 C248.0,690.4 246.3,689.6 245.1,688.6 C243.8,687.6 243.2,686.9 243.0,685.0Z"/></clipPath>
<clipPath id="bc19"><path d="M346.4,682.0 C346.4,680.0 346.5,676.6 347.0,673.9 C347.6,671.2 348.5,668.3 349.7,665.9 C351.0,663.4 352.5,661.2 354.4,659.1 C356.3,657.1 358.7,655.3 361.1,653.8 C363.6,652.2 366.3,651.0 369.2,649.7 C372.1,648.5 375.5,647.2 378.6,646.4 C381.7,645.5 384.9,644.9 388.0,644.6 C391.1,644.3 394.7,644.2 397.4,644.6 C400.1,645.0 402.1,646.0 404.1,647.1 C406.1,648.1 407.7,649.3 409.5,651.1 C411.3,652.9 413.1,655.5 414.9,657.8 C416.7,660.2 418.7,662.7 420.2,665.2 C421.8,667.7 423.3,670.0 424.3,672.6 C425.3,675.2 426.2,678.4 426.3,680.6 C426.4,682.9 425.8,684.6 424.9,686.0 C424.0,687.5 422.7,688.6 420.9,689.4 C419.1,690.1 416.8,690.1 414.2,690.7 C411.6,691.3 408.3,691.9 405.5,692.7 C402.7,693.5 399.9,694.5 397.4,695.4 C394.9,696.3 392.9,697.2 390.7,698.1 C388.5,699.0 386.0,700.1 384.0,700.8 C382.0,701.5 380.2,702.0 378.6,702.1 C377.0,702.2 375.6,702.1 374.6,701.5 C373.6,700.8 372.9,699.4 372.6,698.1 C372.2,696.8 373.8,694.4 372.6,693.4 C371.3,692.4 368.0,692.5 365.2,692.1 C362.4,691.6 358.3,691.3 355.8,690.7 C353.2,690.1 351.2,689.5 349.7,688.7 C348.3,687.9 347.6,687.1 347.0,686.0 C346.5,684.9 346.4,684.0 346.4,682.0Z"/></clipPath>
<clipPath id="bc20"><path d="M478.0,607.3 C478.0,604.8 478.6,601.8 479.4,599.2 C480.2,596.7 481.3,594.1 482.7,591.8 C484.2,589.6 486.0,587.7 488.1,585.8 C490.2,583.9 492.7,582.0 495.5,580.4 C498.3,578.9 501.8,577.6 504.9,576.4 C508.0,575.2 511.2,573.8 514.3,573.0 C517.4,572.3 520.8,571.9 523.7,571.7 C526.6,571.5 529.3,571.3 531.8,571.7 C534.2,572.1 536.2,573.0 538.5,574.4 C540.7,575.7 543.2,577.7 545.2,579.8 C547.2,581.8 548.8,584.1 550.6,586.5 C552.3,588.8 554.4,591.3 555.9,593.9 C557.5,596.4 558.9,599.5 560.0,601.9 C561.0,604.4 561.9,606.6 562.0,608.6 C562.1,610.6 561.7,612.6 560.6,614.0 C559.5,615.4 557.4,616.2 555.3,617.0 C553.1,617.7 550.3,618.3 547.9,618.7 C545.4,619.1 542.9,619.0 540.5,619.4 C538.0,619.7 535.7,620.2 533.1,620.7 C530.5,621.2 527.5,621.7 525.0,622.3 C522.6,623.0 520.2,623.8 518.3,624.8 C516.4,625.7 515.0,627.3 513.6,628.1 C512.3,629.0 511.2,629.7 510.3,629.9 C509.4,630.0 508.6,629.6 508.2,628.8 C507.9,627.9 508.2,625.9 508.2,624.8 C508.3,623.6 509.9,622.7 508.7,622.1 C507.4,621.4 503.5,621.1 500.9,620.7 C498.2,620.4 495.5,620.4 492.8,620.1 C490.1,619.7 487.0,619.7 484.7,618.7 C482.5,617.7 480.5,615.9 479.4,614.0 C478.3,612.1 478.0,609.8 478.0,607.3Z"/></clipPath>
<clipPath id="bc21"><path d="M582.4,608.6 C582.5,606.7 582.9,604.3 583.7,601.9 C584.5,599.6 585.7,597.0 587.1,594.5 C588.4,592.1 590.1,589.5 591.8,587.1 C593.5,584.8 595.1,582.4 597.1,580.4 C599.2,578.4 601.6,576.4 603.9,575.1 C606.1,573.7 607.9,572.8 610.6,572.4 C613.3,571.9 616.6,572.1 620.0,572.4 C623.3,572.6 627.6,573.3 630.7,574.0 C633.9,574.7 636.3,575.6 638.8,576.7 C641.2,577.7 643.3,578.9 645.5,580.4 C647.7,582.0 650.2,583.8 652.2,585.8 C654.2,587.8 656.0,590.2 657.6,592.5 C659.2,594.9 660.6,597.4 661.6,599.9 C662.6,602.4 663.5,605.1 663.6,607.3 C663.7,609.5 663.2,611.7 662.3,613.3 C661.4,614.9 660.0,616.1 658.3,617.0 C656.5,617.9 653.9,618.3 651.5,618.7 C649.2,619.2 646.2,619.3 644.2,619.6 C642.1,620.0 640.6,619.9 639.5,620.7 C638.3,621.6 637.7,623.3 637.2,624.8 C636.6,626.2 636.7,628.4 636.1,629.5 C635.5,630.5 634.4,631.1 633.4,631.2 C632.4,631.3 631.5,630.6 630.1,629.9 C628.6,629.1 626.9,627.8 624.7,626.8 C622.4,625.7 619.3,624.3 616.6,623.4 C613.9,622.5 611.2,622.1 608.6,621.4 C605.9,620.7 603.2,619.9 600.5,619.4 C597.8,618.8 594.9,618.6 592.4,618.0 C590.0,617.5 587.3,616.8 585.7,616.0 C584.2,615.2 583.6,614.6 583.0,613.3 C582.5,612.1 582.3,610.5 582.4,608.6Z"/></clipPath>
<clipPath id="bc22"><path d="M482.0,685.0 C481.9,683.1 482.6,679.6 483.4,676.9 C484.2,674.2 485.4,671.5 486.7,668.9 C488.1,666.3 489.7,664.1 491.4,661.5 C493.2,658.9 495.4,655.6 497.5,653.4 C499.6,651.3 502.0,649.9 504.2,648.7 C506.4,647.6 508.0,646.9 510.9,646.4 C513.8,646.0 518.3,645.9 521.7,646.0 C525.0,646.2 527.9,646.6 531.1,647.4 C534.2,648.1 537.6,649.2 540.5,650.5 C543.4,651.8 546.1,653.2 548.5,655.0 C551.0,656.9 553.3,659.2 555.2,661.5 C557.1,663.8 558.7,666.3 559.9,668.9 C561.2,671.5 562.3,674.2 562.6,676.9 C563.0,679.6 562.7,682.8 562.0,685.0 C561.2,687.2 559.7,688.8 557.9,690.0 C556.1,691.1 553.7,691.7 551.2,692.1 C548.7,692.5 545.4,692.2 543.2,692.4 C540.9,692.6 539.1,692.6 537.8,693.5 C536.4,694.3 535.7,696.3 535.1,697.8 C534.5,699.2 535.0,701.2 534.4,702.0 C533.9,702.9 532.7,703.2 531.7,703.1 C530.7,703.0 529.8,702.3 528.4,701.5 C526.9,700.7 525.1,699.4 523.0,698.4 C520.9,697.5 518.2,696.5 515.6,695.7 C513.0,695.0 510.4,694.4 507.6,693.7 C504.8,693.1 501.9,692.3 498.8,691.7 C495.8,691.1 491.9,690.5 489.4,690.0 C487.0,689.4 485.3,689.2 484.1,688.4 C482.8,687.5 482.2,686.9 482.0,685.0Z"/></clipPath>
<clipPath id="bc23"><path d="M583.4,681.6 C583.4,679.5 583.4,676.3 584.0,673.6 C584.7,670.9 586.0,668.0 587.4,665.5 C588.7,663.1 590.2,660.7 592.1,658.8 C594.0,656.9 596.3,655.4 598.8,654.1 C601.3,652.8 604.0,651.9 606.9,650.7 C609.8,649.6 613.1,648.2 616.3,647.4 C619.4,646.6 622.5,646.3 625.7,646.0 C628.8,645.8 632.4,645.6 635.1,646.0 C637.8,646.5 639.8,647.5 641.8,648.7 C643.8,650.0 645.4,651.5 647.2,653.4 C648.9,655.3 650.7,657.7 652.5,660.1 C654.3,662.6 656.4,665.5 657.9,668.2 C659.4,670.9 660.5,673.8 661.3,676.3 C662.0,678.7 662.8,681.2 662.6,683.0 C662.4,684.8 661.1,686.0 659.9,687.0 C658.7,688.0 657.3,688.4 655.2,689.0 C653.1,689.7 649.8,690.3 647.2,691.0 C644.5,691.8 641.6,692.8 639.1,693.7 C636.6,694.6 634.6,695.5 632.4,696.4 C630.1,697.3 627.8,698.2 625.7,699.1 C623.5,699.9 621.4,700.8 619.6,701.5 C617.8,702.2 616.5,703.0 614.9,703.1 C613.4,703.3 611.3,703.1 610.2,702.5 C609.1,701.8 608.4,700.5 608.2,699.1 C608.0,697.6 610.0,694.8 608.9,693.7 C607.8,692.6 604.1,693.0 601.5,692.6 C598.9,692.3 595.9,692.2 593.4,691.7 C591.0,691.2 588.3,690.6 586.7,689.7 C585.1,688.8 584.6,687.7 584.0,686.3 C583.5,685.0 583.4,683.8 583.4,681.6Z"/></clipPath>
<clipPath id="bc24"><path d="M18.4,774.3 C18.4,771.7 18.4,768.8 19.0,766.2 C19.7,763.7 20.9,761.1 22.4,758.8 C23.9,756.6 25.5,754.7 27.8,752.8 C30.0,750.9 33.1,749.0 35.8,747.4 C38.5,745.9 41.0,744.6 43.9,743.4 C46.8,742.2 50.2,741.1 53.3,740.4 C56.4,739.8 59.8,739.6 62.7,739.4 C65.6,739.2 68.3,739.0 70.8,739.4 C73.2,739.8 75.2,740.5 77.5,741.8 C79.7,743.1 82.2,745.1 84.2,747.2 C86.2,749.2 87.8,751.5 89.6,753.9 C91.3,756.3 93.4,758.9 94.9,761.5 C96.5,764.2 98.1,767.1 99.0,769.6 C99.9,772.1 100.3,774.3 100.3,776.3 C100.3,778.3 100.1,780.3 99.0,781.7 C97.8,783.1 95.6,784.0 93.6,784.8 C91.6,785.5 89.1,785.8 86.9,786.1 C84.6,786.4 82.6,786.4 80.2,786.6 C77.7,786.9 74.8,787.3 72.1,787.7 C69.4,788.1 66.5,788.4 64.0,789.1 C61.6,789.7 59.1,790.6 57.3,791.8 C55.5,792.9 54.6,794.7 53.3,795.8 C51.9,796.9 50.5,798.0 49.3,798.2 C48.0,798.4 46.6,797.9 45.9,796.9 C45.2,795.8 45.0,793.1 45.0,791.8 C45.0,790.5 46.8,789.7 45.9,789.1 C45.1,788.4 42.2,788.1 39.9,787.7 C37.5,787.4 34.5,787.4 31.8,787.1 C29.1,786.7 25.9,786.6 23.7,785.7 C21.6,784.8 19.9,783.6 19.0,781.7 C18.1,779.8 18.4,776.9 18.4,774.3Z"/></clipPath>
<clipPath id="bc25"><path d="M122.4,776.0 C122.6,774.2 122.9,771.2 123.7,768.6 C124.5,766.0 125.7,763.1 127.1,760.5 C128.4,758.0 130.1,755.5 131.8,753.1 C133.5,750.8 135.1,748.4 137.1,746.4 C139.2,744.4 141.5,742.4 143.9,741.1 C146.2,739.8 148.6,739.0 151.2,738.6 C153.9,738.2 156.7,738.3 160.0,738.6 C163.2,738.9 167.6,739.6 170.7,740.4 C173.9,741.1 176.3,742.1 178.8,743.1 C181.2,744.1 183.3,745.0 185.5,746.4 C187.7,747.9 190.2,749.8 192.2,751.8 C194.2,753.8 196.0,756.2 197.6,758.5 C199.2,760.9 200.6,763.4 201.6,765.9 C202.6,768.4 203.5,771.1 203.6,773.3 C203.7,775.5 203.2,777.7 202.3,779.3 C201.4,780.9 200.0,782.1 198.3,783.0 C196.5,783.9 193.9,784.3 191.5,784.7 C189.2,785.2 186.3,785.3 184.2,785.6 C182.0,786.0 180.1,785.9 178.8,786.7 C177.4,787.6 176.8,789.3 176.1,790.8 C175.4,792.2 175.4,794.4 174.8,795.5 C174.1,796.5 173.1,797.1 172.1,797.2 C171.1,797.3 170.2,796.6 168.7,795.9 C167.3,795.1 165.5,793.8 163.3,792.8 C161.2,791.7 158.5,790.4 155.9,789.4 C153.4,788.4 150.6,787.5 147.9,786.7 C145.2,785.9 142.5,785.3 139.8,784.7 C137.1,784.1 134.2,783.9 131.8,783.4 C129.3,782.8 126.6,782.0 125.1,781.4 C123.5,780.7 123.1,780.2 122.6,779.3 C122.2,778.4 122.2,777.8 122.4,776.0Z"/></clipPath>
<clipPath id="bc26"><path d="M21.4,855.7 C21.3,853.9 21.9,850.3 22.7,847.6 C23.5,844.9 24.7,842.2 26.1,839.5 C27.4,836.9 29.1,834.1 30.8,831.5 C32.5,828.9 34.1,826.2 36.1,824.1 C38.2,822.0 40.6,820.1 42.9,818.7 C45.1,817.4 46.7,816.6 49.6,816.0 C52.5,815.5 57.0,815.4 60.3,815.6 C63.7,815.9 66.6,816.5 69.7,817.4 C72.9,818.2 76.2,819.4 79.1,820.7 C82.0,822.1 84.7,823.7 87.2,825.4 C89.6,827.2 92.0,829.1 93.9,831.5 C95.8,833.8 97.4,836.9 98.6,839.5 C99.8,842.2 100.9,844.9 101.3,847.6 C101.6,850.3 101.4,853.4 100.6,855.7 C99.8,857.9 98.6,859.7 96.6,861.0 C94.6,862.3 91.2,862.9 88.5,863.5 C85.8,864.0 82.5,864.0 80.5,864.4 C78.5,864.8 77.3,865.0 76.4,865.7 C75.5,866.5 75.4,867.9 75.1,869.1 C74.8,870.3 75.0,872.3 74.4,873.1 C73.9,874.0 72.7,874.3 71.7,874.2 C70.7,874.1 69.8,873.3 68.4,872.5 C66.9,871.6 65.0,870.1 63.0,869.1 C61.0,868.1 58.8,867.3 56.3,866.4 C53.8,865.5 51.1,864.5 48.2,863.7 C45.3,862.9 42.0,862.3 38.8,861.7 C35.7,861.1 32.0,860.9 29.4,860.4 C26.9,859.8 24.7,859.1 23.4,858.4 C22.0,857.6 21.5,857.5 21.4,855.7Z"/></clipPath>
<clipPath id="bc27"><path d="M122.4,851.0 C122.4,849.0 122.5,845.6 123.0,842.9 C123.6,840.2 124.5,837.3 125.7,834.9 C127.0,832.4 128.5,830.2 130.4,828.1 C132.3,826.1 134.7,824.3 137.1,822.8 C139.6,821.2 142.3,820.0 145.2,818.7 C148.1,817.5 151.5,816.2 154.6,815.4 C157.7,814.5 160.9,813.9 164.0,813.6 C167.1,813.3 170.7,813.2 173.4,813.6 C176.1,814.0 178.0,814.9 180.1,816.1 C182.3,817.2 184.3,818.9 186.2,820.8 C188.1,822.7 189.7,825.1 191.5,827.5 C193.3,829.8 195.3,832.3 196.9,834.9 C198.5,837.4 199.9,840.3 200.9,842.9 C201.9,845.5 202.8,848.3 203.0,850.3 C203.1,852.3 202.5,853.7 201.6,855.0 C200.7,856.3 199.4,857.2 197.6,858.0 C195.8,858.7 193.6,859.1 190.9,859.7 C188.2,860.3 184.4,860.9 181.5,861.7 C178.6,862.5 175.9,863.5 173.4,864.4 C170.9,865.3 168.9,866.2 166.7,867.1 C164.5,868.0 162.0,869.1 160.0,869.8 C158.0,870.5 156.1,871.3 154.6,871.4 C153.2,871.4 152.0,870.9 151.2,870.0 C150.5,869.2 150.5,867.8 150.3,866.4 C150.1,865.0 151.4,862.7 149.9,861.7 C148.4,860.8 144.2,861.0 141.2,860.6 C138.2,860.3 134.3,860.2 131.8,859.7 C129.2,859.2 127.2,858.5 125.7,857.7 C124.3,856.9 123.6,856.1 123.0,855.0 C122.5,853.9 122.4,853.0 122.4,851.0Z"/></clipPath>
</defs>
<g clip-path="url(#bc0)">
<path d="M18.7,428.3 C18.6,425.8 19.1,422.7 19.6,420.2 C20.2,417.8 21.0,415.5 22.1,413.5 C23.1,411.5 24.1,410.2 26.1,408.1 C28.1,406.1 31.0,403.4 34.1,401.4 C37.3,399.4 41.1,397.3 44.9,396.1 C48.7,394.8 52.5,394.5 57.0,394.0 C61.5,393.6 68.2,393.0 71.8,393.4 C75.3,393.7 76.0,394.3 78.5,396.1 C80.9,397.8 84.1,401.2 86.5,404.1 C89.0,407.0 91.2,410.4 93.2,413.5 C95.3,416.7 97.4,420.2 98.6,422.9 C99.8,425.6 100.5,427.6 100.6,429.6 C100.7,431.6 100.3,433.6 99.3,435.0 C98.3,436.5 96.7,437.5 94.6,438.4 C92.5,439.3 89.4,439.8 86.5,440.4 C83.6,440.9 80.3,441.3 77.1,441.7 C74.0,442.2 70.9,442.5 67.7,443.1 C64.6,443.6 60.8,444.3 58.3,445.1 C55.9,445.9 54.3,446.9 52.9,447.8 C51.6,448.7 51.4,450.2 50.3,450.5 C49.1,450.7 47.0,450.1 46.2,449.1 C45.5,448.1 45.3,445.6 45.6,444.4 C45.8,443.2 48.4,442.3 47.6,441.7 C46.8,441.2 43.5,441.3 40.9,441.1 C38.2,440.8 34.1,440.7 31.5,440.4 C28.8,440.0 26.6,439.9 24.7,439.0 C22.8,438.1 21.1,436.8 20.0,435.0 C19.0,433.2 18.8,430.8 18.7,428.3Z" fill="#404040"/>
<path d="M16.7,428.3 L18.0,418.9 L20.7,412.2 L26.1,406.8 L34.1,400.1 L44.9,394.7 L48.9,397.4 L47.6,401.4 L45.6,404.1 L40.9,405.5 L36.8,409.5 L32.8,413.5 L28.8,414.2 L24.7,416.9 L22.1,420.9 L21.4,426.9 L22.1,433.7 L26.1,437.0 L32.8,439.0 L32.8,441.7 L24.7,441.1 L18.0,436.4Z" fill="#5aa2d3" stroke="#5aa2d3" stroke-width="1.2" stroke-linejoin="round"/>
<path d="M34.1,406.1 L42.2,404.1 L46.2,405.5 L44.2,410.2 L38.8,413.5 L35.5,412.2Z" fill="#93c6e1" stroke="#93c6e1" stroke-width="1.2" stroke-linejoin="round"/>
<path d="M22.1,422.2 L26.8,420.9 L28.1,426.9 L24.7,432.3 L22.1,429.6Z" fill="#93c6e1" stroke="#93c6e1" stroke-width="1.2" stroke-linejoin="round"/>
<path d="M28.8,431.0 L34.1,429.0 L36.8,434.3 L44.2,435.7 L42.9,439.7 L32.8,439.7 L28.1,436.4Z" fill="#93c6e1" stroke="#93c6e1" stroke-width="1.2" stroke-linejoin="round"/>
<path d="M48.9,441.1 L54.3,435.7 L65.0,433.0 L74.4,433.7 L70.4,439.0 L65.0,441.7 L58.3,443.7 L53.6,445.8 L49.6,444.4Z" fill="#93c6e1" stroke="#93c6e1" stroke-width="1.2" stroke-linejoin="round"/>
<path d="M65.0,409.5 L67.7,405.5 L71.8,400.1 L77.8,398.7 L81.8,400.8 L83.2,405.5 L79.1,407.5 L75.8,404.8 L73.1,406.1 L71.8,410.2 L67.1,410.8Z" fill="#f3a886" stroke="#f3a886" stroke-width="1.2" stroke-linejoin="round"/>
<path d="M73.1,415.5 L77.1,413.5 L81.8,411.5 L85.9,413.5 L87.2,417.5 L83.8,420.9 L78.5,421.6 L74.4,422.2 L73.1,418.9Z" fill="#5aa2d3" stroke="#5aa2d3" stroke-width="1.2" stroke-linejoin="round"/>
<path d="M89.9,412.8 L94.6,416.9 L100.0,423.6 L102.6,431.0 L97.9,435.0 L94.6,434.3 L93.2,428.3 L91.2,422.9 L88.5,418.2Z" fill="#f3a886" stroke="#f3a886" stroke-width="1.2" stroke-linejoin="round"/>
<path d="M79.8,426.9 L85.2,424.9 L89.2,428.3 L91.2,433.7 L93.2,438.4 L94.6,441.7 L86.5,441.7 L78.5,441.1 L77.1,436.4 L79.8,432.3Z" fill="#f3a886" stroke="#f3a886" stroke-width="1.2" stroke-linejoin="round"/>
</g>
<g clip-path="url(#bc1)">
<path d="M118.4,432.3 C118.6,430.4 119.4,426.9 120.4,424.3 C121.4,421.6 123.0,418.7 124.4,416.2 C125.9,413.7 127.4,412.0 129.1,409.5 C130.8,407.0 132.7,403.7 134.5,401.4 C136.3,399.2 137.6,397.4 139.9,396.1 C142.1,394.7 145.0,393.7 147.9,393.4 C150.8,393.0 154.2,393.6 157.3,394.0 C160.5,394.5 163.8,395.4 166.7,396.1 C169.6,396.7 172.1,397.2 174.8,398.1 C177.5,399.0 180.3,400.0 182.8,401.4 C185.4,402.9 188.0,404.6 190.2,406.8 C192.5,409.0 194.6,412.2 196.3,414.9 C197.9,417.5 199.5,420.5 200.3,422.9 C201.1,425.4 201.1,427.4 201.0,429.6 C200.9,431.9 200.6,434.7 199.6,436.4 C198.6,438.0 196.8,438.9 194.9,439.7 C193.0,440.5 190.7,440.7 188.2,441.1 C185.7,441.4 182.2,441.4 180.2,441.7 C178.1,442.1 177.1,442.2 176.1,443.1 C175.1,444.0 174.7,445.8 174.1,447.1 C173.5,448.4 173.5,450.3 172.8,451.1 C172.0,451.9 170.5,452.0 169.4,451.8 C168.3,451.6 167.4,450.6 166.1,449.8 C164.7,449.0 163.5,448.0 161.4,447.1 C159.2,446.2 156.0,445.2 153.3,444.4 C150.6,443.6 147.9,443.1 145.2,442.4 C142.5,441.7 139.9,440.8 137.2,440.4 C134.5,439.9 131.6,440.0 129.1,439.7 C126.7,439.4 124.1,439.0 122.4,438.4 C120.7,437.7 119.7,436.7 119.0,435.7 C118.4,434.7 118.1,434.2 118.4,432.3Z" fill="#404040"/>
<path d="M115.7,432.3 L118.4,422.9 L123.7,414.9 L127.1,412.8 L129.1,420.2 L127.8,425.6 L126.4,431.0 L127.8,435.0 L133.1,434.3 L137.2,436.4 L139.9,439.0 L145.2,443.1 L137.2,441.7 L129.1,441.1 L121.1,439.7 L117.0,436.4Z" fill="#f3a886" stroke="#f3a886" stroke-width="1.2" stroke-linejoin="round"/>
<path d="M133.1,434.3 L139.9,433.7 L143.9,439.0 L149.3,444.4 L145.2,443.1 L138.5,441.7 L134.5,439.7Z" fill="#ea8e6d" stroke="#ea8e6d" stroke-width="1.2" stroke-linejoin="round"/>
<path d="M133.1,412.2 L139.9,410.2 L145.9,410.8 L148.6,412.2 L145.2,414.9 L144.6,421.6 L141.2,424.3 L137.8,421.6 L134.5,417.5Z" fill="#5aa2d3" stroke="#5aa2d3" stroke-width="1.2" stroke-linejoin="round"/>
<path d="M153.3,410.2 L157.3,409.5 L161.4,412.2 L162.7,416.9 L160.7,419.6 L157.3,416.2 L154.0,413.5Z" fill="#f3a886" stroke="#f3a886" stroke-width="1.2" stroke-linejoin="round"/>
<path d="M173.4,397.4 L182.8,400.1 L190.9,405.5 L197.6,414.2 L202.3,422.9 L203.0,429.6 L201.6,437.7 L194.9,441.1 L196.3,433.7 L196.9,428.3 L193.6,421.6 L189.6,416.2 L185.5,416.9 L182.8,413.5 L177.5,412.2 L172.1,406.8 L172.1,402.8Z" fill="#5aa2d3" stroke="#5aa2d3" stroke-width="1.2" stroke-linejoin="round"/>
<path d="M177.5,428.3 L182.8,425.6 L188.2,428.3 L190.9,432.3 L195.6,434.3 L193.6,439.0 L188.2,441.1 L180.2,441.7 L176.1,439.7 L177.5,435.0 L182.8,435.0 L185.5,432.3Z" fill="#93c6e1" stroke="#93c6e1" stroke-width="1.2" stroke-linejoin="round"/>
<path d="M151.3,441.1 L156.0,440.4 L161.4,441.7 L166.7,444.4 L169.4,447.8 L166.7,449.1 L161.4,447.1 L153.3,444.4Z" fill="#93c6e1" stroke="#93c6e1" stroke-width="1.2" stroke-linejoin="round"/>
</g>
<g clip-path="url(#bc2)">
<path d="M19.4,508.7 C19.4,506.9 19.9,503.3 20.7,500.6 C21.5,497.9 22.7,495.0 24.1,492.5 C25.4,490.1 27.1,488.3 28.8,485.8 C30.5,483.4 32.1,480.2 34.1,477.8 C36.2,475.3 38.6,472.7 40.9,471.1 C43.1,469.4 44.9,468.6 47.6,468.1 C50.3,467.6 53.8,467.9 57.0,468.1 C60.1,468.3 63.5,468.6 66.4,469.0 C69.3,469.5 71.8,470.1 74.4,471.1 C77.1,472.1 80.0,473.5 82.5,475.1 C85.0,476.7 87.2,478.4 89.2,480.5 C91.2,482.5 93.0,484.7 94.6,487.2 C96.2,489.6 97.7,492.5 98.6,495.2 C99.5,497.9 100.0,500.8 100.0,503.3 C100.0,505.8 99.5,508.2 98.6,510.0 C97.7,511.8 96.4,513.0 94.6,514.0 C92.8,515.0 90.6,515.6 87.9,516.1 C85.2,516.5 80.7,516.5 78.5,516.7 C76.2,516.9 75.3,516.7 74.4,517.4 C73.5,518.1 73.4,519.5 73.1,520.8 C72.8,522.0 72.9,523.9 72.4,524.8 C72.0,525.7 71.2,526.1 70.4,526.1 C69.6,526.1 68.6,525.5 67.7,524.8 C66.8,524.1 66.6,523.0 65.0,522.1 C63.5,521.2 60.6,520.2 58.3,519.4 C56.1,518.6 54.1,518.1 51.6,517.4 C49.1,516.7 46.5,515.9 43.5,515.4 C40.6,514.8 37.3,514.5 34.1,514.0 C31.0,513.6 27.0,513.1 24.7,512.7 C22.5,512.2 21.6,512.0 20.7,511.4 C19.8,510.7 19.4,510.5 19.4,508.7Z" fill="#404040"/>
<path d="M17.4,508.7 L18.7,500.6 L22.1,491.2 L27.4,485.8 L29.4,489.9 L28.1,495.2 L25.4,499.3 L24.1,503.3 L27.4,507.3 L34.1,508.7 L40.9,509.3 L45.6,510.7 L46.9,516.7 L43.5,516.7 L34.1,515.4 L24.7,514.0 L18.7,512.0Z" fill="#f3a886" stroke="#f3a886" stroke-width="1.2" stroke-linejoin="round"/>
<path d="M34.1,481.1 L39.5,479.8 L42.9,479.1 L46.2,481.8 L51.6,485.2 L58.3,485.6 L64.4,485.8 L62.4,487.8 L54.3,487.8 L48.9,489.9 L45.6,493.9 L44.2,497.9 L41.5,497.2 L38.2,493.9 L35.5,489.9Z" fill="#5aa2d3" stroke="#5aa2d3" stroke-width="1.2" stroke-linejoin="round"/>
<path d="M70.4,469.7 L75.8,469.7 L83.8,473.7 L90.6,479.1 L96.6,486.5 L100.6,495.2 L102.0,503.3 L100.6,511.4 L94.6,516.1 L87.9,518.1 L78.5,518.1 L74.4,515.4 L73.8,512.7 L78.5,508.7 L85.2,506.0 L89.2,497.9 L91.9,493.9 L91.2,488.5 L89.2,484.5 L85.2,479.1 L78.5,477.1 L73.8,476.4Z" fill="#5aa2d3" stroke="#5aa2d3" stroke-width="1.2" stroke-linejoin="round"/>
<path d="M73.1,513.4 L78.5,509.3 L85.2,507.3 L89.2,501.9 L91.2,495.2 L94.6,498.6 L96.6,506.0 L93.2,511.4 L86.5,514.7 L78.5,516.1Z" fill="#93c6e1" stroke="#93c6e1" stroke-width="1.2" stroke-linejoin="round"/>
</g>
<g clip-path="url(#bc3)">
<path d="M119.0,506.0 C119.2,503.7 119.6,499.5 120.4,496.6 C121.2,493.7 122.3,491.0 123.7,488.5 C125.2,486.1 127.1,483.7 129.1,481.8 C131.1,479.9 133.4,478.6 135.8,477.1 C138.3,475.6 141.0,474.2 143.9,473.1 C146.8,472.0 150.2,471.1 153.3,470.4 C156.4,469.7 159.8,469.4 162.7,469.0 C165.6,468.7 168.3,468.1 170.8,468.4 C173.2,468.6 175.2,469.3 177.5,470.4 C179.7,471.5 182.2,473.2 184.2,475.1 C186.2,477.0 187.8,479.6 189.6,481.8 C191.3,484.0 193.2,486.1 194.9,488.5 C196.6,491.0 198.5,494.1 199.6,496.6 C200.7,499.0 201.5,501.1 201.6,503.3 C201.8,505.5 201.2,508.4 200.3,510.0 C199.4,511.6 198.3,511.9 196.3,512.7 C194.3,513.5 191.3,514.0 188.2,514.7 C185.1,515.4 181.0,515.9 177.5,516.7 C173.9,517.5 169.9,518.5 166.7,519.4 C163.6,520.3 160.9,521.2 158.7,522.1 C156.4,523.0 154.9,524.1 153.3,524.8 C151.7,525.5 150.4,526.3 149.3,526.1 C148.1,525.9 147.1,524.6 146.6,523.4 C146.0,522.3 146.1,520.5 145.9,519.4 C145.7,518.3 146.7,517.2 145.2,516.7 C143.8,516.3 139.9,516.8 137.2,516.7 C134.5,516.6 131.6,516.6 129.1,516.1 C126.7,515.5 124.0,514.4 122.4,513.4 C120.8,512.4 120.3,511.2 119.7,510.0 C119.2,508.8 118.9,508.2 119.0,506.0Z" fill="#404040"/>
<path d="M117.0,506.0 L118.4,495.2 L122.4,487.2 L127.8,480.5 L135.8,475.8 L143.9,471.7 L146.6,473.7 L145.2,477.8 L142.5,480.5 L137.2,483.1 L133.1,486.5 L131.8,491.2 L134.5,495.2 L135.2,500.6 L136.5,506.0 L141.2,510.0 L145.2,512.7 L145.9,518.1 L137.2,518.1 L129.1,517.4 L121.1,514.7 L117.7,510.7Z" fill="#5aa2d3" stroke="#5aa2d3" stroke-width="1.2" stroke-linejoin="round"/>
<path d="M121.1,503.3 L125.1,496.6 L130.5,495.2 L135.2,500.6 L138.5,507.3 L143.2,511.4 L145.2,516.1 L137.2,516.7 L127.8,515.4 L121.7,511.4Z" fill="#93c6e1" stroke="#93c6e1" stroke-width="1.2" stroke-linejoin="round"/>
<path d="M157.3,487.8 L164.0,486.5 L172.1,485.2 L176.1,481.8 L182.8,478.4 L186.2,480.5 L186.9,486.5 L184.2,491.9 L180.2,495.2 L176.1,497.9 L174.1,495.2 L172.1,492.5 L166.7,491.9 L158.7,491.2Z" fill="#5aa2d3" stroke="#5aa2d3" stroke-width="1.2" stroke-linejoin="round"/>
<path d="M157.3,487.8 L164.0,486.5 L169.4,487.2 L173.4,489.9 L174.8,495.2 L169.4,492.5 L162.7,491.2 L158.0,490.5Z" fill="#93c6e1" stroke="#93c6e1" stroke-width="1.2" stroke-linejoin="round"/>
<path d="M189.6,483.1 L196.3,488.5 L201.6,496.6 L203.7,503.3 L199.0,504.6 L196.3,499.3 L193.6,493.9 L190.9,488.5Z" fill="#f3a886" stroke="#f3a886" stroke-width="1.2" stroke-linejoin="round"/>
<path d="M176.1,511.4 L182.8,508.0 L189.6,507.3 L193.6,509.3 L196.3,514.0 L188.2,516.1 L177.5,518.1 L166.7,520.8 L162.7,521.4 L169.4,516.1Z" fill="#f3a886" stroke="#f3a886" stroke-width="1.2" stroke-linejoin="round"/>
</g>
<g clip-path="url(#bc4)">
<path d="M243.4,429.3 C243.4,426.6 243.4,423.9 244.0,421.2 C244.7,418.5 245.9,415.6 247.4,413.2 C248.9,410.7 250.5,408.5 252.8,406.5 C255.0,404.4 257.9,402.7 260.8,401.1 C263.7,399.5 266.9,398.0 270.2,397.1 C273.6,396.1 276.9,395.8 281.0,395.4 C285.0,395.1 291.1,394.9 294.4,395.0 C297.8,395.2 298.9,395.4 301.1,396.4 C303.4,397.4 305.8,399.2 307.8,401.1 C309.9,403.0 311.4,405.6 313.2,407.8 C315.0,410.0 317.0,412.1 318.6,414.5 C320.2,417.0 321.6,419.9 322.6,422.6 C323.6,425.3 324.4,428.4 324.6,430.6 C324.9,432.9 324.7,434.4 324.0,436.0 C323.2,437.6 321.7,439.0 319.9,440.0 C318.1,441.0 315.7,441.6 313.2,442.1 C310.7,442.5 307.8,442.4 305.2,442.7 C302.5,443.1 299.8,443.6 297.1,444.1 C294.4,444.5 291.7,444.7 289.0,445.4 C286.4,446.1 282.8,447.0 281.0,448.1 C279.2,449.2 279.4,451.2 278.3,452.1 C277.2,453.0 275.5,453.5 274.3,453.5 C273.0,453.5 271.6,453.0 270.9,452.1 C270.2,451.2 270.2,449.2 270.2,448.1 C270.2,447.0 271.1,446.1 270.9,445.4 C270.7,444.7 270.6,444.5 268.9,444.1 C267.2,443.6 263.5,443.1 260.8,442.7 C258.1,442.4 255.0,442.4 252.8,442.1 C250.5,441.7 248.9,441.5 247.4,440.7 C245.9,439.9 244.7,439.3 244.0,437.4 C243.4,435.4 243.4,432.0 243.4,429.3Z" fill="#404040"/>
<path d="M241.4,429.3 L242.0,419.9 L246.1,411.8 L251.4,405.1 L260.8,399.7 L270.2,396.4 L268.9,402.4 L267.5,406.5 L263.5,408.5 L258.1,412.5 L252.8,415.9 L248.7,418.5 L246.1,422.6 L245.4,429.3Z" fill="#2461a9" stroke="#2461a9" stroke-width="1.2" stroke-linejoin="round"/>
<path d="M260.8,406.5 L267.5,405.1 L271.6,407.8 L274.3,410.5 L275.6,415.9 L274.3,421.2 L270.2,423.9 L264.9,426.6 L260.8,425.3 L258.1,421.2 L258.1,415.9Z" fill="#5aa2d3" stroke="#5aa2d3" stroke-width="1.2" stroke-linejoin="round"/>
<path d="M259.5,417.9 L264.9,415.9 L270.2,416.5 L273.6,419.2 L271.6,423.9 L265.5,426.6 L260.8,425.3Z" fill="#93c6e1" stroke="#93c6e1" stroke-width="1.2" stroke-linejoin="round"/>
<path d="M241.4,429.3 L245.4,429.3 L246.1,434.7 L248.7,438.7 L254.1,440.7 L264.9,440.7 L269.6,442.1 L269.6,444.7 L260.8,444.1 L252.8,443.4 L246.1,442.1 L242.7,438.0Z" fill="#5aa2d3" stroke="#5aa2d3" stroke-width="1.2" stroke-linejoin="round"/>
<path d="M247.4,433.3 L252.8,431.3 L258.1,432.0 L263.5,433.3 L267.5,437.4 L266.2,440.7 L258.1,440.7 L251.4,439.4 L248.1,436.7Z" fill="#93c6e1" stroke="#93c6e1" stroke-width="1.2" stroke-linejoin="round"/>
<path d="M274.3,444.1 L279.6,440.0 L286.4,438.0 L293.1,436.7 L299.8,437.4 L297.8,442.1 L291.7,445.4 L285.0,448.1 L281.0,450.8 L276.9,448.8Z" fill="#93c6e1" stroke="#93c6e1" stroke-width="1.2" stroke-linejoin="round"/>
<path d="M286.4,438.0 L293.1,436.7 L299.8,437.4 L298.4,441.4 L293.1,443.4 L289.0,441.4Z" fill="#5aa2d3" stroke="#5aa2d3" stroke-width="1.2" stroke-linejoin="round"/>
<path d="M299.1,413.8 L305.2,413.8 L305.8,419.2 L303.8,425.3 L300.5,425.9 L299.1,421.2Z" fill="#93c6e1" stroke="#93c6e1" stroke-width="1.2" stroke-linejoin="round"/>
<path d="M304.5,414.5 L309.2,413.2 L312.5,415.9 L311.9,421.2 L307.8,423.2 L304.5,422.6 L303.8,418.5Z" fill="#2461a9" stroke="#2461a9" stroke-width="1.2" stroke-linejoin="round"/>
<path d="M314.6,413.2 L319.9,416.5 L324.0,422.6 L326.6,430.6 L326.0,437.4 L319.9,442.1 L313.2,443.4 L305.2,444.1 L301.1,444.7 L305.2,438.7 L306.5,432.0 L310.5,429.3 L313.2,425.3 L313.9,419.9Z" fill="#dd6d54" stroke="#dd6d54" stroke-width="1.2" stroke-linejoin="round"/>
<path d="M305.2,433.3 L311.2,429.3 L315.9,430.6 L317.2,436.0 L313.2,441.4 L305.2,442.7 L301.1,443.4 L303.8,438.7Z" fill="#f3a886" stroke="#f3a886" stroke-width="1.2" stroke-linejoin="round"/>
</g>
<g clip-path="url(#bc5)">
<path d="M342.4,433.3 C342.5,431.3 342.8,427.9 343.7,425.3 C344.6,422.6 346.2,419.7 347.7,417.2 C349.3,414.7 351.1,413.0 353.1,410.5 C355.1,408.0 357.6,404.7 359.8,402.4 C362.1,400.2 364.3,398.3 366.5,397.1 C368.8,395.8 370.6,395.4 373.3,395.0 C375.9,394.7 379.5,394.8 382.7,395.0 C385.8,395.3 389.2,395.8 392.1,396.4 C395.0,396.9 397.4,397.5 400.1,398.4 C402.8,399.3 405.7,400.4 408.2,401.8 C410.6,403.1 412.9,404.6 414.9,406.5 C416.9,408.4 418.7,410.7 420.3,413.2 C421.8,415.6 423.4,418.5 424.3,421.2 C425.2,423.9 425.6,426.8 425.6,429.3 C425.6,431.8 425.2,434.2 424.3,436.0 C423.4,437.8 422.1,439.0 420.3,440.0 C418.5,441.0 416.0,441.6 413.6,442.1 C411.1,442.5 407.7,442.4 405.5,442.7 C403.3,443.1 401.4,443.2 400.1,444.1 C398.9,445.0 398.7,446.8 398.1,448.1 C397.5,449.4 397.5,451.3 396.8,452.1 C396.0,453.0 394.5,453.3 393.4,453.2 C392.3,453.1 391.4,452.2 390.1,451.5 C388.7,450.7 387.5,449.7 385.4,448.8 C383.2,447.9 380.0,446.9 377.3,446.1 C374.6,445.3 371.9,444.7 369.2,444.1 C366.5,443.4 363.9,442.5 361.2,442.1 C358.5,441.6 355.6,441.7 353.1,441.4 C350.7,441.0 348.1,440.7 346.4,440.0 C344.7,439.4 343.7,438.5 343.0,437.4 C342.4,436.2 342.3,435.3 342.4,433.3Z" fill="#404040"/>
<path d="M340.4,433.3 L341.7,423.9 L346.4,415.9 L351.8,413.8 L354.5,418.5 L353.1,423.9 L355.8,427.9 L359.8,429.3 L363.9,433.3 L365.2,436.0 L359.8,437.4 L355.8,437.4 L350.4,434.7 L350.4,441.4 L345.1,441.4 L341.0,438.0Z" fill="#dd6d54" stroke="#dd6d54" stroke-width="1.2" stroke-linejoin="round"/>
<path d="M353.1,425.3 L358.5,424.6 L363.9,427.9 L365.9,434.7 L362.5,436.7 L357.1,436.0 L353.1,432.0Z" fill="#f3a886" stroke="#f3a886" stroke-width="1.2" stroke-linejoin="round"/>
<path d="M350.4,440.0 L354.5,440.7 L359.8,437.4 L365.2,436.7 L367.9,440.7 L369.9,445.4 L361.2,443.4 L351.8,442.7Z" fill="#c8323a" stroke="#c8323a" stroke-width="1.2" stroke-linejoin="round"/>
<path d="M355.8,415.2 L361.2,412.5 L366.5,413.2 L371.2,413.8 L368.6,415.9 L369.2,421.2 L366.5,425.3 L363.2,426.6 L359.8,422.6 L357.1,419.2Z" fill="#5aa2d3" stroke="#5aa2d3" stroke-width="1.2" stroke-linejoin="round"/>
<path d="M353.8,409.1 L357.1,405.1 L358.5,410.5 L355.8,413.2Z" fill="#93c6e1" stroke="#93c6e1" stroke-width="1.2" stroke-linejoin="round"/>
<path d="M369.2,436.7 L374.6,436.0 L380.0,439.4 L385.4,440.7 L389.4,445.4 L386.7,450.8 L381.3,448.1 L374.6,445.4 L370.6,442.1Z" fill="#93c6e1" stroke="#93c6e1" stroke-width="1.2" stroke-linejoin="round"/>
<path d="M375.9,442.7 L382.7,442.1 L388.0,445.4 L388.0,450.8 L382.7,448.1Z" fill="#5aa2d3" stroke="#5aa2d3" stroke-width="1.2" stroke-linejoin="round"/>
<path d="M396.1,407.8 L401.5,403.1 L406.8,401.8 L412.2,404.4 L417.6,409.1 L421.6,415.9 L423.6,422.6 L420.3,423.9 L416.2,419.9 L412.2,418.5 L409.5,415.9 L404.2,414.5 L398.8,413.2Z" fill="#5aa2d3" stroke="#5aa2d3" stroke-width="1.2" stroke-linejoin="round"/>
<path d="M406.8,400.4 L416.2,405.1 L422.3,412.5 L426.3,421.2 L427.7,429.3 L423.6,429.3 L421.6,423.9 L418.9,418.5 L416.2,413.2 L412.2,409.1 L409.5,405.1Z" fill="#2461a9" stroke="#2461a9" stroke-width="1.2" stroke-linejoin="round"/>
<path d="M400.1,398.4 L406.8,400.4 L409.5,403.8 L406.8,406.5 L401.5,405.1Z" fill="#93c6e1" stroke="#93c6e1" stroke-width="1.2" stroke-linejoin="round"/>
<path d="M410.9,434.7 L417.6,433.3 L418.9,426.6 L423.0,425.3 L427.7,429.3 L426.3,437.4 L420.3,442.1 L413.6,443.4 L410.2,440.0Z" fill="#93c6e1" stroke="#93c6e1" stroke-width="1.2" stroke-linejoin="round"/>
</g>
<g clip-path="url(#bc6)">
<path d="M242.7,507.3 C242.7,505.3 243.3,501.9 244.0,499.3 C244.8,496.6 245.9,493.7 247.4,491.2 C248.9,488.7 251.0,486.7 252.8,484.5 C254.6,482.3 255.9,480.0 258.1,477.8 C260.4,475.5 263.7,472.5 266.2,471.1 C268.7,469.6 270.2,469.4 272.9,469.0 C275.6,468.6 279.2,468.4 282.3,468.6 C285.5,468.9 288.8,469.6 291.7,470.4 C294.6,471.1 297.1,472.0 299.8,473.1 C302.5,474.2 305.4,475.4 307.8,477.1 C310.3,478.8 312.5,480.8 314.6,483.1 C316.6,485.5 318.4,488.5 319.9,491.2 C321.5,493.9 323.2,496.8 324.0,499.3 C324.7,501.7 324.9,504.0 324.6,506.0 C324.4,508.0 323.6,509.9 322.6,511.4 C321.6,512.8 320.4,513.9 318.6,514.7 C316.8,515.5 314.6,515.8 311.9,516.1 C309.2,516.3 304.7,515.9 302.5,516.1 C300.2,516.2 299.3,515.9 298.4,516.7 C297.5,517.5 297.4,519.4 297.1,520.8 C296.8,522.1 296.9,523.9 296.4,524.8 C296.0,525.7 295.3,526.1 294.4,526.1 C293.5,526.1 292.2,525.5 291.1,524.8 C289.9,524.1 289.4,522.9 287.7,522.1 C286.0,521.3 283.2,520.8 281.0,520.1 C278.7,519.4 276.9,518.7 274.3,518.1 C271.6,517.4 268.0,516.6 264.9,516.1 C261.7,515.5 258.4,515.2 255.5,514.7 C252.5,514.3 249.3,513.9 247.4,513.4 C245.5,512.8 244.8,512.4 244.0,511.4 C243.3,510.3 242.7,509.3 242.7,507.3Z" fill="#404040"/>
<path d="M240.7,507.3 L242.0,497.9 L246.1,489.9 L251.4,487.2 L254.1,492.5 L258.1,496.6 L263.5,499.3 L268.9,501.9 L270.2,507.3 L271.6,512.7 L272.2,518.1 L264.9,517.4 L255.5,516.1 L246.1,514.7 L242.0,512.0Z" fill="#dd6d54" stroke="#dd6d54" stroke-width="1.2" stroke-linejoin="round"/>
<path d="M248.7,495.2 L254.1,493.9 L260.8,497.9 L267.5,503.3 L270.2,508.7 L269.6,514.7 L262.2,514.0 L254.1,512.7 L248.7,510.0 L246.1,504.6Z" fill="#c8323a" stroke="#c8323a" stroke-width="1.2" stroke-linejoin="round"/>
<path d="M270.2,516.7 L272.9,516.7 L276.9,519.4 L281.0,521.0 L274.3,519.1Z" fill="#f3a886" stroke="#f3a886" stroke-width="1.2" stroke-linejoin="round"/>
<path d="M256.8,477.8 L260.8,474.4 L266.2,472.4 L267.5,476.4 L266.2,480.5 L260.8,481.8 L257.5,481.1Z" fill="#93c6e1" stroke="#93c6e1" stroke-width="1.2" stroke-linejoin="round"/>
<path d="M256.8,481.8 L264.9,480.5 L270.2,482.5 L275.6,485.8 L281.0,487.2 L286.4,486.5 L287.0,489.2 L281.0,491.2 L274.3,493.2 L270.2,496.6 L264.9,498.6 L260.8,496.6 L258.1,491.2Z" fill="#2461a9" stroke="#2461a9" stroke-width="1.2" stroke-linejoin="round"/>
<path d="M267.5,495.2 L271.6,491.2 L278.3,489.2 L285.0,488.5 L287.7,489.9 L282.3,491.9 L275.6,493.2 L270.2,497.2Z" fill="#93c6e1" stroke="#93c6e1" stroke-width="1.2" stroke-linejoin="round"/>
<path d="M294.4,471.1 L301.1,471.7 L309.2,475.8 L315.9,481.8 L321.9,490.5 L326.0,499.3 L326.6,506.0 L319.9,506.0 L317.2,497.9 L313.2,489.9 L307.8,483.1 L302.5,479.1 L297.1,476.4Z" fill="#2461a9" stroke="#2461a9" stroke-width="1.2" stroke-linejoin="round"/>
<path d="M297.1,514.0 L302.5,508.7 L309.2,501.9 L313.2,493.9 L317.2,497.9 L319.9,506.0 L326.6,506.0 L324.6,512.7 L318.6,516.7 L311.9,518.1 L302.5,517.4Z" fill="#93c6e1" stroke="#93c6e1" stroke-width="1.2" stroke-linejoin="round"/>
</g>
<g clip-path="url(#bc7)">
<path d="M343.7,506.0 C343.8,504.1 343.7,500.6 344.4,497.9 C345.1,495.2 346.3,492.3 347.7,489.9 C349.2,487.4 351.1,485.2 353.1,483.1 C355.1,481.1 357.4,479.3 359.8,477.8 C362.3,476.2 365.0,474.9 367.9,473.7 C370.8,472.6 374.2,471.8 377.3,471.1 C380.4,470.3 383.6,469.8 386.7,469.4 C389.8,469.1 393.4,468.7 396.1,469.0 C398.8,469.4 400.6,470.5 402.8,471.7 C405.0,473.0 407.5,474.5 409.5,476.4 C411.5,478.3 413.1,480.7 414.9,483.1 C416.7,485.6 418.7,488.5 420.3,491.2 C421.8,493.9 423.4,496.8 424.3,499.3 C425.2,501.7 425.8,504.0 425.6,506.0 C425.5,508.0 424.7,510.0 423.6,511.4 C422.5,512.7 421.1,513.4 418.9,514.0 C416.8,514.7 413.8,514.8 410.9,515.4 C408.0,515.9 404.4,516.7 401.5,517.4 C398.6,518.1 395.9,518.6 393.4,519.4 C390.9,520.2 388.9,521.2 386.7,522.1 C384.5,523.0 382.0,524.1 380.0,524.8 C378.0,525.5 376.1,526.2 374.6,526.1 C373.2,526.0 372.0,525.2 371.2,524.1 C370.5,523.0 370.2,520.8 369.9,519.4 C369.6,518.1 370.9,516.6 369.2,516.1 C367.6,515.5 362.7,516.3 359.8,516.1 C356.9,515.8 354.0,515.3 351.8,514.7 C349.5,514.1 347.7,513.6 346.4,512.7 C345.1,511.8 344.4,510.5 344.0,509.3 C343.5,508.2 343.6,507.9 343.7,506.0Z" fill="#404040"/>
<path d="M341.7,506.0 L342.4,496.6 L346.4,488.5 L353.1,482.5 L355.8,485.2 L354.5,489.9 L351.8,495.2 L350.4,500.6 L349.1,506.0Z" fill="#2461a9" stroke="#2461a9" stroke-width="1.2" stroke-linejoin="round"/>
<path d="M351.8,481.8 L359.8,476.4 L367.9,472.4 L369.9,476.4 L367.9,480.5 L362.5,483.1 L357.1,485.8 L355.1,484.5Z" fill="#5aa2d3" stroke="#5aa2d3" stroke-width="1.2" stroke-linejoin="round"/>
<path d="M355.8,485.2 L361.2,483.1 L366.5,481.1 L363.9,484.5 L358.5,486.5Z" fill="#93c6e1" stroke="#93c6e1" stroke-width="1.2" stroke-linejoin="round"/>
<path d="M349.1,506.0 L350.4,500.6 L353.1,495.2 L357.1,496.6 L358.5,501.9 L361.2,506.0 L358.5,508.7 L351.8,508.7Z" fill="#5aa2d3" stroke="#5aa2d3" stroke-width="1.2" stroke-linejoin="round"/>
<path d="M341.7,507.3 L350.4,507.3 L358.5,508.7 L363.9,510.0 L369.2,514.0 L369.9,518.1 L359.8,518.1 L351.8,516.7 L345.1,514.7Z" fill="#93c6e1" stroke="#93c6e1" stroke-width="1.2" stroke-linejoin="round"/>
<path d="M381.3,487.2 L386.7,486.5 L393.4,487.8 L397.4,490.5 L399.5,495.2 L394.8,493.2 L388.0,491.2 L382.0,490.5Z" fill="#93c6e1" stroke="#93c6e1" stroke-width="1.2" stroke-linejoin="round"/>
<path d="M393.4,485.8 L400.1,483.1 L405.5,480.5 L408.2,479.1 L410.9,481.8 L410.2,485.8 L406.8,489.9 L402.8,493.9 L400.1,496.6 L397.4,492.5Z" fill="#5aa2d3" stroke="#5aa2d3" stroke-width="1.2" stroke-linejoin="round"/>
<path d="M400.1,484.5 L405.5,483.1 L409.5,484.5 L406.8,489.9 L402.8,493.2 L400.1,491.2Z" fill="#2461a9" stroke="#2461a9" stroke-width="1.2" stroke-linejoin="round"/>
<path d="M401.5,506.0 L406.8,497.9 L410.9,492.5 L413.6,485.8 L418.9,489.2 L423.6,496.6 L427.0,504.6 L425.0,512.7 L418.9,516.1 L410.9,516.7 L401.5,518.7 L398.8,512.7Z" fill="#c8323a" stroke="#c8323a" stroke-width="1.2" stroke-linejoin="round"/>
<path d="M417.6,489.2 L423.6,496.6 L427.7,504.6 L425.6,512.7 L418.9,516.1 L416.2,508.7 L417.6,500.6Z" fill="#dd6d54" stroke="#dd6d54" stroke-width="1.2" stroke-linejoin="round"/>
<path d="M386.7,522.8 L392.1,515.4 L397.4,511.4 L401.5,512.7 L402.8,518.1 L393.4,520.8Z" fill="#f3a886" stroke="#f3a886" stroke-width="1.2" stroke-linejoin="round"/>
</g>
<g clip-path="url(#bc8)">
<path d="M479.7,432.3 C479.7,430.1 479.7,426.9 480.4,424.2 C481.0,421.5 482.2,418.6 483.7,416.2 C485.3,413.7 487.4,411.5 489.8,409.5 C492.1,407.4 494.9,405.8 497.8,404.1 C500.7,402.4 503.9,400.5 507.2,399.4 C510.6,398.3 513.9,397.8 518.0,397.4 C522.0,396.9 528.1,396.5 531.4,396.7 C534.8,396.9 535.9,397.5 538.1,398.7 C540.4,399.9 542.8,402.1 544.8,404.1 C546.9,406.1 548.4,408.6 550.2,410.8 C552.0,413.0 554.0,415.1 555.6,417.5 C557.2,420.0 558.6,422.9 559.6,425.6 C560.6,428.3 561.5,431.5 561.6,433.6 C561.7,435.8 561.3,437.1 560.3,438.3 C559.3,439.6 557.5,440.2 555.6,441.0 C553.7,441.8 551.3,442.5 548.9,443.0 C546.4,443.6 543.5,443.9 540.8,444.4 C538.1,444.8 535.4,445.2 532.8,445.7 C530.1,446.3 527.2,447.0 524.7,447.7 C522.2,448.5 519.5,449.4 518.0,450.4 C516.4,451.4 516.4,453.0 515.3,453.8 C514.2,454.6 512.5,455.1 511.3,455.1 C510.0,455.1 508.6,454.7 507.9,453.8 C507.2,452.9 507.1,450.9 507.2,449.8 C507.3,448.6 509.5,447.8 508.6,447.1 C507.7,446.3 504.5,445.6 501.9,445.1 C499.2,444.5 495.4,444.3 492.5,443.7 C489.5,443.1 486.4,442.7 484.4,441.7 C482.4,440.7 481.4,439.2 480.6,437.7 C479.9,436.1 479.7,434.5 479.7,432.3Z" fill="#404040"/>
<path d="M477.7,432.3 L478.4,422.9 L482.4,414.8 L488.4,408.1 L497.8,402.7 L507.2,398.7 L511.3,400.7 L509.9,405.4 L507.2,410.8 L503.2,413.5 L499.2,414.8 L495.1,414.8 L491.1,416.2 L487.1,417.5 L484.4,421.5 L482.4,426.9 L482.4,432.3 L483.1,439.0 L479.0,438.3Z" fill="#5aa2d3" stroke="#5aa2d3" stroke-width="1.2" stroke-linejoin="round"/>
<path d="M503.2,402.7 L508.6,400.1 L512.6,400.1 L511.3,405.4 L507.2,406.8 L503.9,406.1Z" fill="#93c6e1" stroke="#93c6e1" stroke-width="1.2" stroke-linejoin="round"/>
<path d="M503.2,410.1 L508.6,408.1 L511.9,410.8 L511.3,414.8 L507.2,416.8 L503.9,415.5Z" fill="#93c6e1" stroke="#93c6e1" stroke-width="1.2" stroke-linejoin="round"/>
<path d="M540.8,414.8 L544.8,412.8 L548.2,415.5 L548.2,420.2 L544.8,422.9 L540.8,423.6 L540.1,418.9Z" fill="#5aa2d3" stroke="#5aa2d3" stroke-width="1.2" stroke-linejoin="round"/>
<path d="M550.2,413.5 L556.9,418.2 L561.6,425.6 L563.6,433.6 L562.3,439.7 L555.6,443.0 L550.2,443.7 L544.8,444.4 L538.1,445.7 L531.4,447.1 L528.7,441.7 L535.4,436.3 L542.2,433.6 L543.5,429.6 L547.5,426.9 L550.2,424.2 L550.2,420.2Z" fill="#f3a886" stroke="#f3a886" stroke-width="1.2" stroke-linejoin="round"/>
<path d="M514.6,428.3 L519.3,426.2 L524.7,424.9 L528.7,426.2 L527.4,430.9 L523.4,433.6 L519.3,435.0 L518.0,432.3 L515.3,432.3Z" fill="#f3a886" stroke="#f3a886" stroke-width="1.2" stroke-linejoin="round"/>
<path d="M509.9,444.4 L515.3,439.0 L520.7,436.3 L528.7,435.0 L535.4,436.3 L530.1,441.7 L526.0,445.7 L520.7,448.4 L516.6,451.1 L511.3,448.4Z" fill="#93c6e1" stroke="#93c6e1" stroke-width="1.2" stroke-linejoin="round"/>
</g>
<g clip-path="url(#bc9)">
<path d="M578.7,436.3 C578.8,434.5 579.1,430.9 580.0,428.3 C580.9,425.6 582.6,422.7 584.1,420.2 C585.5,417.7 586.9,416.0 588.8,413.5 C590.7,411.0 593.3,407.8 595.5,405.4 C597.7,403.1 600.0,400.8 602.2,399.4 C604.4,398.0 606.2,397.4 608.9,397.1 C611.6,396.8 615.2,397.1 618.3,397.4 C621.5,397.6 624.8,398.2 627.7,398.7 C630.6,399.3 633.1,399.8 635.8,400.7 C638.5,401.6 641.4,402.6 643.8,404.1 C646.3,405.5 648.5,407.4 650.6,409.5 C652.6,411.5 654.4,413.7 655.9,416.2 C657.5,418.6 658.9,421.5 660.0,424.2 C661.0,426.9 661.7,429.8 662.0,432.3 C662.2,434.8 662.1,437.3 661.3,439.0 C660.5,440.7 659.3,441.5 657.3,442.4 C655.3,443.3 651.9,443.9 649.2,444.4 C646.5,444.8 643.4,444.7 641.2,445.1 C638.9,445.4 637.0,445.5 635.8,446.4 C634.5,447.3 634.3,449.2 633.8,450.4 C633.2,451.7 633.2,453.0 632.4,453.8 C631.6,454.5 630.2,455.0 629.1,454.9 C627.9,454.7 627.1,453.8 625.7,453.1 C624.4,452.4 623.1,451.3 621.0,450.4 C618.9,449.5 615.6,448.5 612.9,447.7 C610.3,447.0 607.6,446.4 604.9,445.7 C602.2,445.1 599.5,444.3 596.8,443.7 C594.1,443.1 591.2,442.8 588.8,442.4 C586.3,441.9 583.6,441.6 582.1,441.0 C580.5,440.5 579.9,439.8 579.4,439.0 C578.8,438.2 578.6,438.1 578.7,436.3Z" fill="#404040"/>
<path d="M576.7,436.3 L578.0,426.9 L582.7,418.9 L587.4,415.5 L588.1,421.5 L587.4,426.9 L586.8,432.3 L585.4,436.3 L587.4,440.4 L587.4,443.7 L582.1,443.0 L578.0,440.4Z" fill="#f3a886" stroke="#f3a886" stroke-width="1.2" stroke-linejoin="round"/>
<path d="M588.8,437.7 L594.1,435.0 L598.2,436.3 L602.2,441.7 L605.6,447.1 L596.8,445.1 L588.8,443.7Z" fill="#c8323a" stroke="#c8323a" stroke-width="1.2" stroke-linejoin="round"/>
<path d="M591.5,413.5 L596.8,410.8 L600.9,414.2 L602.2,420.2 L600.9,425.6 L598.2,426.2 L595.5,422.9 L592.8,418.9Z" fill="#5aa2d3" stroke="#5aa2d3" stroke-width="1.2" stroke-linejoin="round"/>
<path d="M607.6,425.6 L611.6,422.2 L615.6,420.2 L619.7,419.5 L622.4,422.9 L625.0,425.6 L626.4,430.9 L629.1,436.3 L626.4,439.0 L622.4,436.3 L618.3,433.6 L614.3,432.3 L610.3,430.9 L607.6,428.9Z" fill="#f3a886" stroke="#f3a886" stroke-width="1.2" stroke-linejoin="round"/>
<path d="M606.9,441.7 L612.9,440.4 L619.7,441.7 L622.4,445.1 L621.0,449.8 L615.6,448.4 L610.3,445.7Z" fill="#93c6e1" stroke="#93c6e1" stroke-width="1.2" stroke-linejoin="round"/>
<path d="M630.4,406.8 L637.1,404.1 L643.8,404.1 L650.6,409.5 L655.9,416.2 L660.0,424.2 L661.3,430.9 L658.6,432.3 L657.3,424.2 L653.2,418.9 L647.9,417.5 L643.8,416.2 L639.8,413.5 L631.8,410.8Z" fill="#93c6e1" stroke="#93c6e1" stroke-width="1.2" stroke-linejoin="round"/>
<path d="M639.8,410.8 L645.2,409.5 L649.2,412.1 L650.6,416.2 L647.9,417.5 L643.8,416.2 L641.2,414.2Z" fill="#5aa2d3" stroke="#5aa2d3" stroke-width="1.2" stroke-linejoin="round"/>
<path d="M651.2,408.1 L657.3,414.8 L662.0,423.6 L664.0,432.3 L663.3,440.4 L658.6,440.4 L657.3,435.0 L660.0,430.9 L657.9,424.2 L654.6,417.5Z" fill="#5aa2d3" stroke="#5aa2d3" stroke-width="1.2" stroke-linejoin="round"/>
<path d="M655.9,436.3 L660.0,432.3 L664.0,435.0 L662.0,442.4 L657.3,443.7Z" fill="#93c6e1" stroke="#93c6e1" stroke-width="1.2" stroke-linejoin="round"/>
</g>
<g clip-path="url(#bc10)">
<path d="M480.4,509.3 C480.4,507.4 480.9,503.9 481.7,501.3 C482.5,498.6 483.7,495.7 485.1,493.2 C486.4,490.7 488.1,488.7 489.8,486.5 C491.5,484.3 493.1,481.9 495.1,479.8 C497.2,477.6 499.6,475.2 501.9,473.7 C504.1,472.3 505.9,471.6 508.6,471.0 C511.3,470.5 514.8,470.4 518.0,470.4 C521.1,470.4 524.5,470.6 527.4,471.0 C530.3,471.5 532.8,472.1 535.4,473.1 C538.1,474.1 541.0,475.5 543.5,477.1 C546.0,478.7 548.2,480.4 550.2,482.5 C552.2,484.5 554.0,486.7 555.6,489.2 C557.2,491.6 558.6,494.5 559.6,497.2 C560.6,499.9 561.5,502.9 561.6,505.3 C561.7,507.6 561.2,509.7 560.3,511.3 C559.4,513.0 558.0,514.5 556.3,515.4 C554.5,516.3 552.1,516.5 549.5,516.7 C547.0,516.9 543.0,516.5 540.8,516.7 C538.6,516.9 537.1,517.2 536.1,518.1 C535.1,518.9 535.1,520.7 534.8,522.1 C534.4,523.4 534.7,525.2 534.1,526.1 C533.5,527.0 532.4,527.5 531.4,527.5 C530.4,527.5 529.1,526.8 528.1,526.1 C527.0,525.4 526.9,524.2 525.4,523.4 C523.8,522.6 520.9,522.0 518.6,521.4 C516.4,520.8 514.5,520.4 511.9,519.8 C509.4,519.2 506.2,518.6 503.2,518.1 C500.2,517.5 496.7,517.2 493.8,516.7 C490.9,516.3 487.8,516.0 485.7,515.4 C483.7,514.7 482.6,513.7 481.7,512.7 C480.8,511.7 480.4,511.2 480.4,509.3Z" fill="#404040"/>
<path d="M478.4,509.3 L479.7,499.9 L483.7,491.9 L489.8,487.8 L491.8,491.9 L494.5,495.9 L498.5,499.9 L503.2,503.9 L507.2,506.6 L508.6,510.7 L507.9,514.7 L511.3,518.7 L514.6,522.8 L503.2,520.1 L493.8,518.7 L484.4,517.4 L479.7,513.4Z" fill="#f3a886" stroke="#f3a886" stroke-width="1.2" stroke-linejoin="round"/>
<path d="M485.7,510.7 L491.1,508.0 L497.8,508.0 L504.5,510.7 L507.9,513.4 L507.2,517.4 L499.2,516.7 L491.1,515.4 L486.4,514.0Z" fill="#ea8e6d" stroke="#ea8e6d" stroke-width="1.2" stroke-linejoin="round"/>
<path d="M495.8,483.8 L503.2,481.8 L505.9,481.1 L509.9,484.5 L515.3,486.5 L522.0,487.2 L526.7,488.5 L522.0,489.8 L515.3,489.8 L509.9,491.9 L507.2,496.6 L505.9,499.2 L503.2,498.6 L499.8,495.2 L497.2,490.5Z" fill="#5aa2d3" stroke="#5aa2d3" stroke-width="1.2" stroke-linejoin="round"/>
<path d="M532.8,473.1 L538.8,473.1 L545.5,476.4 L552.2,481.8 L557.6,488.5 L562.3,497.2 L564.3,505.3 L562.3,512.7 L556.9,510.7 L555.6,503.9 L552.9,497.2 L550.2,491.9 L544.8,486.5 L539.5,482.5 L534.1,479.1Z" fill="#5aa2d3" stroke="#5aa2d3" stroke-width="1.2" stroke-linejoin="round"/>
<path d="M539.5,512.7 L544.8,509.3 L547.5,505.3 L548.9,498.6 L552.2,493.9 L555.6,499.9 L557.6,508.0 L562.3,512.7 L555.6,517.4 L550.2,518.7 L542.2,518.7Z" fill="#93c6e1" stroke="#93c6e1" stroke-width="1.2" stroke-linejoin="round"/>
</g>
<g clip-path="url(#bc11)">
<path d="M580.7,508.0 C580.8,506.1 580.7,502.6 581.4,499.9 C582.1,497.2 583.3,494.3 584.7,491.9 C586.2,489.4 588.1,487.2 590.1,485.1 C592.1,483.1 594.4,481.3 596.8,479.8 C599.3,478.2 602.0,477.0 604.9,475.7 C607.8,474.5 611.2,473.2 614.3,472.4 C617.4,471.6 620.8,471.4 623.7,471.0 C626.6,470.7 629.1,470.0 631.8,470.4 C634.4,470.7 637.3,471.7 639.8,473.1 C642.3,474.4 644.5,476.4 646.5,478.4 C648.5,480.4 650.1,482.7 651.9,485.1 C653.7,487.6 655.7,490.5 657.3,493.2 C658.8,495.9 660.4,498.8 661.3,501.3 C662.2,503.7 662.8,506.1 662.6,508.0 C662.5,509.9 661.7,511.4 660.6,512.7 C659.5,513.9 658.1,514.7 655.9,515.4 C653.8,516.0 650.8,516.1 647.9,516.7 C645.0,517.3 641.4,517.9 638.5,518.7 C635.6,519.5 632.9,520.5 630.4,521.4 C627.9,522.3 625.9,523.2 623.7,524.1 C621.5,525.0 618.9,526.1 617.0,526.8 C615.1,527.5 613.6,528.2 612.3,528.1 C611.0,528.0 609.9,527.2 609.2,526.1 C608.5,525.0 608.6,522.9 608.2,521.4 C607.9,520.0 608.6,518.1 606.9,517.4 C605.2,516.7 601.0,517.5 598.2,517.4 C595.4,517.3 592.5,517.2 590.1,516.7 C587.8,516.3 585.6,515.6 584.1,514.7 C582.6,513.8 581.5,512.5 581.0,511.3 C580.4,510.2 580.6,509.9 580.7,508.0Z" fill="#404040"/>
<path d="M578.7,508.0 L579.4,498.6 L583.4,490.5 L588.8,483.8 L596.8,478.4 L604.9,474.4 L606.9,477.1 L604.2,481.1 L598.2,483.8 L594.1,487.2 L592.8,491.9 L592.8,497.2 L594.1,502.6 L595.5,506.6 L591.5,507.3 L586.1,506.6 L582.1,506.6Z" fill="#5aa2d3" stroke="#5aa2d3" stroke-width="1.2" stroke-linejoin="round"/>
<path d="M588.8,483.8 L596.8,478.4 L604.9,474.4 L606.9,477.1 L604.2,481.1 L598.2,483.8 L594.1,487.2 L591.5,487.2Z" fill="#93c6e1" stroke="#93c6e1" stroke-width="1.2" stroke-linejoin="round"/>
<path d="M579.4,508.0 L587.4,506.6 L594.1,506.6 L599.5,509.3 L604.9,513.4 L607.6,518.7 L598.2,519.4 L590.1,518.7 L582.7,516.7Z" fill="#93c6e1" stroke="#93c6e1" stroke-width="1.2" stroke-linejoin="round"/>
<path d="M617.0,488.5 L622.4,487.2 L629.1,488.5 L633.1,491.9 L635.1,497.2 L630.4,493.9 L623.7,491.2 L617.6,490.5Z" fill="#93c6e1" stroke="#93c6e1" stroke-width="1.2" stroke-linejoin="round"/>
<path d="M627.7,486.5 L634.4,483.8 L639.8,481.1 L645.2,479.1 L647.9,482.5 L647.2,487.8 L643.8,491.9 L639.8,495.9 L636.5,497.9 L634.4,493.9 L630.4,489.8Z" fill="#5aa2d3" stroke="#5aa2d3" stroke-width="1.2" stroke-linejoin="round"/>
<path d="M633.1,505.3 L637.1,503.9 L641.2,502.6 L645.2,499.9 L646.5,495.9 L649.2,489.2 L653.2,485.1 L658.6,492.5 L663.3,501.3 L664.7,508.0 L662.6,514.0 L655.9,517.4 L647.9,518.7 L638.5,520.7 L630.4,522.8 L623.7,524.8 L627.7,518.7 L634.4,514.7 L637.1,510.7Z" fill="#f3a886" stroke="#f3a886" stroke-width="1.2" stroke-linejoin="round"/>
<path d="M637.1,513.4 L643.8,510.7 L650.6,509.3 L654.6,512.0 L649.2,515.4 L641.2,517.4 L635.8,518.1Z" fill="#ea8e6d" stroke="#ea8e6d" stroke-width="1.2" stroke-linejoin="round"/>
</g>
<g clip-path="url(#bc12)">
<path d="M19.4,605.6 C19.3,603.2 19.4,600.3 20.0,597.6 C20.7,594.9 21.9,592.0 23.4,589.5 C24.9,587.1 26.5,584.8 28.8,582.8 C31.0,580.8 34.1,579.0 36.8,577.4 C39.5,575.9 42.0,574.5 44.9,573.4 C47.8,572.3 51.2,571.3 54.3,570.7 C57.4,570.1 60.8,569.8 63.7,569.6 C66.6,569.5 69.3,569.2 71.8,569.6 C74.2,570.0 76.2,570.8 78.5,572.1 C80.7,573.4 83.2,575.4 85.2,577.4 C87.2,579.4 88.8,581.7 90.6,584.1 C92.3,586.6 94.4,589.5 95.9,592.2 C97.5,594.9 99.1,597.8 100.0,600.3 C100.9,602.7 101.3,605.0 101.3,607.0 C101.3,609.0 101.1,611.0 100.0,612.4 C98.8,613.7 96.6,614.4 94.6,615.0 C92.6,615.7 90.1,616.0 87.9,616.4 C85.6,616.7 83.6,616.8 81.2,617.1 C78.7,617.3 75.8,617.4 73.1,617.7 C70.4,618.1 67.5,618.4 65.0,619.1 C62.6,619.7 60.1,620.6 58.3,621.8 C56.5,622.9 55.6,624.8 54.3,625.8 C52.9,626.8 51.5,627.7 50.3,627.8 C49.0,627.9 47.6,627.5 46.9,626.5 C46.2,625.4 46.0,623.0 46.0,621.8 C46.0,620.5 47.8,619.7 46.9,619.1 C46.1,618.4 43.2,618.1 40.9,617.7 C38.5,617.4 35.5,617.4 32.8,617.1 C30.1,616.7 26.8,616.5 24.7,615.7 C22.7,614.9 21.6,614.0 20.7,612.4 C19.8,610.7 19.5,608.1 19.4,605.6Z" fill="#404040"/>
<path d="M42.2,575.4 L46.2,573.4 L51.6,572.7 L52.3,576.8 L48.9,578.8 L44.9,579.4 L42.2,578.1Z" fill="#93c6e1" stroke="#93c6e1" stroke-width="2.4" stroke-linejoin="round"/>
<path d="M52.9,570.7 L59.7,569.1 L65.0,569.1 L63.7,574.7 L59.7,576.1 L54.3,574.7Z" fill="#c8323a" stroke="#c8323a" stroke-width="2.4" stroke-linejoin="round"/>
<path d="M58.3,573.4 L65.0,569.1 L71.8,569.1 L73.1,573.4 L70.4,577.4 L65.0,578.8 L61.0,581.5 L58.3,578.8Z" fill="#dd6d54" stroke="#dd6d54" stroke-width="2.4" stroke-linejoin="round"/>
<path d="M55.6,577.4 L61.0,578.8 L62.4,582.8 L59.7,585.5 L57.0,582.8Z" fill="#f3a886" stroke="#f3a886" stroke-width="2.4" stroke-linejoin="round"/>
<path d="M73.1,581.5 L77.1,577.4 L81.2,574.1 L86.5,576.8 L92.6,583.5 L97.9,591.5 L102.6,600.3 L104.0,607.0 L102.0,613.7 L95.9,611.7 L94.6,604.3 L91.9,598.9 L89.2,594.9 L85.2,588.2 L81.2,587.5 L77.1,590.9 L74.4,589.5 L72.4,585.5Z" fill="#93c6e1" stroke="#93c6e1" stroke-width="2.4" stroke-linejoin="round"/>
<path d="M74.4,585.5 L79.8,584.1 L81.2,588.2 L77.1,590.9 L74.4,589.5Z" fill="#c2dcee" stroke="#c2dcee" stroke-width="2.4" stroke-linejoin="round"/>
<path d="M57.0,592.9 L61.0,590.2 L66.4,589.5 L67.7,592.9 L67.1,596.2 L61.0,596.2 L57.0,594.9Z" fill="#8c0c26" stroke="#8c0c26" stroke-width="2.4" stroke-linejoin="round"/>
<path d="M42.2,596.9 L46.2,592.9 L50.3,590.2 L50.9,594.9 L47.6,597.6 L42.9,598.2Z" fill="#f3a886" stroke="#f3a886" stroke-width="2.4" stroke-linejoin="round"/>
<path d="M24.7,600.3 L30.1,596.2 L34.1,594.9 L34.8,600.3 L33.5,604.3 L27.4,605.0 L24.7,603.6Z" fill="#f3a886" stroke="#f3a886" stroke-width="2.4" stroke-linejoin="round"/>
<path d="M34.1,607.0 L40.9,604.3 L46.2,602.3 L51.6,604.3 L57.0,607.0 L54.3,611.0 L50.3,615.0 L46.2,616.4 L42.2,613.7 L35.5,611.0Z" fill="#dd6d54" stroke="#dd6d54" stroke-width="2.4" stroke-linejoin="round"/>
<path d="M46.2,604.3 L51.6,602.9 L57.0,607.0 L54.3,612.4 L50.3,615.7 L47.6,613.7Z" fill="#f3a886" stroke="#f3a886" stroke-width="2.4" stroke-linejoin="round"/>
<path d="M63.7,607.0 L67.7,604.3 L71.8,600.3 L75.8,598.2 L77.1,604.3 L74.4,608.3 L67.7,609.7Z" fill="#f3a886" stroke="#f3a886" stroke-width="2.4" stroke-linejoin="round"/>
<path d="M75.8,608.3 L81.2,602.9 L86.5,601.6 L90.6,604.3 L91.9,609.7 L89.2,613.7 L83.8,615.0 L78.5,615.7Z" fill="#93c6e1" stroke="#93c6e1" stroke-width="2.4" stroke-linejoin="round"/>
<path d="M19.4,613.0 L27.4,614.4 L34.1,615.0 L38.2,617.7 L32.8,618.4 L23.4,617.1Z" fill="#2461a9" stroke="#2461a9" stroke-width="2.4" stroke-linejoin="round"/>
<path d="M54.3,626.5 L58.3,623.8 L65.0,620.4 L73.1,618.4 L83.8,617.1 L83.8,619.1 L73.1,620.4 L65.0,622.4 L58.3,625.8Z" fill="#93c6e1" stroke="#93c6e1" stroke-width="2.4" stroke-linejoin="round"/>
</g>
<g clip-path="url(#bc13)">
<path d="M121.4,607.0 C121.6,605.3 121.9,602.7 122.7,600.3 C123.5,597.8 124.7,594.9 126.1,592.2 C127.4,589.5 129.1,586.6 130.8,584.1 C132.5,581.7 134.1,579.4 136.1,577.4 C138.2,575.4 140.6,573.4 142.9,572.1 C145.1,570.8 146.9,570.0 149.6,569.6 C152.3,569.2 155.6,569.3 159.0,569.6 C162.3,569.9 166.6,570.6 169.7,571.4 C172.9,572.1 175.3,573.1 177.8,574.1 C180.2,575.1 182.3,576.0 184.5,577.4 C186.7,578.9 189.2,580.8 191.2,582.8 C193.2,584.8 195.0,587.3 196.6,589.5 C198.2,591.8 199.5,594.0 200.6,596.2 C201.7,598.5 203.0,600.7 203.3,602.9 C203.6,605.2 203.3,607.9 202.6,609.7 C202.0,611.5 201.2,612.7 199.3,613.7 C197.4,614.7 193.9,615.3 191.2,615.7 C188.5,616.2 185.4,616.0 183.2,616.4 C180.9,616.7 179.0,616.8 177.8,617.7 C176.5,618.6 176.2,620.2 175.8,621.8 C175.3,623.3 175.7,626.0 175.1,627.1 C174.5,628.2 173.4,628.5 172.4,628.5 C171.4,628.5 170.6,628.0 169.1,627.1 C167.5,626.2 165.4,624.3 163.0,623.1 C160.7,621.9 157.6,620.6 154.9,619.7 C152.3,618.8 149.6,618.4 146.9,617.7 C144.2,617.1 141.5,616.3 138.8,615.7 C136.1,615.1 133.2,614.9 130.8,614.4 C128.3,613.8 125.6,613.0 124.1,612.4 C122.5,611.7 122.1,611.2 121.6,610.3 C121.2,609.4 121.2,608.7 121.4,607.0Z" fill="#404040"/>
<path d="M119.4,607.0 L120.7,598.9 L125.4,598.2 L129.4,600.3 L131.4,604.3 L129.4,609.7 L126.7,613.7 L122.7,613.7 L120.0,611.0Z" fill="#93c6e1" stroke="#93c6e1" stroke-width="2.4" stroke-linejoin="round"/>
<path d="M131.4,580.1 L136.1,576.8 L137.5,582.8 L134.8,585.5 L132.1,584.1Z" fill="#93c6e1" stroke="#93c6e1" stroke-width="2.4" stroke-linejoin="round"/>
<path d="M141.5,574.1 L146.9,570.0 L150.2,569.4 L149.6,574.1 L146.9,576.8 L144.2,577.4Z" fill="#8c0c26" stroke="#8c0c26" stroke-width="2.4" stroke-linejoin="round"/>
<path d="M130.8,586.8 L134.8,585.5 L136.1,589.5 L133.5,592.2 L130.8,590.9Z" fill="#f3a886" stroke="#f3a886" stroke-width="2.4" stroke-linejoin="round"/>
<path d="M153.6,577.4 L156.3,576.8 L160.3,582.8 L161.7,588.2 L159.0,590.9 L156.3,586.8 L153.6,582.8Z" fill="#dd6d54" stroke="#dd6d54" stroke-width="2.4" stroke-linejoin="round"/>
<path d="M142.9,588.8 L148.2,588.2 L153.6,590.9 L156.3,594.9 L160.3,598.9 L156.3,598.9 L152.3,602.9 L149.6,598.9 L145.5,594.9Z" fill="#f3a886" stroke="#f3a886" stroke-width="2.4" stroke-linejoin="round"/>
<path d="M149.6,590.9 L154.9,590.9 L160.3,598.9 L156.3,599.6 L152.3,602.9Z" fill="#f3a886" stroke="#f3a886" stroke-width="2.4" stroke-linejoin="round"/>
<path d="M162.3,590.2 L167.0,588.2 L169.7,590.9 L169.7,596.2 L168.4,600.3 L164.4,601.6 L162.3,596.2Z" fill="#fbd3bd" stroke="#fbd3bd" stroke-width="2.4" stroke-linejoin="round"/>
<path d="M164.4,580.1 L169.7,578.1 L172.4,581.5 L171.1,585.5 L167.7,585.5 L165.0,583.5Z" fill="#8c0c26" stroke="#8c0c26" stroke-width="2.4" stroke-linejoin="round"/>
<path d="M169.7,577.4 L173.8,574.7 L177.8,575.4 L179.1,578.8 L177.1,582.1 L172.4,582.8 L169.7,580.8Z" fill="#f3a886" stroke="#f3a886" stroke-width="2.4" stroke-linejoin="round"/>
<path d="M171.1,573.4 L177.8,572.7 L184.5,576.1 L179.1,577.4 L175.1,574.7Z" fill="#dd6d54" stroke="#dd6d54" stroke-width="2.4" stroke-linejoin="round"/>
<path d="M172.4,594.9 L176.4,590.9 L181.8,592.2 L185.8,594.9 L188.5,598.9 L187.2,604.3 L183.2,605.6 L179.1,604.3 L175.1,602.9 L172.4,598.9Z" fill="#dd6d54" stroke="#dd6d54" stroke-width="2.4" stroke-linejoin="round"/>
<path d="M181.8,588.2 L185.8,587.5 L189.2,592.2 L187.2,596.2 L183.2,593.5Z" fill="#f3a886" stroke="#f3a886" stroke-width="2.4" stroke-linejoin="round"/>
<path d="M188.5,590.9 L193.9,592.2 L197.9,594.9 L199.3,598.9 L196.6,600.9 L192.6,598.9 L189.2,596.2Z" fill="#c8323a" stroke="#c8323a" stroke-width="2.4" stroke-linejoin="round"/>
<path d="M162.3,607.0 L167.0,605.6 L172.4,604.3 L177.8,605.6 L179.1,611.0 L175.1,613.7 L171.1,616.4 L167.0,613.7 L163.7,611.0Z" fill="#fbd3bd" stroke="#fbd3bd" stroke-width="2.4" stroke-linejoin="round"/>
<path d="M195.2,601.6 L199.3,598.9 L205.3,602.9 L204.6,610.3 L199.3,614.4 L196.6,609.7Z" fill="#c2dcee" stroke="#c2dcee" stroke-width="2.4" stroke-linejoin="round"/>
<path d="M179.1,615.7 L185.8,615.0 L191.2,615.7 L191.2,617.7 L183.2,617.7 L177.8,618.4Z" fill="#93c6e1" stroke="#93c6e1" stroke-width="2.4" stroke-linejoin="round"/>
</g>
<g clip-path="url(#bc14)">
<path d="M19.4,683.7 C19.3,681.9 19.9,678.3 20.7,675.6 C21.5,672.9 22.7,670.2 24.1,667.5 C25.4,664.9 27.1,662.2 28.8,659.5 C30.5,656.8 32.1,653.7 34.1,651.4 C36.2,649.2 38.6,647.4 40.9,646.1 C43.1,644.7 44.7,643.9 47.6,643.4 C50.5,642.9 55.0,642.9 58.3,643.1 C61.7,643.3 64.6,643.9 67.7,644.7 C70.9,645.5 74.2,646.7 77.1,648.1 C80.0,649.4 82.7,650.9 85.2,652.8 C87.6,654.7 90.0,657.0 91.9,659.5 C93.8,662.0 95.4,664.9 96.6,667.5 C97.8,670.2 98.9,672.9 99.3,675.6 C99.6,678.3 99.4,681.4 98.6,683.7 C97.8,685.9 96.6,687.7 94.6,689.0 C92.6,690.4 89.2,691.2 86.5,691.7 C83.8,692.3 80.6,692.1 78.5,692.4 C76.3,692.7 74.8,693.0 73.8,693.7 C72.8,694.5 72.8,695.9 72.4,697.1 C72.1,698.3 72.3,700.3 71.8,701.1 C71.2,702.0 70.1,702.3 69.1,702.2 C68.1,702.1 67.1,701.3 65.7,700.5 C64.4,699.6 62.9,698.1 61.0,697.1 C59.1,696.1 56.8,695.3 54.3,694.4 C51.8,693.5 49.1,692.5 46.2,691.7 C43.3,690.9 40.0,690.3 36.8,689.7 C33.7,689.1 30.0,688.9 27.4,688.4 C24.9,687.8 22.7,687.1 21.4,686.4 C20.0,685.6 19.5,685.5 19.4,683.7Z" fill="#404040"/>
<path d="M32.8,650.1 L40.9,644.7 L44.2,645.4 L43.5,651.4 L42.2,655.5 L36.8,656.1 L32.8,655.5Z" fill="#93c6e1" stroke="#93c6e1" stroke-width="2.4" stroke-linejoin="round"/>
<path d="M20.0,678.3 L22.1,666.2 L27.4,659.5 L31.5,664.9 L32.8,670.2 L35.5,674.3 L28.8,675.6 L24.7,676.9Z" fill="#5aa2d3" stroke="#5aa2d3" stroke-width="2.4" stroke-linejoin="round"/>
<path d="M27.4,666.2 L30.1,663.5 L32.8,668.9 L34.8,673.6 L30.8,674.3 L28.8,670.2Z" fill="#2461a9" stroke="#2461a9" stroke-width="2.4" stroke-linejoin="round"/>
<path d="M17.4,683.7 L20.0,678.3 L26.1,678.3 L27.4,682.3 L26.1,687.7 L19.4,687.7Z" fill="#5aa2d3" stroke="#5aa2d3" stroke-width="2.4" stroke-linejoin="round"/>
<path d="M26.1,683.7 L31.5,683.0 L38.2,684.3 L43.5,685.7 L40.9,688.4 L34.1,688.4 L27.4,687.7Z" fill="#93c6e1" stroke="#93c6e1" stroke-width="2.4" stroke-linejoin="round"/>
<path d="M35.5,687.7 L40.9,686.4 L46.2,687.7 L47.6,692.4 L40.9,691.7Z" fill="#2461a9" stroke="#2461a9" stroke-width="2.4" stroke-linejoin="round"/>
<path d="M43.5,691.1 L51.6,693.1 L59.7,695.8 L65.0,699.8 L69.1,703.8 L63.7,702.5 L58.3,699.1 L51.6,695.8Z" fill="#93c6e1" stroke="#93c6e1" stroke-width="2.4" stroke-linejoin="round"/>
<path d="M67.7,695.8 L71.8,694.4 L73.1,701.1 L69.1,703.1Z" fill="#93c6e1" stroke="#93c6e1" stroke-width="2.4" stroke-linejoin="round"/>
<path d="M44.9,643.4 L51.6,642.0 L59.7,642.0 L61.7,647.4 L61.0,651.4 L58.3,653.4 L54.3,652.8 L48.9,650.8 L46.2,648.7Z" fill="#dd6d54" stroke="#dd6d54" stroke-width="2.4" stroke-linejoin="round"/>
<path d="M57.0,652.8 L62.4,650.8 L66.4,652.8 L67.7,658.1 L65.0,660.2 L61.0,659.5 L58.3,656.8Z" fill="#f3a886" stroke="#f3a886" stroke-width="2.4" stroke-linejoin="round"/>
<path d="M66.4,652.8 L70.4,651.4 L75.8,654.1 L79.8,658.1 L79.8,662.8 L77.1,664.9 L70.4,663.5 L67.1,660.8Z" fill="#dd6d54" stroke="#dd6d54" stroke-width="2.4" stroke-linejoin="round"/>
<path d="M77.1,662.2 L81.2,659.5 L85.2,663.5 L87.9,666.2 L86.5,672.9 L83.8,676.3 L79.8,674.3 L77.1,670.2 L75.8,666.2Z" fill="#f3a886" stroke="#f3a886" stroke-width="2.4" stroke-linejoin="round"/>
<path d="M73.1,652.8 L77.1,650.1 L83.8,652.1 L90.6,656.8 L93.2,660.8 L89.9,664.9 L87.2,666.2 L82.5,660.8 L78.5,658.1 L74.4,655.5Z" fill="#c2dcee" stroke="#c2dcee" stroke-width="2.4" stroke-linejoin="round"/>
</g>
<g clip-path="url(#bc15)">
<path d="M121.4,681.0 C121.4,679.0 121.5,675.6 122.0,672.9 C122.6,670.2 123.5,667.3 124.7,664.9 C126.0,662.4 127.5,660.2 129.4,658.1 C131.3,656.1 133.7,654.3 136.1,652.8 C138.6,651.2 141.3,650.0 144.2,648.7 C147.1,647.5 150.5,646.2 153.6,645.4 C156.7,644.6 159.9,644.3 163.0,644.0 C166.1,643.8 169.7,643.7 172.4,644.0 C175.1,644.4 177.1,645.1 179.1,646.1 C181.1,647.1 182.7,648.3 184.5,650.1 C186.3,651.9 188.1,654.6 189.9,656.8 C191.7,659.0 193.7,661.1 195.2,663.5 C196.8,666.0 198.2,668.9 199.3,671.6 C200.4,674.3 201.7,677.4 202.0,679.6 C202.2,681.9 201.5,683.6 200.6,685.0 C199.7,686.5 198.4,687.6 196.6,688.4 C194.8,689.1 192.6,689.1 189.9,689.7 C187.2,690.3 183.4,690.9 180.5,691.7 C177.6,692.5 174.9,693.5 172.4,694.4 C169.9,695.3 167.9,696.2 165.7,697.1 C163.5,698.0 160.9,699.0 159.0,699.8 C157.1,700.6 155.7,701.7 154.3,701.8 C152.8,701.9 151.1,701.2 150.2,700.5 C149.4,699.7 149.2,698.5 148.9,697.1 C148.6,695.6 149.7,692.7 148.2,691.7 C146.8,690.7 143.1,691.4 140.2,691.1 C137.3,690.7 133.3,690.3 130.8,689.7 C128.2,689.1 126.2,688.5 124.7,687.7 C123.3,686.9 122.6,686.1 122.0,685.0 C121.5,683.9 121.4,683.0 121.4,681.0Z" fill="#404040"/>
<path d="M128.1,656.8 L136.1,651.4 L144.2,648.1 L144.9,652.8 L142.9,655.5 L136.1,658.1 L132.1,660.8 L130.8,664.9 L130.1,662.2Z" fill="#f3a886" stroke="#f3a886" stroke-width="2.4" stroke-linejoin="round"/>
<path d="M130.8,664.9 L133.5,660.8 L138.8,658.1 L142.9,656.8 L144.2,662.2 L145.5,664.9 L140.2,666.9 L136.1,668.9 L132.8,670.2Z" fill="#dd6d54" stroke="#dd6d54" stroke-width="2.4" stroke-linejoin="round"/>
<path d="M144.2,648.1 L153.6,644.7 L157.6,644.7 L159.0,650.1 L156.3,652.8 L150.9,652.8 L146.9,654.1 L144.2,652.8Z" fill="#c8323a" stroke="#c8323a" stroke-width="2.4" stroke-linejoin="round"/>
<path d="M150.9,652.8 L156.3,652.1 L160.3,654.1 L161.7,656.8 L159.0,658.1 L154.9,656.8 L152.3,655.5Z" fill="#dd6d54" stroke="#dd6d54" stroke-width="2.4" stroke-linejoin="round"/>
<path d="M161.7,651.4 L167.0,651.4 L172.4,649.4 L176.4,648.1 L180.5,650.1 L184.5,651.4 L180.5,654.1 L175.1,656.8 L169.7,659.5 L164.4,660.2 L161.7,656.8Z" fill="#dd6d54" stroke="#dd6d54" stroke-width="2.4" stroke-linejoin="round"/>
<path d="M175.1,644.7 L180.5,644.7 L185.8,650.8 L180.5,652.8 L176.4,650.1Z" fill="#c8323a" stroke="#c8323a" stroke-width="2.4" stroke-linejoin="round"/>
<path d="M119.4,681.0 L126.7,680.3 L133.5,682.3 L137.5,683.7 L141.5,685.0 L144.9,689.0 L148.9,693.1 L140.2,693.1 L130.8,691.7 L123.4,689.7 L120.0,685.7Z" fill="#c2dcee" stroke="#c2dcee" stroke-width="2.4" stroke-linejoin="round"/>
<path d="M172.4,683.7 L177.8,678.3 L183.2,674.3 L187.2,672.9 L188.5,676.9 L185.8,681.0 L180.5,683.7 L176.4,685.7Z" fill="#5aa2d3" stroke="#5aa2d3" stroke-width="2.4" stroke-linejoin="round"/>
<path d="M187.2,664.9 L191.2,663.5 L195.2,670.2 L196.6,675.6 L195.2,681.0 L191.2,683.7 L187.2,681.0 L187.2,675.6 L188.5,670.2Z" fill="#93c6e1" stroke="#93c6e1" stroke-width="2.4" stroke-linejoin="round"/>
<path d="M177.8,685.0 L183.2,683.7 L188.5,682.3 L192.6,683.7 L195.2,686.4 L191.2,689.7 L183.2,691.1 L177.8,690.4Z" fill="#93c6e1" stroke="#93c6e1" stroke-width="2.4" stroke-linejoin="round"/>
<path d="M165.7,695.1 L169.7,690.4 L175.1,687.7 L177.8,689.0 L177.8,693.1 L169.7,696.4Z" fill="#2461a9" stroke="#2461a9" stroke-width="2.4" stroke-linejoin="round"/>
<path d="M148.2,697.1 L153.6,695.8 L156.3,698.4 L155.6,702.5 L149.6,701.8Z" fill="#2461a9" stroke="#2461a9" stroke-width="2.4" stroke-linejoin="round"/>
<path d="M185.8,651.4 L190.5,655.5 L191.2,660.8 L187.2,658.1Z" fill="#93c6e1" stroke="#93c6e1" stroke-width="2.4" stroke-linejoin="round"/>
</g>
<g clip-path="url(#bc16)">
<path d="M240.4,607.3 C240.2,604.7 240.9,601.9 241.7,599.2 C242.5,596.5 243.6,593.6 245.1,591.2 C246.5,588.7 248.2,586.5 250.4,584.5 C252.7,582.4 255.6,580.7 258.5,579.1 C261.4,577.5 264.8,576.1 267.9,575.1 C271.0,574.1 274.2,573.5 277.3,573.0 C280.4,572.6 283.8,572.3 286.7,572.1 C289.6,571.9 292.3,571.7 294.8,572.1 C297.2,572.5 299.2,573.1 301.5,574.4 C303.7,575.7 306.2,577.7 308.2,579.8 C310.2,581.8 311.8,584.1 313.6,586.5 C315.3,588.8 317.4,591.3 318.9,593.9 C320.5,596.4 321.9,599.5 323.0,601.9 C324.0,604.4 324.9,606.5 325.0,608.6 C325.1,610.8 324.7,613.2 323.6,614.7 C322.5,616.2 320.4,617.0 318.3,617.8 C316.1,618.6 313.2,619.0 310.9,619.4 C308.5,619.8 306.6,619.8 304.2,620.1 C301.7,620.3 298.8,620.4 296.1,620.7 C293.4,621.1 290.5,621.4 288.0,622.1 C285.6,622.7 283.1,623.6 281.3,624.8 C279.5,625.9 278.6,627.7 277.3,628.8 C275.9,629.9 274.5,631.0 273.3,631.2 C272.0,631.4 270.6,630.9 269.9,629.9 C269.2,628.8 269.0,626.1 269.0,624.8 C269.0,623.5 270.8,622.7 269.9,622.1 C269.1,621.4 266.2,621.1 263.9,620.7 C261.5,620.4 258.5,620.4 255.8,620.1 C253.1,619.7 250.0,619.6 247.7,618.7 C245.5,617.8 243.6,616.6 242.4,614.7 C241.1,612.8 240.5,609.9 240.4,607.3Z" fill="#404040"/>
<path d="M243.7,591.2 L249.8,583.1 L254.5,581.8 L253.1,588.5 L249.1,592.5 L246.4,593.9Z" fill="#93c6e1" stroke="#93c6e1" stroke-width="2.4" stroke-linejoin="round"/>
<path d="M264.5,577.7 L269.2,575.7 L275.3,575.7 L273.9,580.4 L269.9,581.8 L265.2,581.1Z" fill="#5aa2d3" stroke="#5aa2d3" stroke-width="2.4" stroke-linejoin="round"/>
<path d="M275.3,573.7 L282.7,572.1 L288.0,571.7 L285.4,577.7 L281.3,579.1 L277.3,577.7Z" fill="#dd6d54" stroke="#dd6d54" stroke-width="2.4" stroke-linejoin="round"/>
<path d="M281.3,576.4 L288.0,571.7 L294.8,571.7 L296.1,576.4 L293.4,580.4 L288.0,581.8 L284.0,585.8 L282.0,581.8Z" fill="#f3a886" stroke="#f3a886" stroke-width="2.4" stroke-linejoin="round"/>
<path d="M296.1,583.1 L301.5,579.1 L305.5,577.7 L309.5,581.8 L312.2,585.8 L308.2,589.8 L304.2,591.2 L300.1,593.2 L297.4,591.2 L296.1,587.1Z" fill="#5aa2d3" stroke="#5aa2d3" stroke-width="2.4" stroke-linejoin="round"/>
<path d="M304.2,579.1 L310.9,580.4 L316.9,589.2 L321.6,596.5 L325.6,603.3 L327.0,609.3 L321.6,605.9 L317.6,599.2 L312.2,593.9 L306.8,591.2 L302.8,589.8Z" fill="#93c6e1" stroke="#93c6e1" stroke-width="2.4" stroke-linejoin="round"/>
<path d="M297.4,589.2 L302.8,588.5 L304.2,592.5 L300.1,593.9 L298.1,592.5Z" fill="#c2dcee" stroke="#c2dcee" stroke-width="2.4" stroke-linejoin="round"/>
<path d="M281.3,595.9 L285.4,593.2 L290.7,591.8 L291.4,595.9 L290.1,599.2 L284.0,599.2 L281.3,597.9Z" fill="#c8323a" stroke="#c8323a" stroke-width="2.4" stroke-linejoin="round"/>
<path d="M265.2,599.2 L269.2,595.2 L273.3,592.5 L273.9,597.9 L270.6,600.6 L265.9,601.2Z" fill="#f3a886" stroke="#f3a886" stroke-width="2.4" stroke-linejoin="round"/>
<path d="M246.4,605.9 L250.4,599.2 L255.8,593.9 L257.8,599.2 L256.5,607.3 L250.4,608.6Z" fill="#f3a886" stroke="#f3a886" stroke-width="2.4" stroke-linejoin="round"/>
<path d="M257.1,610.0 L263.9,607.3 L269.2,605.9 L274.6,608.0 L281.3,610.0 L277.3,614.0 L273.3,618.7 L269.2,620.1 L265.2,616.7 L258.5,614.0Z" fill="#dd6d54" stroke="#dd6d54" stroke-width="2.4" stroke-linejoin="round"/>
<path d="M267.9,607.3 L273.3,605.9 L277.3,608.6 L273.3,611.3Z" fill="#f3a886" stroke="#f3a886" stroke-width="2.4" stroke-linejoin="round"/>
<path d="M286.7,610.0 L290.7,607.3 L294.8,603.3 L298.8,601.2 L300.1,607.3 L297.4,611.3 L290.7,612.7Z" fill="#f3a886" stroke="#f3a886" stroke-width="2.4" stroke-linejoin="round"/>
<path d="M299.5,611.3 L304.2,605.9 L309.5,604.6 L314.2,607.3 L315.6,612.7 L312.2,616.7 L306.8,618.0 L302.1,618.7Z" fill="#93c6e1" stroke="#93c6e1" stroke-width="2.4" stroke-linejoin="round"/>
<path d="M242.4,616.0 L250.4,617.0 L257.1,617.8 L261.2,620.1 L255.8,621.4 L246.4,620.1Z" fill="#5aa2d3" stroke="#5aa2d3" stroke-width="2.4" stroke-linejoin="round"/>
<path d="M277.3,629.5 L281.3,626.8 L288.0,623.4 L296.1,621.4 L306.8,620.1 L306.8,622.1 L296.1,623.4 L288.0,625.4 L281.3,628.8Z" fill="#93c6e1" stroke="#93c6e1" stroke-width="2.4" stroke-linejoin="round"/>
<path d="M270.6,628.1 L274.6,626.1 L277.3,628.5 L273.9,631.5Z" fill="#5aa2d3" stroke="#5aa2d3" stroke-width="2.4" stroke-linejoin="round"/>
</g>
<g clip-path="url(#bc17)">
<path d="M347.7,610.0 C347.9,608.0 348.3,604.6 349.1,601.9 C349.8,599.2 351.1,596.3 352.4,593.9 C353.8,591.4 355.4,589.4 357.1,587.1 C358.8,584.9 360.5,582.4 362.5,580.4 C364.5,578.4 367.0,576.3 369.2,575.1 C371.4,573.8 373.2,573.4 375.9,573.0 C378.6,572.7 382.2,572.8 385.3,573.0 C388.5,573.3 391.8,574.1 394.7,574.8 C397.6,575.5 400.3,576.1 402.8,577.1 C405.2,578.0 407.3,579.0 409.5,580.4 C411.7,581.9 414.2,583.8 416.2,585.8 C418.2,587.8 420.0,590.2 421.6,592.5 C423.2,594.9 424.6,597.4 425.6,599.9 C426.6,602.4 427.5,605.1 427.6,607.3 C427.7,609.5 427.2,611.7 426.3,613.3 C425.4,614.9 424.0,616.1 422.3,617.0 C420.5,617.9 417.9,618.3 415.5,618.7 C413.2,619.2 410.2,619.3 408.2,619.6 C406.1,620.0 404.6,619.9 403.5,620.7 C402.3,621.6 401.9,623.3 401.4,624.8 C401.0,626.2 401.3,628.4 400.8,629.5 C400.2,630.5 399.1,631.1 398.1,631.2 C397.1,631.3 396.2,630.6 394.7,629.9 C393.3,629.1 391.6,627.8 389.4,626.8 C387.1,625.7 384.0,624.3 381.3,623.4 C378.6,622.5 375.9,622.0 373.2,621.4 C370.5,620.8 367.9,620.2 365.2,619.6 C362.5,619.1 359.6,618.8 357.1,618.3 C354.7,617.8 352.0,617.4 350.4,616.7 C348.8,616.0 348.2,615.1 347.7,614.0 C347.3,612.9 347.5,612.0 347.7,610.0Z" fill="#404040"/>
<path d="M345.7,610.0 L347.0,603.3 L353.1,602.6 L357.1,603.3 L359.1,607.3 L357.1,611.3 L355.8,618.7 L349.1,618.0 L345.7,614.7Z" fill="#93c6e1" stroke="#93c6e1" stroke-width="2.4" stroke-linejoin="round"/>
<path d="M359.1,582.4 L362.5,579.8 L363.2,585.8 L360.5,588.5 L359.1,587.1Z" fill="#93c6e1" stroke="#93c6e1" stroke-width="2.4" stroke-linejoin="round"/>
<path d="M366.5,577.7 L371.9,573.7 L375.9,573.0 L375.2,578.4 L371.9,581.1 L368.5,581.1Z" fill="#c8323a" stroke="#c8323a" stroke-width="2.4" stroke-linejoin="round"/>
<path d="M357.1,591.2 L361.1,589.8 L363.2,593.9 L360.5,598.6 L358.5,601.9 L357.1,597.9Z" fill="#f3a886" stroke="#f3a886" stroke-width="2.4" stroke-linejoin="round"/>
<path d="M380.6,582.4 L383.3,581.8 L387.3,587.1 L389.4,593.9 L386.7,594.5 L382.6,589.2Z" fill="#dd6d54" stroke="#dd6d54" stroke-width="2.4" stroke-linejoin="round"/>
<path d="M369.9,592.5 L374.6,591.8 L379.9,593.9 L385.3,597.9 L388.7,601.2 L384.0,601.9 L381.3,605.9 L378.6,603.3 L374.6,599.2Z" fill="#f3a886" stroke="#f3a886" stroke-width="2.4" stroke-linejoin="round"/>
<path d="M373.2,593.9 L378.6,593.9 L381.3,597.9 L377.3,600.6 L374.6,597.9Z" fill="#dd6d54" stroke="#dd6d54" stroke-width="2.4" stroke-linejoin="round"/>
<path d="M391.4,582.4 L396.1,581.8 L398.8,585.1 L397.4,588.5 L393.4,588.5Z" fill="#c8323a" stroke="#c8323a" stroke-width="2.4" stroke-linejoin="round"/>
<path d="M396.1,578.4 L400.1,577.1 L404.1,579.1 L404.8,582.4 L402.1,585.1 L398.8,585.1 L396.1,581.8Z" fill="#f3a886" stroke="#f3a886" stroke-width="2.4" stroke-linejoin="round"/>
<path d="M398.8,575.7 L405.5,576.4 L410.2,579.8 L405.5,580.4 L401.4,578.4Z" fill="#dd6d54" stroke="#dd6d54" stroke-width="2.4" stroke-linejoin="round"/>
<path d="M398.8,599.2 L402.8,593.9 L408.2,593.9 L412.2,597.9 L414.9,601.9 L414.2,607.3 L409.5,608.6 L405.5,607.3 L401.4,605.9 L398.8,603.3Z" fill="#f3a886" stroke="#f3a886" stroke-width="2.4" stroke-linejoin="round"/>
<path d="M401.4,593.9 L406.8,593.9 L409.5,599.2 L405.5,601.9 L402.1,599.2Z" fill="#dd6d54" stroke="#dd6d54" stroke-width="2.4" stroke-linejoin="round"/>
<path d="M409.5,590.5 L413.5,591.2 L414.9,596.5 L412.2,597.9Z" fill="#fbd3bd" stroke="#fbd3bd" stroke-width="2.4" stroke-linejoin="round"/>
<path d="M414.9,593.9 L420.2,594.5 L423.6,598.6 L422.3,603.3 L418.9,601.9 L415.5,599.2Z" fill="#c8323a" stroke="#c8323a" stroke-width="2.4" stroke-linejoin="round"/>
<path d="M389.4,610.0 L394.7,608.6 L398.8,607.3 L404.1,608.6 L404.1,614.0 L401.4,618.0 L400.1,620.7 L396.1,619.4 L392.0,616.0 L389.4,612.7Z" fill="#fbd3bd" stroke="#fbd3bd" stroke-width="2.4" stroke-linejoin="round"/>
<path d="M415.5,618.7 L421.6,617.4 L428.3,613.3 L427.0,620.1Z" fill="#93c6e1" stroke="#93c6e1" stroke-width="2.4" stroke-linejoin="round"/>
</g>
<g clip-path="url(#bc18)">
<path d="M243.0,685.0 C242.9,683.0 243.6,679.6 244.4,676.9 C245.2,674.2 246.4,671.5 247.7,668.9 C249.1,666.3 250.7,664.1 252.4,661.5 C254.2,658.9 256.4,655.7 258.5,653.4 C260.6,651.2 263.0,649.4 265.2,648.1 C267.4,646.7 269.0,645.8 271.9,645.4 C274.8,644.9 279.3,645.1 282.7,645.4 C286.0,645.6 288.9,646.2 292.1,647.0 C295.2,647.8 298.6,648.8 301.5,650.1 C304.4,651.4 307.1,653.0 309.5,654.8 C312.0,656.6 314.2,658.5 316.2,660.8 C318.3,663.2 320.3,666.2 321.6,668.9 C323.0,671.6 324.0,674.2 324.3,676.9 C324.6,679.6 324.4,682.8 323.6,685.0 C322.8,687.2 321.5,689.1 319.6,690.4 C317.7,691.6 314.8,692.0 312.2,692.4 C309.6,692.8 306.4,692.4 304.2,692.6 C301.9,692.9 300.0,692.9 298.8,693.7 C297.5,694.6 297.2,696.3 296.8,697.8 C296.3,699.2 296.7,701.4 296.1,702.5 C295.5,703.5 294.4,703.9 293.4,703.8 C292.4,703.7 291.5,702.8 290.1,702.0 C288.6,701.3 286.8,700.0 284.7,699.1 C282.6,698.2 279.9,697.2 277.3,696.4 C274.7,695.6 272.1,695.1 269.2,694.4 C266.3,693.7 263.0,692.9 259.8,692.4 C256.7,691.8 252.9,691.7 250.4,691.0 C248.0,690.4 246.3,689.6 245.1,688.6 C243.8,687.6 243.2,686.9 243.0,685.0Z" fill="#404040"/>
<path d="M256.5,652.1 L265.2,646.7 L268.6,646.7 L268.6,653.4 L266.5,656.1 L261.2,656.8 L258.5,656.1Z" fill="#5aa2d3" stroke="#5aa2d3" stroke-width="2.4" stroke-linejoin="round"/>
<path d="M258.5,657.5 L265.2,656.1 L270.6,656.8 L272.6,660.1 L269.2,662.2 L262.5,662.8 L259.2,662.2Z" fill="#93c6e1" stroke="#93c6e1" stroke-width="2.4" stroke-linejoin="round"/>
<path d="M269.2,644.7 L275.9,644.0 L285.4,644.3 L286.7,649.4 L284.0,653.4 L278.6,654.8 L273.3,653.4 L270.6,650.7Z" fill="#fbd3bd" stroke="#fbd3bd" stroke-width="2.4" stroke-linejoin="round"/>
<path d="M292.1,658.8 L297.4,654.8 L302.8,656.1 L308.2,660.1 L312.2,665.5 L312.2,670.9 L309.5,676.3 L306.8,674.9 L304.2,669.5 L298.8,666.9 L293.4,662.8Z" fill="#f3a886" stroke="#f3a886" stroke-width="2.4" stroke-linejoin="round"/>
<path d="M297.4,652.1 L302.8,650.7 L310.9,653.4 L317.6,659.5 L323.0,666.9 L317.6,668.2 L313.6,666.9 L309.5,661.5 L304.2,657.5 L298.8,656.1Z" fill="#93c6e1" stroke="#93c6e1" stroke-width="2.4" stroke-linejoin="round"/>
<path d="M243.0,680.3 L246.4,667.5 L252.4,662.8 L254.5,666.9 L255.8,672.2 L251.8,674.9 L249.1,677.6 L249.8,680.3 L251.8,683.0 L247.7,684.3 L245.1,684.3Z" fill="#93c6e1" stroke="#93c6e1" stroke-width="2.4" stroke-linejoin="round"/>
<path d="M241.0,685.0 L247.7,684.3 L254.5,685.7 L259.8,687.0 L266.5,688.4 L270.6,691.0 L270.6,695.7 L259.8,693.7 L250.4,692.4 L243.7,689.7Z" fill="#93c6e1" stroke="#93c6e1" stroke-width="2.4" stroke-linejoin="round"/>
<path d="M257.1,686.3 L263.9,687.0 L269.2,689.7 L270.6,693.1 L265.2,691.7 L259.8,689.7Z" fill="#5aa2d3" stroke="#5aa2d3" stroke-width="2.4" stroke-linejoin="round"/>
<path d="M271.9,695.1 L280.0,697.1 L286.7,700.4 L290.7,703.8 L284.7,700.4 L277.3,697.8Z" fill="#93c6e1" stroke="#93c6e1" stroke-width="2.4" stroke-linejoin="round"/>
<path d="M292.1,697.8 L296.8,696.4 L297.4,703.1 L294.1,704.7Z" fill="#93c6e1" stroke="#93c6e1" stroke-width="2.4" stroke-linejoin="round"/>
</g>
<g clip-path="url(#bc19)">
<path d="M346.4,682.0 C346.4,680.0 346.5,676.6 347.0,673.9 C347.6,671.2 348.5,668.3 349.7,665.9 C351.0,663.4 352.5,661.2 354.4,659.1 C356.3,657.1 358.7,655.3 361.1,653.8 C363.6,652.2 366.3,651.0 369.2,649.7 C372.1,648.5 375.5,647.2 378.6,646.4 C381.7,645.5 384.9,644.9 388.0,644.6 C391.1,644.3 394.7,644.2 397.4,644.6 C400.1,645.0 402.1,646.0 404.1,647.1 C406.1,648.1 407.7,649.3 409.5,651.1 C411.3,652.9 413.1,655.5 414.9,657.8 C416.7,660.2 418.7,662.7 420.2,665.2 C421.8,667.7 423.3,670.0 424.3,672.6 C425.3,675.2 426.2,678.4 426.3,680.6 C426.4,682.9 425.8,684.6 424.9,686.0 C424.0,687.5 422.7,688.6 420.9,689.4 C419.1,690.1 416.8,690.1 414.2,690.7 C411.6,691.3 408.3,691.9 405.5,692.7 C402.7,693.5 399.9,694.5 397.4,695.4 C394.9,696.3 392.9,697.2 390.7,698.1 C388.5,699.0 386.0,700.1 384.0,700.8 C382.0,701.5 380.2,702.0 378.6,702.1 C377.0,702.2 375.6,702.1 374.6,701.5 C373.6,700.8 372.9,699.4 372.6,698.1 C372.2,696.8 373.8,694.4 372.6,693.4 C371.3,692.4 368.0,692.5 365.2,692.1 C362.4,691.6 358.3,691.3 355.8,690.7 C353.2,690.1 351.2,689.5 349.7,688.7 C348.3,687.9 347.6,687.1 347.0,686.0 C346.5,684.9 346.4,684.0 346.4,682.0Z" fill="#404040"/>
<path d="M353.1,657.8 L361.1,652.4 L369.2,649.1 L371.9,652.4 L367.9,655.8 L366.5,659.1 L362.5,661.2 L358.5,664.5 L357.1,668.5 L355.8,664.5Z" fill="#f3a886" stroke="#f3a886" stroke-width="2.4" stroke-linejoin="round"/>
<path d="M358.5,661.8 L365.2,659.1 L367.9,661.8 L369.2,665.9 L363.8,667.9 L359.8,669.9 L357.1,669.9 L357.1,665.9Z" fill="#dd6d54" stroke="#dd6d54" stroke-width="2.4" stroke-linejoin="round"/>
<path d="M369.2,649.1 L378.6,645.4 L384.0,645.4 L386.7,649.7 L385.3,653.8 L381.3,655.1 L377.3,655.1 L373.2,653.8 L370.5,652.4Z" fill="#dd6d54" stroke="#dd6d54" stroke-width="2.4" stroke-linejoin="round"/>
<path d="M377.3,652.4 L381.3,651.8 L384.0,653.8 L381.3,656.5 L378.6,655.8Z" fill="#f3a886" stroke="#f3a886" stroke-width="2.4" stroke-linejoin="round"/>
<path d="M385.3,655.1 L392.0,652.4 L398.8,651.1 L404.1,647.7 L410.2,651.1 L406.8,653.8 L401.4,656.5 L396.1,659.1 L390.7,660.5 L386.7,659.1Z" fill="#dd6d54" stroke="#dd6d54" stroke-width="2.4" stroke-linejoin="round"/>
<path d="M400.1,645.7 L406.1,646.4 L410.8,651.1 L405.5,652.4 L401.4,651.1Z" fill="#c8323a" stroke="#c8323a" stroke-width="2.4" stroke-linejoin="round"/>
<path d="M344.4,682.0 L349.1,679.3 L354.4,679.3 L359.8,680.0 L365.2,680.6 L367.9,683.3 L371.2,687.4 L373.2,693.4 L365.2,694.1 L355.8,692.7 L348.4,690.7 L345.0,686.7Z" fill="#c2dcee" stroke="#c2dcee" stroke-width="2.4" stroke-linejoin="round"/>
<path d="M398.8,679.3 L404.1,677.9 L408.2,675.3 L410.8,671.9 L412.2,676.6 L413.5,682.0 L417.6,682.0 L418.9,686.0 L416.2,690.0 L408.2,690.7 L402.8,688.7 L400.1,684.7Z" fill="#c2dcee" stroke="#c2dcee" stroke-width="2.4" stroke-linejoin="round"/>
<path d="M397.4,686.0 L401.4,684.7 L404.1,688.7 L400.1,692.7 L394.7,695.4 L390.7,698.1 L388.0,698.1 L392.0,692.7Z" fill="#5aa2d3" stroke="#5aa2d3" stroke-width="2.4" stroke-linejoin="round"/>
<path d="M371.9,696.8 L377.3,698.1 L379.3,702.8 L373.9,702.8Z" fill="#5aa2d3" stroke="#5aa2d3" stroke-width="2.4" stroke-linejoin="round"/>
<path d="M410.8,652.4 L414.9,656.5 L416.2,661.2 L412.9,659.1Z" fill="#93c6e1" stroke="#93c6e1" stroke-width="2.4" stroke-linejoin="round"/>
</g>
<g clip-path="url(#bc20)">
<path d="M478.0,607.3 C478.0,604.8 478.6,601.8 479.4,599.2 C480.2,596.7 481.3,594.1 482.7,591.8 C484.2,589.6 486.0,587.7 488.1,585.8 C490.2,583.9 492.7,582.0 495.5,580.4 C498.3,578.9 501.8,577.6 504.9,576.4 C508.0,575.2 511.2,573.8 514.3,573.0 C517.4,572.3 520.8,571.9 523.7,571.7 C526.6,571.5 529.3,571.3 531.8,571.7 C534.2,572.1 536.2,573.0 538.5,574.4 C540.7,575.7 543.2,577.7 545.2,579.8 C547.2,581.8 548.8,584.1 550.6,586.5 C552.3,588.8 554.4,591.3 555.9,593.9 C557.5,596.4 558.9,599.5 560.0,601.9 C561.0,604.4 561.9,606.6 562.0,608.6 C562.1,610.6 561.7,612.6 560.6,614.0 C559.5,615.4 557.4,616.2 555.3,617.0 C553.1,617.7 550.3,618.3 547.9,618.7 C545.4,619.1 542.9,619.0 540.5,619.4 C538.0,619.7 535.7,620.2 533.1,620.7 C530.5,621.2 527.5,621.7 525.0,622.3 C522.6,623.0 520.2,623.8 518.3,624.8 C516.4,625.7 515.0,627.3 513.6,628.1 C512.3,629.0 511.2,629.7 510.3,629.9 C509.4,630.0 508.6,629.6 508.2,628.8 C507.9,627.9 508.2,625.9 508.2,624.8 C508.3,623.6 509.9,622.7 508.7,622.1 C507.4,621.4 503.5,621.1 500.9,620.7 C498.2,620.4 495.5,620.4 492.8,620.1 C490.1,619.7 487.0,619.7 484.7,618.7 C482.5,617.7 480.5,615.9 479.4,614.0 C478.3,612.1 478.0,609.8 478.0,607.3Z" fill="#404040"/>
<path d="M502.9,578.4 L507.6,575.7 L512.3,575.1 L512.3,579.1 L508.9,581.1 L504.2,581.1Z" fill="#c2dcee" stroke="#c2dcee" stroke-width="2.4" stroke-linejoin="round"/>
<path d="M512.3,573.0 L518.3,571.3 L522.4,571.3 L521.0,576.4 L517.0,577.7 L513.6,577.1Z" fill="#dd6d54" stroke="#dd6d54" stroke-width="2.4" stroke-linejoin="round"/>
<path d="M519.0,575.7 L523.7,571.3 L531.8,571.3 L533.8,576.4 L530.4,580.4 L526.4,581.1 L523.7,584.5 L520.3,581.8Z" fill="#f3a886" stroke="#f3a886" stroke-width="2.4" stroke-linejoin="round"/>
<path d="M535.1,583.1 L538.5,579.8 L541.8,580.4 L543.8,584.5 L541.8,588.5 L538.5,589.8 L535.8,587.1Z" fill="#93c6e1" stroke="#93c6e1" stroke-width="2.4" stroke-linejoin="round"/>
<path d="M543.8,578.4 L549.2,582.4 L553.9,589.8 L549.2,591.2 L545.2,587.1Z" fill="#c2dcee" stroke="#c2dcee" stroke-width="2.4" stroke-linejoin="round"/>
<path d="M522.4,592.5 L527.7,590.5 L531.8,591.2 L533.1,593.9 L531.8,595.9 L523.7,595.9Z" fill="#c8323a" stroke="#c8323a" stroke-width="2.4" stroke-linejoin="round"/>
<path d="M505.6,592.5 L510.3,589.8 L514.3,589.2 L514.3,593.9 L511.6,597.2 L506.2,598.6Z" fill="#fbd3bd" stroke="#fbd3bd" stroke-width="2.4" stroke-linejoin="round"/>
<path d="M496.8,607.3 L500.9,604.6 L506.2,603.9 L512.9,603.9 L518.3,605.9 L519.7,608.6 L515.6,611.3 L512.9,614.0 L510.3,618.7 L506.2,618.0 L502.2,612.7 L497.5,611.3Z" fill="#f3a886" stroke="#f3a886" stroke-width="2.4" stroke-linejoin="round"/>
<path d="M506.2,604.6 L512.9,603.9 L518.3,605.9 L514.3,610.0 L508.9,608.6Z" fill="#fbd3bd" stroke="#fbd3bd" stroke-width="2.4" stroke-linejoin="round"/>
<path d="M482.1,615.4 L488.8,614.0 L494.1,615.4 L498.2,618.0 L500.2,621.4 L492.8,621.4 L484.7,620.1Z" fill="#2461a9" stroke="#2461a9" stroke-width="2.4" stroke-linejoin="round"/>
<path d="M537.1,618.0 L541.2,612.7 L543.8,608.6 L547.2,610.0 L546.5,614.0 L543.8,618.0 L540.5,619.4Z" fill="#c2dcee" stroke="#c2dcee" stroke-width="2.4" stroke-linejoin="round"/>
<path d="M512.9,628.8 L518.3,626.1 L525.0,623.4 L533.1,621.4 L542.5,619.6 L543.8,621.4 L533.1,623.4 L525.0,625.4 L518.3,628.1Z" fill="#c2dcee" stroke="#c2dcee" stroke-width="2.4" stroke-linejoin="round"/>
</g>
<g clip-path="url(#bc21)">
<path d="M582.4,608.6 C582.5,606.7 582.9,604.3 583.7,601.9 C584.5,599.6 585.7,597.0 587.1,594.5 C588.4,592.1 590.1,589.5 591.8,587.1 C593.5,584.8 595.1,582.4 597.1,580.4 C599.2,578.4 601.6,576.4 603.9,575.1 C606.1,573.7 607.9,572.8 610.6,572.4 C613.3,571.9 616.6,572.1 620.0,572.4 C623.3,572.6 627.6,573.3 630.7,574.0 C633.9,574.7 636.3,575.6 638.8,576.7 C641.2,577.7 643.3,578.9 645.5,580.4 C647.7,582.0 650.2,583.8 652.2,585.8 C654.2,587.8 656.0,590.2 657.6,592.5 C659.2,594.9 660.6,597.4 661.6,599.9 C662.6,602.4 663.5,605.1 663.6,607.3 C663.7,609.5 663.2,611.7 662.3,613.3 C661.4,614.9 660.0,616.1 658.3,617.0 C656.5,617.9 653.9,618.3 651.5,618.7 C649.2,619.2 646.2,619.3 644.2,619.6 C642.1,620.0 640.6,619.9 639.5,620.7 C638.3,621.6 637.7,623.3 637.2,624.8 C636.6,626.2 636.7,628.4 636.1,629.5 C635.5,630.5 634.4,631.1 633.4,631.2 C632.4,631.3 631.5,630.6 630.1,629.9 C628.6,629.1 626.9,627.8 624.7,626.8 C622.4,625.7 619.3,624.3 616.6,623.4 C613.9,622.5 611.2,622.1 608.6,621.4 C605.9,620.7 603.2,619.9 600.5,619.4 C597.8,618.8 594.9,618.6 592.4,618.0 C590.0,617.5 587.3,616.8 585.7,616.0 C584.2,615.2 583.6,614.6 583.0,613.3 C582.5,612.1 582.3,610.5 582.4,608.6Z" fill="#404040"/>
<path d="M580.4,608.6 L581.7,601.9 L587.7,600.6 L591.8,601.9 L592.4,607.3 L590.4,611.3 L589.8,617.4 L585.1,617.4 L581.0,614.0Z" fill="#c2dcee" stroke="#c2dcee" stroke-width="2.4" stroke-linejoin="round"/>
<path d="M592.4,583.1 L597.1,579.8 L597.1,585.8 L594.5,587.1Z" fill="#c2dcee" stroke="#c2dcee" stroke-width="2.4" stroke-linejoin="round"/>
<path d="M601.2,577.1 L607.9,572.4 L611.2,571.8 L610.6,576.4 L606.5,579.8 L603.9,580.4Z" fill="#c8323a" stroke="#c8323a" stroke-width="2.4" stroke-linejoin="round"/>
<path d="M613.3,582.4 L616.6,579.1 L620.0,582.4 L622.0,587.1 L620.0,590.5 L617.3,587.8Z" fill="#dd6d54" stroke="#dd6d54" stroke-width="2.4" stroke-linejoin="round"/>
<path d="M605.9,593.9 L610.6,591.8 L615.9,593.2 L620.6,597.9 L621.3,600.6 L617.3,601.2 L613.3,605.3 L610.6,601.9 L607.2,597.9Z" fill="#f3a886" stroke="#f3a886" stroke-width="2.4" stroke-linejoin="round"/>
<path d="M622.7,591.2 L627.4,589.8 L630.1,593.2 L630.7,599.2 L629.4,603.3 L625.4,603.3 L623.3,597.9Z" fill="#fbd3bd" stroke="#fbd3bd" stroke-width="2.4" stroke-linejoin="round"/>
<path d="M625.4,581.8 L630.1,580.4 L632.7,583.8 L630.7,587.1 L627.4,587.1Z" fill="#c8323a" stroke="#c8323a" stroke-width="2.4" stroke-linejoin="round"/>
<path d="M630.7,579.1 L634.8,576.4 L638.8,577.1 L640.1,581.1 L638.1,584.5 L634.8,585.1 L631.4,583.1Z" fill="#f3a886" stroke="#f3a886" stroke-width="2.4" stroke-linejoin="round"/>
<path d="M632.1,597.9 L636.1,594.5 L641.5,595.2 L645.5,599.2 L646.8,604.6 L644.2,607.3 L638.8,607.3 L634.1,605.3Z" fill="#fbd3bd" stroke="#fbd3bd" stroke-width="2.4" stroke-linejoin="round"/>
<path d="M636.1,593.9 L641.5,592.5 L646.8,596.5 L649.5,600.6 L648.2,604.6 L644.2,601.9 L640.1,599.2Z" fill="#f3a886" stroke="#f3a886" stroke-width="2.4" stroke-linejoin="round"/>
<path d="M644.2,589.8 L648.2,591.2 L649.5,595.9 L646.8,597.2Z" fill="#fbd3bd" stroke="#fbd3bd" stroke-width="2.4" stroke-linejoin="round"/>
<path d="M649.5,593.9 L654.9,593.9 L658.9,597.9 L658.9,601.9 L655.6,603.3 L651.5,599.2Z" fill="#dd6d54" stroke="#dd6d54" stroke-width="2.4" stroke-linejoin="round"/>
<path d="M642.8,607.3 L646.8,607.3 L649.5,611.3 L650.9,616.0 L646.8,618.0 L644.8,614.0Z" fill="#c2dcee" stroke="#c2dcee" stroke-width="2.4" stroke-linejoin="round"/>
<path d="M657.6,611.3 L661.6,610.0 L665.6,613.3 L660.3,618.0Z" fill="#c2dcee" stroke="#c2dcee" stroke-width="2.4" stroke-linejoin="round"/>
</g>
<g clip-path="url(#bc22)">
<path d="M482.0,685.0 C481.9,683.1 482.6,679.6 483.4,676.9 C484.2,674.2 485.4,671.5 486.7,668.9 C488.1,666.3 489.7,664.1 491.4,661.5 C493.2,658.9 495.4,655.6 497.5,653.4 C499.6,651.3 502.0,649.9 504.2,648.7 C506.4,647.6 508.0,646.9 510.9,646.4 C513.8,646.0 518.3,645.9 521.7,646.0 C525.0,646.2 527.9,646.6 531.1,647.4 C534.2,648.1 537.6,649.2 540.5,650.5 C543.4,651.8 546.1,653.2 548.5,655.0 C551.0,656.9 553.3,659.2 555.2,661.5 C557.1,663.8 558.7,666.3 559.9,668.9 C561.2,671.5 562.3,674.2 562.6,676.9 C563.0,679.6 562.7,682.8 562.0,685.0 C561.2,687.2 559.7,688.8 557.9,690.0 C556.1,691.1 553.7,691.7 551.2,692.1 C548.7,692.5 545.4,692.2 543.2,692.4 C540.9,692.6 539.1,692.6 537.8,693.5 C536.4,694.3 535.7,696.3 535.1,697.8 C534.5,699.2 535.0,701.2 534.4,702.0 C533.9,702.9 532.7,703.2 531.7,703.1 C530.7,703.0 529.8,702.3 528.4,701.5 C526.9,700.7 525.1,699.4 523.0,698.4 C520.9,697.5 518.2,696.5 515.6,695.7 C513.0,695.0 510.4,694.4 507.6,693.7 C504.8,693.1 501.9,692.3 498.8,691.7 C495.8,691.1 491.9,690.5 489.4,690.0 C487.0,689.4 485.3,689.2 484.1,688.4 C482.8,687.5 482.2,686.9 482.0,685.0Z" fill="#404040"/>
<path d="M495.5,652.8 L504.2,647.4 L508.2,647.4 L507.6,653.4 L505.5,656.8 L500.2,657.5 L496.1,657.5Z" fill="#93c6e1" stroke="#93c6e1" stroke-width="2.4" stroke-linejoin="round"/>
<path d="M508.2,646.0 L516.3,645.1 L524.4,645.4 L525.7,650.7 L528.4,654.8 L531.1,657.5 L529.7,661.5 L525.7,662.8 L521.7,660.1 L516.3,656.1 L510.9,653.4 L508.9,650.7Z" fill="#fbd3bd" stroke="#fbd3bd" stroke-width="2.4" stroke-linejoin="round"/>
<path d="M531.1,656.1 L536.4,654.1 L540.5,657.5 L543.2,661.5 L541.8,665.5 L537.8,666.9 L532.4,662.8Z" fill="#f3a886" stroke="#f3a886" stroke-width="2.4" stroke-linejoin="round"/>
<path d="M541.8,662.8 L544.5,662.8 L548.5,666.9 L549.9,672.2 L548.5,676.3 L544.5,673.6 L541.8,669.5Z" fill="#fbd3bd" stroke="#fbd3bd" stroke-width="2.4" stroke-linejoin="round"/>
<path d="M481.4,680.3 L485.4,668.2 L491.4,662.2 L493.5,666.9 L494.8,672.2 L490.8,674.9 L488.8,678.9 L489.4,683.0 L490.8,686.3 L486.7,687.0 L482.7,685.7Z" fill="#93c6e1" stroke="#93c6e1" stroke-width="2.4" stroke-linejoin="round"/>
<path d="M480.0,685.0 L486.7,687.0 L493.5,687.7 L500.2,687.0 L506.9,688.4 L509.6,691.7 L508.2,695.1 L498.8,693.7 L489.4,692.4 L482.7,690.4Z" fill="#93c6e1" stroke="#93c6e1" stroke-width="2.4" stroke-linejoin="round"/>
<path d="M496.1,688.4 L502.9,687.7 L508.2,689.7 L509.6,692.6 L502.9,691.7 L497.5,690.4Z" fill="#5aa2d3" stroke="#5aa2d3" stroke-width="2.4" stroke-linejoin="round"/>
<path d="M509.6,693.7 L517.6,696.4 L523.0,698.4 L529.7,703.1 L523.0,700.4 L515.6,697.1Z" fill="#93c6e1" stroke="#93c6e1" stroke-width="2.4" stroke-linejoin="round"/>
<path d="M531.1,697.8 L534.4,696.4 L535.8,702.5 L532.4,704.2Z" fill="#93c6e1" stroke="#93c6e1" stroke-width="2.4" stroke-linejoin="round"/>
</g>
<g clip-path="url(#bc23)">
<path d="M583.4,681.6 C583.4,679.5 583.4,676.3 584.0,673.6 C584.7,670.9 586.0,668.0 587.4,665.5 C588.7,663.1 590.2,660.7 592.1,658.8 C594.0,656.9 596.3,655.4 598.8,654.1 C601.3,652.8 604.0,651.9 606.9,650.7 C609.8,649.6 613.1,648.2 616.3,647.4 C619.4,646.6 622.5,646.3 625.7,646.0 C628.8,645.8 632.4,645.6 635.1,646.0 C637.8,646.5 639.8,647.5 641.8,648.7 C643.8,650.0 645.4,651.5 647.2,653.4 C648.9,655.3 650.7,657.7 652.5,660.1 C654.3,662.6 656.4,665.5 657.9,668.2 C659.4,670.9 660.5,673.8 661.3,676.3 C662.0,678.7 662.8,681.2 662.6,683.0 C662.4,684.8 661.1,686.0 659.9,687.0 C658.7,688.0 657.3,688.4 655.2,689.0 C653.1,689.7 649.8,690.3 647.2,691.0 C644.5,691.8 641.6,692.8 639.1,693.7 C636.6,694.6 634.6,695.5 632.4,696.4 C630.1,697.3 627.8,698.2 625.7,699.1 C623.5,699.9 621.4,700.8 619.6,701.5 C617.8,702.2 616.5,703.0 614.9,703.1 C613.4,703.3 611.3,703.1 610.2,702.5 C609.1,701.8 608.4,700.5 608.2,699.1 C608.0,697.6 610.0,694.8 608.9,693.7 C607.8,692.6 604.1,693.0 601.5,692.6 C598.9,692.3 595.9,692.2 593.4,691.7 C591.0,691.2 588.3,690.6 586.7,689.7 C585.1,688.8 584.6,687.7 584.0,686.3 C583.5,685.0 583.4,683.8 583.4,681.6Z" fill="#404040"/>
<path d="M590.7,657.5 L598.8,652.8 L606.9,649.7 L608.9,653.4 L605.5,657.5 L604.2,661.5 L601.5,665.5 L598.8,669.5 L596.1,672.2 L594.1,666.9Z" fill="#fbd3bd" stroke="#fbd3bd" stroke-width="2.4" stroke-linejoin="round"/>
<path d="M596.1,662.8 L602.8,660.1 L605.5,662.8 L606.2,666.9 L601.5,668.9 L598.1,671.6 L595.4,670.9Z" fill="#f3a886" stroke="#f3a886" stroke-width="2.4" stroke-linejoin="round"/>
<path d="M606.9,649.7 L616.3,646.4 L620.3,646.4 L623.0,652.1 L621.6,655.4 L617.6,656.1 L613.6,656.1 L609.5,656.8 L606.9,654.8Z" fill="#dd6d54" stroke="#dd6d54" stroke-width="2.4" stroke-linejoin="round"/>
<path d="M624.3,656.1 L631.0,653.4 L637.8,652.1 L639.1,649.4 L641.8,649.4 L647.2,654.1 L643.1,656.1 L639.1,658.8 L633.7,661.5 L628.4,662.2 L624.3,660.1Z" fill="#dd6d54" stroke="#dd6d54" stroke-width="2.4" stroke-linejoin="round"/>
<path d="M637.8,646.7 L643.1,647.4 L649.2,652.8 L643.1,654.8 L639.8,651.4Z" fill="#c8323a" stroke="#c8323a" stroke-width="2.4" stroke-linejoin="round"/>
<path d="M581.3,681.6 L585.4,681.0 L590.7,681.6 L596.1,683.0 L601.5,683.0 L605.5,685.7 L608.2,689.7 L609.5,694.4 L601.5,694.4 L593.4,693.5 L585.4,691.0 L582.0,687.0Z" fill="#c2dcee" stroke="#c2dcee" stroke-width="2.4" stroke-linejoin="round"/>
<path d="M636.4,681.6 L641.8,678.9 L645.8,676.3 L648.5,674.2 L649.8,678.9 L652.5,684.3 L655.2,686.3 L653.2,689.0 L647.2,690.8 L640.4,691.0 L637.8,687.0Z" fill="#c2dcee" stroke="#c2dcee" stroke-width="2.4" stroke-linejoin="round"/>
<path d="M632.4,688.4 L637.8,687.0 L640.4,689.7 L636.4,693.1 L631.0,696.4 L625.7,699.1 L628.4,693.7Z" fill="#5aa2d3" stroke="#5aa2d3" stroke-width="2.4" stroke-linejoin="round"/>
<path d="M607.5,696.4 L612.2,697.8 L614.9,704.5 L609.5,704.2Z" fill="#5aa2d3" stroke="#5aa2d3" stroke-width="2.4" stroke-linejoin="round"/>
<path d="M647.2,654.8 L650.5,656.8 L652.5,660.8 L648.5,658.8Z" fill="#93c6e1" stroke="#93c6e1" stroke-width="2.4" stroke-linejoin="round"/>
</g>
<g clip-path="url(#bc24)">
<path d="M18.4,774.3 C18.4,771.7 18.4,768.8 19.0,766.2 C19.7,763.7 20.9,761.1 22.4,758.8 C23.9,756.6 25.5,754.7 27.8,752.8 C30.0,750.9 33.1,749.0 35.8,747.4 C38.5,745.9 41.0,744.6 43.9,743.4 C46.8,742.2 50.2,741.1 53.3,740.4 C56.4,739.8 59.8,739.6 62.7,739.4 C65.6,739.2 68.3,739.0 70.8,739.4 C73.2,739.8 75.2,740.5 77.5,741.8 C79.7,743.1 82.2,745.1 84.2,747.2 C86.2,749.2 87.8,751.5 89.6,753.9 C91.3,756.3 93.4,758.9 94.9,761.5 C96.5,764.2 98.1,767.1 99.0,769.6 C99.9,772.1 100.3,774.3 100.3,776.3 C100.3,778.3 100.1,780.3 99.0,781.7 C97.8,783.1 95.6,784.0 93.6,784.8 C91.6,785.5 89.1,785.8 86.9,786.1 C84.6,786.4 82.6,786.4 80.2,786.6 C77.7,786.9 74.8,787.3 72.1,787.7 C69.4,788.1 66.5,788.4 64.0,789.1 C61.6,789.7 59.1,790.6 57.3,791.8 C55.5,792.9 54.6,794.7 53.3,795.8 C51.9,796.9 50.5,798.0 49.3,798.2 C48.0,798.4 46.6,797.9 45.9,796.9 C45.2,795.8 45.0,793.1 45.0,791.8 C45.0,790.5 46.8,789.7 45.9,789.1 C45.1,788.4 42.2,788.1 39.9,787.7 C37.5,787.4 34.5,787.4 31.8,787.1 C29.1,786.7 25.9,786.6 23.7,785.7 C21.6,784.8 19.9,783.6 19.0,781.7 C18.1,779.8 18.4,776.9 18.4,774.3Z" fill="#404040"/>
<path d="M17.0,766.2 L20.4,757.5 L26.4,751.5 L30.5,751.5 L27.8,756.8 L23.7,762.2 L21.1,767.6Z" fill="#2461a9" stroke="#2461a9" stroke-width="2.4" stroke-linejoin="round"/>
<path d="M26.4,752.1 L35.8,746.1 L43.9,742.3 L47.9,743.4 L46.6,747.4 L41.2,750.1 L35.8,752.8 L30.5,755.5 L27.8,756.2Z" fill="#93c6e1" stroke="#93c6e1" stroke-width="2.4" stroke-linejoin="round"/>
<path d="M39.9,746.1 L45.2,743.4 L50.6,742.7 L50.6,747.4 L46.6,749.4 L41.9,749.4Z" fill="#5aa2d3" stroke="#5aa2d3" stroke-width="2.4" stroke-linejoin="round"/>
<path d="M51.9,740.7 L58.7,738.7 L64.0,738.7 L61.4,744.7 L57.3,746.8 L53.3,745.4Z" fill="#c8323a" stroke="#c8323a" stroke-width="2.4" stroke-linejoin="round"/>
<path d="M57.3,744.7 L64.0,738.7 L70.8,738.7 L72.1,743.4 L69.4,747.4 L64.0,748.8 L60.0,753.5 L57.3,750.1Z" fill="#dd6d54" stroke="#dd6d54" stroke-width="2.4" stroke-linejoin="round"/>
<path d="M72.1,750.1 L76.1,746.8 L81.5,744.7 L86.9,748.1 L91.6,754.1 L92.2,759.5 L88.2,763.5 L82.8,766.2 L78.8,767.6 L76.1,764.9 L73.4,760.9 L71.4,755.5Z" fill="#93c6e1" stroke="#93c6e1" stroke-width="2.4" stroke-linejoin="round"/>
<path d="M74.8,751.5 L80.2,748.8 L84.2,751.5 L85.5,758.2 L81.5,760.9 L77.5,759.5 L74.8,755.5Z" fill="#c2dcee" stroke="#c2dcee" stroke-width="2.4" stroke-linejoin="round"/>
<path d="M56.0,764.2 L60.0,761.5 L64.0,760.9 L65.4,764.9 L64.0,766.9 L57.3,766.9Z" fill="#8c0c26" stroke="#8c0c26" stroke-width="2.4" stroke-linejoin="round"/>
<path d="M39.9,766.2 L43.9,762.9 L47.9,760.9 L49.9,766.2 L47.2,769.2 L41.2,769.6Z" fill="#f3a886" stroke="#f3a886" stroke-width="2.4" stroke-linejoin="round"/>
<path d="M41.9,762.2 L47.9,760.2 L51.9,760.9 L53.3,766.2 L49.3,768.9 L42.5,768.2Z" fill="#fbd3bd" stroke="#fbd3bd" stroke-width="2.4" stroke-linejoin="round"/>
<path d="M23.7,772.9 L27.8,766.2 L31.8,762.9 L33.8,768.9 L32.5,774.3 L26.4,775.6Z" fill="#fbd3bd" stroke="#fbd3bd" stroke-width="2.4" stroke-linejoin="round"/>
<path d="M33.1,777.0 L38.5,774.3 L45.2,772.9 L50.6,775.0 L56.0,777.0 L53.3,781.0 L49.3,785.7 L45.2,787.1 L41.2,783.7 L34.5,781.0Z" fill="#dd6d54" stroke="#dd6d54" stroke-width="2.4" stroke-linejoin="round"/>
<path d="M41.2,779.7 L46.6,777.6 L53.3,777.0 L56.0,778.3 L53.3,782.4 L49.3,786.4 L45.2,787.1 L41.9,783.7Z" fill="#c8323a" stroke="#c8323a" stroke-width="2.4" stroke-linejoin="round"/>
<path d="M62.7,778.3 L66.7,775.6 L70.8,771.6 L74.8,769.6 L76.1,775.6 L73.4,779.7 L66.7,780.3Z" fill="#fbd3bd" stroke="#fbd3bd" stroke-width="2.4" stroke-linejoin="round"/>
<path d="M74.8,781.0 L78.8,778.3 L81.5,780.3 L81.5,784.4 L78.8,786.4 L74.8,786.4Z" fill="#93c6e1" stroke="#93c6e1" stroke-width="2.4" stroke-linejoin="round"/>
<path d="M18.4,782.4 L26.4,784.0 L33.1,785.0 L37.2,787.5 L31.8,788.4 L22.4,787.1Z" fill="#5aa2d3" stroke="#5aa2d3" stroke-width="2.4" stroke-linejoin="round"/>
<path d="M53.3,796.5 L57.3,793.8 L64.0,790.4 L72.1,788.4 L82.8,787.1 L82.8,789.1 L72.1,790.4 L64.0,792.4 L57.3,795.8Z" fill="#93c6e1" stroke="#93c6e1" stroke-width="2.4" stroke-linejoin="round"/>
</g>
<g clip-path="url(#bc25)">
<path d="M122.4,776.0 C122.6,774.2 122.9,771.2 123.7,768.6 C124.5,766.0 125.7,763.1 127.1,760.5 C128.4,758.0 130.1,755.5 131.8,753.1 C133.5,750.8 135.1,748.4 137.1,746.4 C139.2,744.4 141.5,742.4 143.9,741.1 C146.2,739.8 148.6,739.0 151.2,738.6 C153.9,738.2 156.7,738.3 160.0,738.6 C163.2,738.9 167.6,739.6 170.7,740.4 C173.9,741.1 176.3,742.1 178.8,743.1 C181.2,744.1 183.3,745.0 185.5,746.4 C187.7,747.9 190.2,749.8 192.2,751.8 C194.2,753.8 196.0,756.2 197.6,758.5 C199.2,760.9 200.6,763.4 201.6,765.9 C202.6,768.4 203.5,771.1 203.6,773.3 C203.7,775.5 203.2,777.7 202.3,779.3 C201.4,780.9 200.0,782.1 198.3,783.0 C196.5,783.9 193.9,784.3 191.5,784.7 C189.2,785.2 186.3,785.3 184.2,785.6 C182.0,786.0 180.1,785.9 178.8,786.7 C177.4,787.6 176.8,789.3 176.1,790.8 C175.4,792.2 175.4,794.4 174.8,795.5 C174.1,796.5 173.1,797.1 172.1,797.2 C171.1,797.3 170.2,796.6 168.7,795.9 C167.3,795.1 165.5,793.8 163.3,792.8 C161.2,791.7 158.5,790.4 155.9,789.4 C153.4,788.4 150.6,787.5 147.9,786.7 C145.2,785.9 142.5,785.3 139.8,784.7 C137.1,784.1 134.2,783.9 131.8,783.4 C129.3,782.8 126.6,782.0 125.1,781.4 C123.5,780.7 123.1,780.2 122.6,779.3 C122.2,778.4 122.2,777.8 122.4,776.0Z" fill="#404040"/>
<path d="M126.4,771.9 L130.4,767.9 L132.4,771.9 L131.1,776.0 L129.1,777.3 L127.1,776.0Z" fill="#c2dcee" stroke="#c2dcee" stroke-width="2.4" stroke-linejoin="round"/>
<path d="M134.5,758.5 L138.5,756.5 L142.5,757.8 L143.2,761.2 L139.8,763.2 L135.8,762.5Z" fill="#5aa2d3" stroke="#5aa2d3" stroke-width="2.4" stroke-linejoin="round"/>
<path d="M131.8,755.2 L135.8,753.8 L137.1,757.2 L133.1,759.9 L131.1,758.5Z" fill="#f3a886" stroke="#f3a886" stroke-width="2.4" stroke-linejoin="round"/>
<path d="M142.5,743.1 L147.9,739.0 L150.6,738.4 L149.9,743.7 L146.5,745.8 L143.9,746.4Z" fill="#8c0c26" stroke="#8c0c26" stroke-width="2.4" stroke-linejoin="round"/>
<path d="M153.3,747.8 L157.3,746.4 L160.0,750.5 L161.3,755.8 L160.0,759.9 L157.3,756.5 L153.9,751.8Z" fill="#dd6d54" stroke="#dd6d54" stroke-width="2.4" stroke-linejoin="round"/>
<path d="M144.5,761.2 L150.6,759.9 L155.9,761.9 L158.6,766.6 L155.9,769.3 L151.9,770.6 L149.2,769.3 L145.9,765.9Z" fill="#f3a886" stroke="#f3a886" stroke-width="2.4" stroke-linejoin="round"/>
<path d="M161.3,759.2 L166.7,757.8 L169.4,761.9 L169.4,767.9 L166.7,770.6 L163.3,769.3 L162.0,764.6Z" fill="#f3a886" stroke="#f3a886" stroke-width="2.4" stroke-linejoin="round"/>
<path d="M164.0,749.8 L169.4,747.8 L172.1,751.1 L170.7,754.5 L167.4,755.2 L164.7,753.1Z" fill="#8c0c26" stroke="#8c0c26" stroke-width="2.4" stroke-linejoin="round"/>
<path d="M170.1,746.4 L174.1,744.4 L178.1,745.8 L178.8,749.1 L176.1,751.8 L172.1,751.8 L170.1,749.1Z" fill="#fbd3bd" stroke="#fbd3bd" stroke-width="2.4" stroke-linejoin="round"/>
<path d="M169.4,765.2 L173.4,761.2 L180.1,759.9 L185.5,763.9 L188.2,770.6 L184.2,773.3 L178.8,773.3 L173.4,771.9 L170.7,769.9Z" fill="#f3a886" stroke="#f3a886" stroke-width="2.4" stroke-linejoin="round"/>
<path d="M161.3,777.3 L168.0,774.6 L173.4,773.3 L177.4,776.0 L177.4,781.4 L174.8,785.4 L173.4,789.4 L169.4,786.7 L165.4,784.0 L162.7,780.7Z" fill="#dd6d54" stroke="#dd6d54" stroke-width="2.4" stroke-linejoin="round"/>
<path d="M186.8,760.5 L192.2,761.2 L197.6,765.2 L198.9,769.3 L194.9,770.6 L190.2,769.3 L187.5,765.2Z" fill="#dd6d54" stroke="#dd6d54" stroke-width="2.4" stroke-linejoin="round"/>
<path d="M186.8,746.4 L193.6,750.5 L199.6,757.8 L203.0,763.9 L197.6,764.6 L193.6,761.2 L189.5,758.5 L186.8,753.1Z" fill="#93c6e1" stroke="#93c6e1" stroke-width="2.4" stroke-linejoin="round"/>
<path d="M193.6,771.9 L198.9,769.3 L205.6,771.9 L205.0,779.3 L198.9,782.7 L195.6,778.7Z" fill="#93c6e1" stroke="#93c6e1" stroke-width="2.4" stroke-linejoin="round"/>
<path d="M178.8,774.6 L182.8,773.3 L186.8,776.0 L189.5,780.0 L190.2,784.0 L185.5,784.7 L184.2,780.0 L180.8,777.3Z" fill="#93c6e1" stroke="#93c6e1" stroke-width="2.4" stroke-linejoin="round"/>
<path d="M135.8,782.7 L139.8,781.4 L143.9,783.4 L142.5,786.7 L137.1,786.1Z" fill="#fbd3bd" stroke="#fbd3bd" stroke-width="2.4" stroke-linejoin="round"/>
<path d="M184.2,784.7 L192.2,784.7 L192.2,786.7 L184.2,786.7Z" fill="#93c6e1" stroke="#93c6e1" stroke-width="2.4" stroke-linejoin="round"/>
</g>
<g clip-path="url(#bc26)">
<path d="M21.4,855.7 C21.3,853.9 21.9,850.3 22.7,847.6 C23.5,844.9 24.7,842.2 26.1,839.5 C27.4,836.9 29.1,834.1 30.8,831.5 C32.5,828.9 34.1,826.2 36.1,824.1 C38.2,822.0 40.6,820.1 42.9,818.7 C45.1,817.4 46.7,816.6 49.6,816.0 C52.5,815.5 57.0,815.4 60.3,815.6 C63.7,815.9 66.6,816.5 69.7,817.4 C72.9,818.2 76.2,819.4 79.1,820.7 C82.0,822.1 84.7,823.7 87.2,825.4 C89.6,827.2 92.0,829.1 93.9,831.5 C95.8,833.8 97.4,836.9 98.6,839.5 C99.8,842.2 100.9,844.9 101.3,847.6 C101.6,850.3 101.4,853.4 100.6,855.7 C99.8,857.9 98.6,859.7 96.6,861.0 C94.6,862.3 91.2,862.9 88.5,863.5 C85.8,864.0 82.5,864.0 80.5,864.4 C78.5,864.8 77.3,865.0 76.4,865.7 C75.5,866.5 75.4,867.9 75.1,869.1 C74.8,870.3 75.0,872.3 74.4,873.1 C73.9,874.0 72.7,874.3 71.7,874.2 C70.7,874.1 69.8,873.3 68.4,872.5 C66.9,871.6 65.0,870.1 63.0,869.1 C61.0,868.1 58.8,867.3 56.3,866.4 C53.8,865.5 51.1,864.5 48.2,863.7 C45.3,862.9 42.0,862.3 38.8,861.7 C35.7,861.1 32.0,860.9 29.4,860.4 C26.9,859.8 24.7,859.1 23.4,858.4 C22.0,857.6 21.5,857.5 21.4,855.7Z" fill="#404040"/>
<path d="M34.8,822.8 L42.9,817.8 L46.2,818.1 L46.2,824.8 L48.2,828.8 L49.6,832.8 L45.5,834.8 L40.2,835.5 L37.5,834.2 L36.1,828.8Z" fill="#5aa2d3" stroke="#5aa2d3" stroke-width="2.4" stroke-linejoin="round"/>
<path d="M37.5,834.8 L42.9,834.2 L49.6,833.5 L54.9,834.2 L59.0,834.8 L63.0,835.5 L56.3,836.9 L50.9,838.2 L48.2,842.2 L46.2,846.3 L42.9,844.9 L40.2,842.2 L38.2,838.2Z" fill="#93c6e1" stroke="#93c6e1" stroke-width="2.4" stroke-linejoin="round"/>
<path d="M29.4,840.9 L32.1,837.5 L34.8,842.2 L36.1,845.6 L32.8,846.3 L30.1,844.9Z" fill="#c2dcee" stroke="#c2dcee" stroke-width="2.4" stroke-linejoin="round"/>
<path d="M19.4,855.7 L20.7,849.6 L25.4,848.9 L29.4,851.6 L30.8,855.7 L28.1,859.7 L22.0,859.7Z" fill="#c2dcee" stroke="#c2dcee" stroke-width="2.4" stroke-linejoin="round"/>
<path d="M37.5,860.4 L42.9,859.7 L48.2,861.0 L49.6,865.1 L42.9,863.7 L38.8,862.6Z" fill="#93c6e1" stroke="#93c6e1" stroke-width="2.4" stroke-linejoin="round"/>
<path d="M46.9,816.0 L53.6,814.7 L61.7,814.7 L63.7,820.7 L65.7,824.8 L64.4,828.8 L60.3,828.8 L54.9,826.1 L49.6,823.4 L47.6,820.7Z" fill="#dd6d54" stroke="#dd6d54" stroke-width="2.4" stroke-linejoin="round"/>
<path d="M60.3,826.1 L65.7,824.8 L69.1,827.5 L69.7,832.8 L68.4,834.8 L64.4,834.2 L61.7,831.5Z" fill="#f3a886" stroke="#f3a886" stroke-width="2.4" stroke-linejoin="round"/>
<path d="M69.7,826.8 L75.1,825.4 L79.1,827.5 L81.8,831.5 L82.5,836.2 L80.5,838.2 L75.1,836.9 L71.1,834.2Z" fill="#dd6d54" stroke="#dd6d54" stroke-width="2.4" stroke-linejoin="round"/>
<path d="M79.1,836.9 L83.2,834.2 L87.2,836.9 L89.9,840.9 L89.2,846.3 L85.8,848.9 L81.8,846.3 L79.1,842.2Z" fill="#f3a886" stroke="#f3a886" stroke-width="2.4" stroke-linejoin="round"/>
<path d="M76.4,823.4 L81.8,823.4 L88.5,825.4 L95.9,831.5 L100.6,839.5 L103.3,847.6 L102.6,853.0 L97.9,851.6 L96.6,844.9 L92.6,839.5 L88.5,835.5 L83.2,831.5 L79.1,828.8Z" fill="#93c6e1" stroke="#93c6e1" stroke-width="2.4" stroke-linejoin="round"/>
<path d="M87.2,828.1 L93.9,830.8 L98.6,835.5 L102.0,842.2 L97.9,844.9 L93.9,840.9 L89.9,835.5Z" fill="#5aa2d3" stroke="#5aa2d3" stroke-width="2.4" stroke-linejoin="round"/>
<path d="M76.4,863.7 L81.8,862.4 L88.5,862.4 L97.9,860.8 L96.6,863.7 L88.5,865.1 L80.5,865.7Z" fill="#93c6e1" stroke="#93c6e1" stroke-width="2.4" stroke-linejoin="round"/>
<path d="M71.1,867.8 L75.8,867.1 L76.4,873.8 L72.4,875.1Z" fill="#93c6e1" stroke="#93c6e1" stroke-width="2.4" stroke-linejoin="round"/>
</g>
<g clip-path="url(#bc27)">
<path d="M122.4,851.0 C122.4,849.0 122.5,845.6 123.0,842.9 C123.6,840.2 124.5,837.3 125.7,834.9 C127.0,832.4 128.5,830.2 130.4,828.1 C132.3,826.1 134.7,824.3 137.1,822.8 C139.6,821.2 142.3,820.0 145.2,818.7 C148.1,817.5 151.5,816.2 154.6,815.4 C157.7,814.5 160.9,813.9 164.0,813.6 C167.1,813.3 170.7,813.2 173.4,813.6 C176.1,814.0 178.0,814.9 180.1,816.1 C182.3,817.2 184.3,818.9 186.2,820.8 C188.1,822.7 189.7,825.1 191.5,827.5 C193.3,829.8 195.3,832.3 196.9,834.9 C198.5,837.4 199.9,840.3 200.9,842.9 C201.9,845.5 202.8,848.3 203.0,850.3 C203.1,852.3 202.5,853.7 201.6,855.0 C200.7,856.3 199.4,857.2 197.6,858.0 C195.8,858.7 193.6,859.1 190.9,859.7 C188.2,860.3 184.4,860.9 181.5,861.7 C178.6,862.5 175.9,863.5 173.4,864.4 C170.9,865.3 168.9,866.2 166.7,867.1 C164.5,868.0 162.0,869.1 160.0,869.8 C158.0,870.5 156.1,871.3 154.6,871.4 C153.2,871.4 152.0,870.9 151.2,870.0 C150.5,869.2 150.5,867.8 150.3,866.4 C150.1,865.0 151.4,862.7 149.9,861.7 C148.4,860.8 144.2,861.0 141.2,860.6 C138.2,860.3 134.3,860.2 131.8,859.7 C129.2,859.2 127.2,858.5 125.7,857.7 C124.3,856.9 123.6,856.1 123.0,855.0 C122.5,853.9 122.4,853.0 122.4,851.0Z" fill="#404040"/>
<path d="M129.1,826.8 L134.5,824.1 L135.8,828.1 L133.1,830.8Z" fill="#93c6e1" stroke="#93c6e1" stroke-width="2.4" stroke-linejoin="round"/>
<path d="M133.1,836.2 L135.8,830.8 L139.8,828.1 L142.5,827.5 L143.9,830.8 L142.5,834.9 L138.5,837.5 L134.5,838.9Z" fill="#fbd3bd" stroke="#fbd3bd" stroke-width="2.4" stroke-linejoin="round"/>
<path d="M145.2,818.1 L154.6,814.7 L160.0,814.7 L162.7,818.7 L161.3,822.8 L157.3,824.8 L153.3,825.5 L147.9,824.8 L145.2,822.8Z" fill="#dd6d54" stroke="#dd6d54" stroke-width="2.4" stroke-linejoin="round"/>
<path d="M161.3,824.1 L165.4,821.4 L173.4,820.8 L177.4,817.4 L180.1,814.7 L187.5,820.1 L182.8,822.8 L177.4,826.8 L172.1,829.5 L166.7,830.2 L162.7,828.1Z" fill="#dd6d54" stroke="#dd6d54" stroke-width="2.4" stroke-linejoin="round"/>
<path d="M165.4,822.1 L173.4,820.8 L177.4,823.4 L176.1,827.5 L170.7,829.5 L165.4,829.5Z" fill="#c8323a" stroke="#c8323a" stroke-width="2.4" stroke-linejoin="round"/>
<path d="M166.7,830.8 L173.4,829.5 L181.5,830.2 L186.8,830.2 L186.8,833.5 L184.2,836.9 L180.1,840.2 L176.1,842.9 L173.4,838.9 L170.7,834.9Z" fill="#93c6e1" stroke="#93c6e1" stroke-width="2.4" stroke-linejoin="round"/>
<path d="M120.4,851.0 L127.7,849.0 L134.5,849.6 L138.5,850.3 L142.5,853.7 L145.9,857.7 L150.6,863.1 L141.2,862.8 L131.8,861.7 L124.4,859.7 L121.0,855.7Z" fill="#5aa2d3" stroke="#5aa2d3" stroke-width="2.4" stroke-linejoin="round"/>
<path d="M180.1,853.7 L184.2,848.3 L188.2,842.9 L189.5,845.6 L188.2,851.0 L184.2,855.0Z" fill="#c2dcee" stroke="#c2dcee" stroke-width="2.4" stroke-linejoin="round"/>
<path d="M173.4,852.3 L178.8,851.0 L181.5,855.0 L177.4,859.0 L172.1,863.1 L166.7,867.1 L169.4,861.7Z" fill="#93c6e1" stroke="#93c6e1" stroke-width="2.4" stroke-linejoin="round"/>
<path d="M149.2,865.8 L153.9,867.1 L155.9,872.5 L150.6,872.2Z" fill="#5aa2d3" stroke="#5aa2d3" stroke-width="2.4" stroke-linejoin="round"/>
<path d="M186.2,821.4 L190.9,825.5 L192.2,830.2Z" fill="#93c6e1" stroke="#93c6e1" stroke-width="2.4" stroke-linejoin="round"/>
</g>
<text x="108.8" y="385.8" font-size="15.7" font-weight="bold" font-style="normal" text-anchor="middle" fill="#1a1a1a" >rBD - HC</text>
<text x="333.3" y="385.8" font-size="15.7" font-weight="bold" font-style="normal" text-anchor="middle" fill="#1a1a1a" >BipD - HC</text>
<text x="561.1" y="385.8" font-size="15.7" font-weight="bold" font-style="normal" text-anchor="middle" fill="#1a1a1a" >BipM - HC</text>
<text x="105.5" y="553.5" font-size="15.7" font-weight="bold" font-style="normal" text-anchor="middle" fill="#1a1a1a" >mBD - rBD</text>
<text x="333.3" y="553.5" font-size="15.7" font-weight="bold" font-style="normal" text-anchor="middle" fill="#1a1a1a" >mBD - BipD</text>
<text x="557.3" y="553.5" font-size="15.7" font-weight="bold" font-style="normal" text-anchor="middle" fill="#1a1a1a" >mBD - BipM</text>
<text x="111.3" y="724.5" font-size="15.7" font-weight="bold" font-style="normal" text-anchor="middle" fill="#1a1a1a" >mBD - HC</text>
</svg></body></html>
